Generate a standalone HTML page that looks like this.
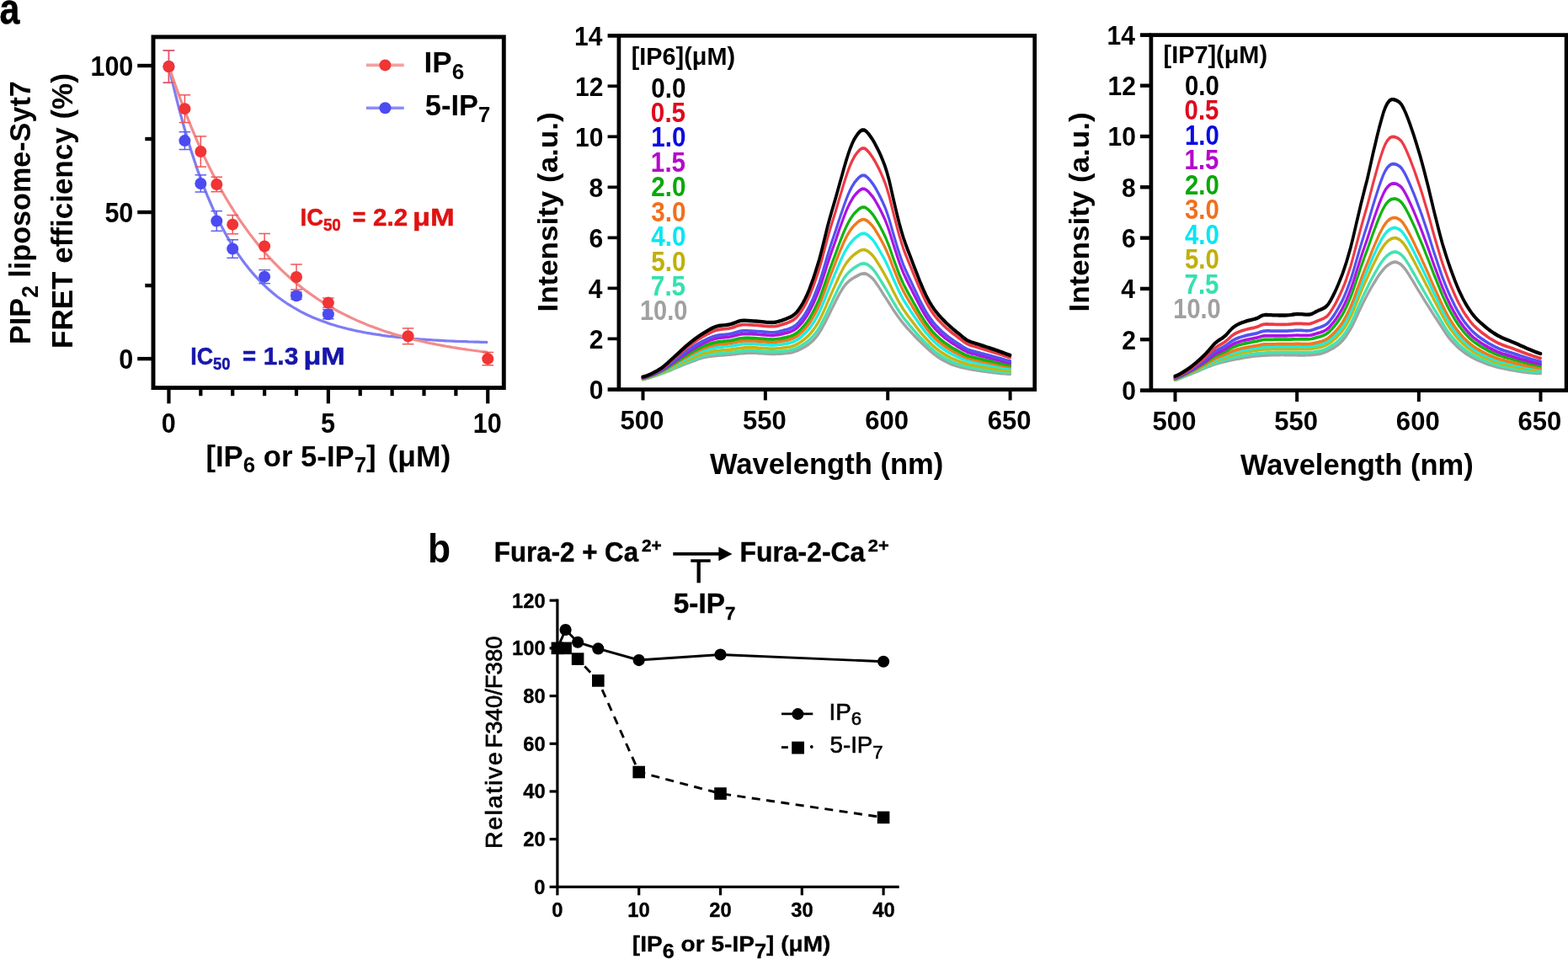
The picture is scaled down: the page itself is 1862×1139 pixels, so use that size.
<!DOCTYPE html>
<html lang="en"><head><meta charset="utf-8"><title>Figure</title>
<style>
html,body{margin:0;padding:0;background:#fff;}
body{width:1862px;height:1139px;overflow:hidden;}
svg{display:block;font-family:"Liberation Sans",sans-serif;}
text{white-space:pre;}
</style></head><body>
<svg width="1862" height="1139" viewBox="0 0 1862 1139">
<rect width="1862" height="1139" fill="#fff"/>
<g id="panelA">
<text transform="translate(-0.39,28.10) scale(0.8299,1)" font-weight="bold" fill="#000" stroke="#000" stroke-width="0.5"><tspan font-size="51.8">a</tspan></text>
<rect x="182.0" y="43.9" width="416.3" height="416.7" fill="none" stroke="#000" stroke-width="4.9"/>
<line x1="163.20" y1="426.10" x2="180.50" y2="426.10" stroke="#000" stroke-width="4.4" />
<line x1="163.20" y1="252.05" x2="180.50" y2="252.05" stroke="#000" stroke-width="4.4" />
<line x1="163.20" y1="78.00" x2="180.50" y2="78.00" stroke="#000" stroke-width="4.4" />
<line x1="172.30" y1="339.08" x2="180.50" y2="339.08" stroke="#000" stroke-width="4.4" />
<line x1="172.30" y1="165.03" x2="180.50" y2="165.03" stroke="#000" stroke-width="4.4" />
<line x1="200.45" y1="462.00" x2="200.45" y2="479.30" stroke="#000" stroke-width="4.2" />
<line x1="238.33" y1="462.00" x2="238.33" y2="470.20" stroke="#000" stroke-width="4.2" />
<line x1="276.21" y1="462.00" x2="276.21" y2="470.20" stroke="#000" stroke-width="4.2" />
<line x1="314.09" y1="462.00" x2="314.09" y2="470.20" stroke="#000" stroke-width="4.2" />
<line x1="351.97" y1="462.00" x2="351.97" y2="470.20" stroke="#000" stroke-width="4.2" />
<line x1="389.85" y1="462.00" x2="389.85" y2="479.30" stroke="#000" stroke-width="4.2" />
<line x1="427.73" y1="462.00" x2="427.73" y2="470.20" stroke="#000" stroke-width="4.2" />
<line x1="465.61" y1="462.00" x2="465.61" y2="470.20" stroke="#000" stroke-width="4.2" />
<line x1="503.49" y1="462.00" x2="503.49" y2="470.20" stroke="#000" stroke-width="4.2" />
<line x1="541.37" y1="462.00" x2="541.37" y2="470.20" stroke="#000" stroke-width="4.2" />
<line x1="579.25" y1="462.00" x2="579.25" y2="479.30" stroke="#000" stroke-width="4.2" />
<text transform="translate(141.30,437.80) scale(0.9100,1)" font-weight="bold" fill="#000" ><tspan font-size="33.5">0</tspan></text>
<text transform="translate(124.38,263.75) scale(0.9100,1)" font-weight="bold" fill="#000" ><tspan font-size="33.5">50</tspan></text>
<text transform="translate(107.46,89.70) scale(0.9100,1)" font-weight="bold" fill="#000" ><tspan font-size="33.5">100</tspan></text>
<text transform="translate(191.69,513.80) scale(0.9100,1)" font-weight="bold" fill="#000" ><tspan font-size="33.5">0</tspan></text>
<text transform="translate(381.01,513.80) scale(0.9100,1)" font-weight="bold" fill="#000" ><tspan font-size="33.5">5</tspan></text>
<text transform="translate(561.73,513.80) scale(0.9100,1)" font-weight="bold" fill="#000" ><tspan font-size="33.5">10</tspan></text>
<text y="554.00" font-weight="bold" fill="#000" ><tspan font-size="35" x="244.39" textLength="44.35" lengthAdjust="spacingAndGlyphs">[IP</tspan><tspan font-size="26" dy="7.20" textLength="14.34" lengthAdjust="spacingAndGlyphs">6</tspan><tspan font-size="35" dy="-7.20" textLength="117.64" lengthAdjust="spacingAndGlyphs"> or 5-IP</tspan><tspan font-size="26" dy="7.20" textLength="14.34" lengthAdjust="spacingAndGlyphs">7</tspan><tspan font-size="35" dy="-7.20" textLength="11.56" lengthAdjust="spacingAndGlyphs">]</tspan><tspan font-size="35" x="450.71" textLength="84.62" lengthAdjust="spacingAndGlyphs"> (μM)</tspan></text>
<text transform="translate(36.00,408.92) rotate(-90) scale(0.9623,1)" font-weight="bold" fill="#000" ><tspan font-size="35.5">PIP</tspan><tspan font-size="27.5" dy="8.70">2</tspan><tspan font-size="35.5" dy="-8.70"> liposome-Syt7</tspan></text>
<text transform="translate(85.50,413.98) rotate(-90) scale(0.9868,1)" font-weight="bold" fill="#000" ><tspan font-size="35.5">FRET efficiency (%)</tspan></text>
<path d="M200.4,78.0 L204.2,94.8 L208.0,110.7 L211.8,125.8 L215.6,140.1 L219.4,153.8 L223.2,166.7 L227.0,179.0 L230.8,190.6 L234.5,201.7 L238.3,212.1 L242.1,222.1 L245.9,231.6 L249.7,240.5 L253.5,249.1 L257.3,257.1 L261.1,264.8 L264.8,272.1 L268.6,279.0 L272.4,285.6 L276.2,291.8 L280.0,297.7 L283.8,303.3 L287.6,308.7 L291.4,313.7 L295.1,318.5 L298.9,323.1 L302.7,327.4 L306.5,331.5 L310.3,335.4 L314.1,339.1 L317.9,342.7 L321.7,346.0 L325.5,349.2 L329.2,352.2 L333.0,355.0 L336.8,357.7 L340.6,360.3 L344.4,362.7 L348.2,365.0 L352.0,367.2 L355.8,369.3 L359.5,371.3 L363.3,373.2 L367.1,375.0 L370.9,376.7 L374.7,378.3 L378.5,379.8 L382.3,381.3 L386.1,382.6 L389.9,383.9 L393.6,385.2 L397.4,386.3 L401.2,387.5 L405.0,388.5 L408.8,389.5 L412.6,390.5 L416.4,391.4 L420.2,392.3 L423.9,393.1 L427.7,393.8 L431.5,394.6 L435.3,395.3 L439.1,395.9 L442.9,396.6 L446.7,397.2 L450.5,397.7 L454.2,398.3 L458.0,398.8 L461.8,399.3 L465.6,399.7 L469.4,400.2 L473.2,400.6 L477.0,401.0 L480.8,401.4 L484.6,401.7 L488.3,402.0 L492.1,402.4 L495.9,402.7 L499.7,403.0 L503.5,403.2 L507.3,403.5 L511.1,403.7 L514.9,404.0 L518.6,404.2 L522.4,404.4 L526.2,404.6 L530.0,404.8 L533.8,405.0 L537.6,405.1 L541.4,405.3 L545.2,405.5 L548.9,405.6 L552.7,405.7 L556.5,405.9 L560.3,406.0 L564.1,406.1 L567.9,406.2 L571.7,406.3 L575.5,406.4 L579.2,406.5" fill="none" stroke="#7d7df3" stroke-width="3.2" stroke-linejoin="round" stroke-linecap="butt" />
<line x1="200.45" y1="59.90" x2="200.45" y2="98.19" stroke="#6060f0" stroke-width="1.5" />
<line x1="193.65" y1="59.90" x2="207.25" y2="59.90" stroke="#6060f0" stroke-width="1.5" />
<line x1="193.65" y1="98.19" x2="207.25" y2="98.19" stroke="#6060f0" stroke-width="1.5" />
<line x1="219.39" y1="156.67" x2="219.39" y2="177.56" stroke="#6060f0" stroke-width="1.5" />
<line x1="212.59" y1="156.67" x2="226.19" y2="156.67" stroke="#6060f0" stroke-width="1.5" />
<line x1="212.59" y1="177.56" x2="226.19" y2="177.56" stroke="#6060f0" stroke-width="1.5" />
<line x1="238.33" y1="207.84" x2="238.33" y2="228.03" stroke="#6060f0" stroke-width="1.5" />
<line x1="231.53" y1="207.84" x2="245.13" y2="207.84" stroke="#6060f0" stroke-width="1.5" />
<line x1="231.53" y1="228.03" x2="245.13" y2="228.03" stroke="#6060f0" stroke-width="1.5" />
<line x1="257.27" y1="250.66" x2="257.27" y2="274.33" stroke="#6060f0" stroke-width="1.5" />
<line x1="250.47" y1="250.66" x2="264.07" y2="250.66" stroke="#6060f0" stroke-width="1.5" />
<line x1="250.47" y1="274.33" x2="264.07" y2="274.33" stroke="#6060f0" stroke-width="1.5" />
<line x1="276.21" y1="284.77" x2="276.21" y2="306.35" stroke="#6060f0" stroke-width="1.5" />
<line x1="269.41" y1="284.77" x2="283.01" y2="284.77" stroke="#6060f0" stroke-width="1.5" />
<line x1="269.41" y1="306.35" x2="283.01" y2="306.35" stroke="#6060f0" stroke-width="1.5" />
<line x1="314.09" y1="320.63" x2="314.09" y2="336.64" stroke="#6060f0" stroke-width="1.5" />
<line x1="307.29" y1="320.63" x2="320.89" y2="320.63" stroke="#6060f0" stroke-width="1.5" />
<line x1="307.29" y1="336.64" x2="320.89" y2="336.64" stroke="#6060f0" stroke-width="1.5" />
<line x1="351.97" y1="347.08" x2="351.97" y2="355.44" stroke="#6060f0" stroke-width="1.5" />
<line x1="345.17" y1="347.08" x2="358.77" y2="347.08" stroke="#6060f0" stroke-width="1.5" />
<line x1="345.17" y1="355.44" x2="358.77" y2="355.44" stroke="#6060f0" stroke-width="1.5" />
<line x1="389.85" y1="367.62" x2="389.85" y2="378.76" stroke="#6060f0" stroke-width="1.5" />
<line x1="383.05" y1="367.62" x2="396.65" y2="367.62" stroke="#6060f0" stroke-width="1.5" />
<line x1="383.05" y1="378.76" x2="396.65" y2="378.76" stroke="#6060f0" stroke-width="1.5" />
<circle cx="200.45" cy="79.04" r="7" fill="#4b4bf1"/>
<circle cx="219.39" cy="167.11" r="7" fill="#4b4bf1"/>
<circle cx="238.33" cy="217.94" r="7" fill="#4b4bf1"/>
<circle cx="257.27" cy="262.49" r="7" fill="#4b4bf1"/>
<circle cx="276.21" cy="295.56" r="7" fill="#4b4bf1"/>
<circle cx="314.09" cy="328.63" r="7" fill="#4b4bf1"/>
<circle cx="351.97" cy="351.26" r="7" fill="#4b4bf1"/>
<circle cx="389.85" cy="373.19" r="7" fill="#4b4bf1"/>
<path d="M200.4,78.0 L204.2,89.4 L208.0,100.5 L211.8,111.1 L215.6,121.5 L219.4,131.5 L223.2,141.2 L227.0,150.6 L230.8,159.6 L234.5,168.4 L238.3,176.9 L242.1,185.1 L245.9,193.1 L249.7,200.8 L253.5,208.2 L257.3,215.4 L261.1,222.4 L264.8,229.2 L268.6,235.7 L272.4,242.0 L276.2,248.1 L280.0,254.1 L283.8,259.8 L287.6,265.3 L291.4,270.7 L295.1,275.9 L298.9,280.9 L302.7,285.8 L306.5,290.5 L310.3,295.1 L314.1,299.5 L317.9,303.7 L321.7,307.9 L325.5,311.9 L329.2,315.7 L333.0,319.5 L336.8,323.1 L340.6,326.6 L344.4,330.0 L348.2,333.3 L352.0,336.4 L355.8,339.5 L359.5,342.5 L363.3,345.4 L367.1,348.1 L370.9,350.8 L374.7,353.4 L378.5,356.0 L382.3,358.4 L386.1,360.8 L389.9,363.1 L393.6,365.3 L397.4,367.4 L401.2,369.5 L405.0,371.5 L408.8,373.4 L412.6,375.3 L416.4,377.1 L420.2,378.9 L423.9,380.6 L427.7,382.2 L431.5,383.8 L435.3,385.4 L439.1,386.9 L442.9,388.3 L446.7,389.7 L450.5,391.1 L454.2,392.4 L458.0,393.7 L461.8,394.9 L465.6,396.1 L469.4,397.2 L473.2,398.3 L477.0,399.4 L480.8,400.4 L484.6,401.5 L488.3,402.4 L492.1,403.4 L495.9,404.3 L499.7,405.2 L503.5,406.0 L507.3,406.9 L511.1,407.7 L514.9,408.4 L518.6,409.2 L522.4,409.9 L526.2,410.6 L530.0,411.3 L533.8,411.9 L537.6,412.6 L541.4,413.2 L545.2,413.8 L548.9,414.4 L552.7,414.9 L556.5,415.5 L560.3,416.0 L564.1,416.5 L567.9,417.0 L571.7,417.5 L575.5,417.9 L579.2,418.4" fill="none" stroke="#f38c8c" stroke-width="3.2" stroke-linejoin="round" stroke-linecap="butt" />
<line x1="200.45" y1="59.72" x2="200.45" y2="98.36" stroke="#f05656" stroke-width="1.5" />
<line x1="193.65" y1="59.72" x2="207.25" y2="59.72" stroke="#f05656" stroke-width="1.5" />
<line x1="193.65" y1="98.36" x2="207.25" y2="98.36" stroke="#f05656" stroke-width="1.5" />
<line x1="219.39" y1="112.81" x2="219.39" y2="145.53" stroke="#f05656" stroke-width="1.5" />
<line x1="212.59" y1="112.81" x2="226.19" y2="112.81" stroke="#f05656" stroke-width="1.5" />
<line x1="212.59" y1="145.53" x2="226.19" y2="145.53" stroke="#f05656" stroke-width="1.5" />
<line x1="238.33" y1="161.89" x2="238.33" y2="198.09" stroke="#f05656" stroke-width="1.5" />
<line x1="231.53" y1="161.89" x2="245.13" y2="161.89" stroke="#f05656" stroke-width="1.5" />
<line x1="231.53" y1="198.09" x2="245.13" y2="198.09" stroke="#f05656" stroke-width="1.5" />
<line x1="257.27" y1="210.28" x2="257.27" y2="227.68" stroke="#f05656" stroke-width="1.5" />
<line x1="250.47" y1="210.28" x2="264.07" y2="210.28" stroke="#f05656" stroke-width="1.5" />
<line x1="250.47" y1="227.68" x2="264.07" y2="227.68" stroke="#f05656" stroke-width="1.5" />
<line x1="276.21" y1="255.53" x2="276.21" y2="277.81" stroke="#f05656" stroke-width="1.5" />
<line x1="269.41" y1="255.53" x2="283.01" y2="255.53" stroke="#f05656" stroke-width="1.5" />
<line x1="269.41" y1="277.81" x2="283.01" y2="277.81" stroke="#f05656" stroke-width="1.5" />
<line x1="314.09" y1="277.46" x2="314.09" y2="307.40" stroke="#f05656" stroke-width="1.5" />
<line x1="307.29" y1="277.46" x2="320.89" y2="277.46" stroke="#f05656" stroke-width="1.5" />
<line x1="307.29" y1="307.40" x2="320.89" y2="307.40" stroke="#f05656" stroke-width="1.5" />
<line x1="351.97" y1="314.01" x2="351.97" y2="343.95" stroke="#f05656" stroke-width="1.5" />
<line x1="345.17" y1="314.01" x2="358.77" y2="314.01" stroke="#f05656" stroke-width="1.5" />
<line x1="345.17" y1="343.95" x2="358.77" y2="343.95" stroke="#f05656" stroke-width="1.5" />
<line x1="389.85" y1="354.04" x2="389.85" y2="365.18" stroke="#f05656" stroke-width="1.5" />
<line x1="383.05" y1="354.04" x2="396.65" y2="354.04" stroke="#f05656" stroke-width="1.5" />
<line x1="383.05" y1="365.18" x2="396.65" y2="365.18" stroke="#f05656" stroke-width="1.5" />
<line x1="484.55" y1="389.90" x2="484.55" y2="408.70" stroke="#f05656" stroke-width="1.5" />
<line x1="477.75" y1="389.90" x2="491.35" y2="389.90" stroke="#f05656" stroke-width="1.5" />
<line x1="477.75" y1="408.70" x2="491.35" y2="408.70" stroke="#f05656" stroke-width="1.5" />
<line x1="579.25" y1="418.44" x2="579.25" y2="433.76" stroke="#f05656" stroke-width="1.5" />
<line x1="572.45" y1="418.44" x2="586.05" y2="418.44" stroke="#f05656" stroke-width="1.5" />
<line x1="572.45" y1="433.76" x2="586.05" y2="433.76" stroke="#f05656" stroke-width="1.5" />
<circle cx="200.45" cy="79.04" r="7" fill="#f13434"/>
<circle cx="219.39" cy="129.17" r="7" fill="#f13434"/>
<circle cx="238.33" cy="179.99" r="7" fill="#f13434"/>
<circle cx="257.27" cy="218.98" r="7" fill="#f13434"/>
<circle cx="276.21" cy="266.67" r="7" fill="#f13434"/>
<circle cx="314.09" cy="292.43" r="7" fill="#f13434"/>
<circle cx="351.97" cy="328.98" r="7" fill="#f13434"/>
<circle cx="389.85" cy="359.61" r="7" fill="#f13434"/>
<circle cx="484.55" cy="399.30" r="7" fill="#f13434"/>
<circle cx="579.25" cy="426.10" r="7" fill="#f13434"/>
<line x1="434.80" y1="77.40" x2="479.70" y2="77.40" stroke="#f3a0a0" stroke-width="3.6" />
<circle cx="457.4" cy="77.4" r="7" fill="#f13434"/>
<line x1="434.80" y1="128.30" x2="479.70" y2="128.30" stroke="#8c8cf3" stroke-width="3.6" />
<circle cx="457.4" cy="128.3" r="7" fill="#4b4bf1"/>
<text transform="translate(503.52,86.40) scale(1.0244,1)" font-weight="bold" fill="#000" ><tspan font-size="34.3">IP</tspan><tspan font-size="25.5" dy="7.70">6</tspan></text>
<text transform="translate(504.76,137.10) scale(1.0065,1)" font-weight="bold" fill="#000" ><tspan font-size="34.3">5-IP</tspan><tspan font-size="25.5" dy="7.70">7</tspan></text>
<text y="268.00" font-weight="bold" fill="#e01212" stroke="#e01212" stroke-width="0.5" stroke-linejoin="round"><tspan font-size="30" x="356.52" textLength="27.43" lengthAdjust="spacingAndGlyphs">IC</tspan><tspan font-size="20.5" dy="6.40" textLength="20.85" lengthAdjust="spacingAndGlyphs">50</tspan><tspan font-size="30" x="411.45" dy="-6.40" textLength="30.46" lengthAdjust="spacingAndGlyphs"> = </tspan><tspan font-size="30" x="443.06" textLength="41.12" lengthAdjust="spacingAndGlyphs">2.2</tspan><tspan font-size="30" x="480.48" textLength="59.14" lengthAdjust="spacingAndGlyphs"> μM</tspan></text>
<text y="432.90" font-weight="bold" fill="#1616aa" stroke="#1616aa" stroke-width="0.5" stroke-linejoin="round"><tspan font-size="30" x="226.15" textLength="26.95" lengthAdjust="spacingAndGlyphs">IC</tspan><tspan font-size="20.5" dy="6.40" textLength="20.48" lengthAdjust="spacingAndGlyphs">50</tspan><tspan font-size="30" x="280.39" dy="-6.40" textLength="31.37" lengthAdjust="spacingAndGlyphs"> = </tspan><tspan font-size="30" x="312.81" textLength="41.44" lengthAdjust="spacingAndGlyphs">1.3</tspan><tspan font-size="30" x="350.97" textLength="58.74" lengthAdjust="spacingAndGlyphs"> μM</tspan></text>
</g>
<g id="panelIP6">
<path d="M763.2,450.2 L765.6,449.7 L768.1,449.0 L770.5,448.2 L773.0,447.4 L775.4,446.7 L777.8,445.9 L780.3,445.0 L782.7,444.2 L785.2,443.3 L787.6,442.5 L790.0,441.6 L792.5,440.6 L794.9,439.7 L797.3,438.7 L799.8,437.6 L802.2,436.6 L804.7,435.6 L807.1,434.5 L809.5,433.5 L812.0,432.6 L814.4,431.6 L816.8,430.7 L819.3,429.8 L821.7,428.8 L824.2,427.9 L826.6,427.0 L829.0,426.1 L831.5,425.3 L833.9,424.6 L836.3,423.9 L838.8,423.4 L841.2,423.0 L843.7,422.7 L846.1,422.4 L848.5,422.2 L851.0,421.9 L853.4,421.7 L855.8,421.5 L858.3,421.4 L860.7,421.2 L863.2,421.0 L865.6,420.8 L868.0,420.6 L870.5,420.3 L872.9,420.1 L875.4,419.8 L877.8,419.5 L880.2,419.3 L882.7,419.1 L885.1,418.9 L887.5,418.8 L890.0,418.7 L892.4,418.7 L894.9,418.7 L897.3,418.8 L899.7,418.9 L902.2,419.1 L904.6,419.2 L907.0,419.4 L909.5,419.5 L911.9,419.7 L914.4,419.8 L916.8,419.8 L919.2,419.8 L921.7,419.8 L924.1,419.7 L926.5,419.6 L929.0,419.4 L931.4,419.2 L933.9,419.0 L936.3,418.7 L938.7,418.4 L941.2,417.9 L943.6,417.1 L946.1,416.2 L948.5,415.2 L950.9,414.0 L953.4,412.7 L955.8,411.4 L958.2,409.9 L960.7,408.1 L963.1,406.1 L965.6,403.8 L968.0,401.2 L970.4,398.2 L972.9,394.7 L975.3,390.8 L977.7,386.5 L980.2,381.9 L982.6,377.0 L985.1,372.0 L987.5,367.0 L989.9,362.1 L992.4,357.1 L994.8,352.4 L997.2,347.9 L999.7,343.8 L1002.1,340.0 L1004.6,336.9 L1007.0,334.5 L1009.4,332.4 L1011.9,330.7 L1014.3,329.2 L1016.8,327.8 L1019.2,326.5 L1021.6,325.3 L1024.1,324.6 L1026.5,324.4 L1028.9,325.0 L1031.4,326.4 L1033.8,328.2 L1036.3,330.4 L1038.7,333.3 L1041.1,336.7 L1043.6,340.4 L1046.0,344.2 L1048.4,348.0 L1050.9,351.9 L1053.3,355.7 L1055.8,359.6 L1058.2,363.4 L1060.6,367.2 L1063.1,370.8 L1065.5,374.3 L1067.9,377.6 L1070.4,380.9 L1072.8,383.9 L1075.3,386.8 L1077.7,389.6 L1080.1,392.2 L1082.6,394.9 L1085.0,397.5 L1087.5,400.0 L1089.9,402.5 L1092.3,404.9 L1094.8,407.3 L1097.2,409.6 L1099.6,411.8 L1102.1,414.0 L1104.5,416.2 L1107.0,418.2 L1109.4,420.2 L1111.8,422.1 L1114.3,423.8 L1116.7,425.4 L1119.1,426.8 L1121.6,428.1 L1124.0,429.4 L1126.5,430.6 L1128.9,431.7 L1131.3,432.7 L1133.8,433.5 L1136.2,434.3 L1138.6,435.0 L1141.1,435.6 L1143.5,436.2 L1146.0,436.7 L1148.4,437.3 L1150.8,437.7 L1153.3,438.2 L1155.7,438.6 L1158.2,439.0 L1160.6,439.4 L1163.0,439.8 L1165.5,440.2 L1167.9,440.5 L1170.3,440.8 L1172.8,441.2 L1175.2,441.5 L1177.7,441.8 L1180.1,442.1 L1182.5,442.3 L1185.0,442.6 L1187.4,442.9 L1189.8,443.1 L1192.3,443.3 L1194.7,443.5 L1197.2,443.7 L1199.6,443.8 L1199.6,444.7 L1197.2,444.6 L1194.7,444.4 L1192.3,444.2 L1189.8,444.0 L1187.4,443.8 L1185.0,443.5 L1182.5,443.2 L1180.1,443.0 L1177.7,442.7 L1175.2,442.4 L1172.8,442.1 L1170.3,441.7 L1167.9,441.4 L1165.5,441.1 L1163.0,440.7 L1160.6,440.3 L1158.2,439.9 L1155.7,439.5 L1153.3,439.1 L1150.8,438.6 L1148.4,438.2 L1146.0,437.6 L1143.5,437.1 L1141.1,436.5 L1138.6,435.9 L1136.2,435.2 L1133.8,434.4 L1131.3,433.6 L1128.9,432.6 L1126.5,431.5 L1124.0,430.3 L1121.6,429.0 L1119.1,427.7 L1116.7,426.3 L1114.3,424.7 L1111.8,423.0 L1109.4,421.1 L1107.0,419.1 L1104.5,417.1 L1102.1,414.9 L1099.6,412.7 L1097.2,410.5 L1094.8,408.2 L1092.3,405.8 L1089.9,403.4 L1087.5,400.9 L1085.0,398.4 L1082.6,395.8 L1080.1,393.1 L1077.7,390.5 L1075.3,387.7 L1072.8,384.8 L1070.4,381.8 L1067.9,378.5 L1065.5,375.2 L1063.1,371.7 L1060.6,368.1 L1058.2,364.3 L1055.8,360.5 L1053.3,356.6 L1050.9,352.8 L1048.4,348.9 L1046.0,345.1 L1043.6,341.3 L1041.1,337.6 L1038.7,334.2 L1036.3,331.3 L1033.8,329.1 L1031.4,327.3 L1028.9,325.9 L1026.5,325.3 L1024.1,325.5 L1021.6,326.2 L1019.2,327.4 L1016.8,328.7 L1014.3,330.1 L1011.9,331.6 L1009.4,333.3 L1007.0,335.4 L1004.6,337.8 L1002.1,340.9 L999.7,344.7 L997.2,348.8 L994.8,353.3 L992.4,358.0 L989.9,363.0 L987.5,367.9 L985.1,372.9 L982.6,377.9 L980.2,382.8 L977.7,387.4 L975.3,391.7 L972.9,395.6 L970.4,399.1 L968.0,402.1 L965.6,404.7 L963.1,407.0 L960.7,409.0 L958.2,410.8 L955.8,412.3 L953.4,413.6 L950.9,414.9 L948.5,416.1 L946.1,417.1 L943.6,418.0 L941.2,418.8 L938.7,419.3 L936.3,419.6 L933.9,419.9 L931.4,420.1 L929.0,420.3 L926.5,420.5 L924.1,420.6 L921.7,420.7 L919.2,420.7 L916.8,420.7 L914.4,420.7 L911.9,420.6 L909.5,420.4 L907.0,420.3 L904.6,420.1 L902.2,420.0 L899.7,419.8 L897.3,419.7 L894.9,419.6 L892.4,419.6 L890.0,419.6 L887.5,419.7 L885.1,419.8 L882.7,420.0 L880.2,420.2 L877.8,420.4 L875.4,420.7 L872.9,421.0 L870.5,421.2 L868.0,421.5 L865.6,421.7 L863.2,421.9 L860.7,422.1 L858.3,422.3 L855.8,422.4 L853.4,422.6 L851.0,422.8 L848.5,423.1 L846.1,423.3 L843.7,423.6 L841.2,423.9 L838.8,424.3 L836.3,424.8 L833.9,425.5 L831.5,426.2 L829.0,427.0 L826.6,427.9 L824.2,428.8 L821.7,429.7 L819.3,430.7 L816.8,431.6 L814.4,432.5 L812.0,433.5 L809.5,434.4 L807.1,435.4 L804.7,436.5 L802.2,437.5 L799.8,438.5 L797.3,439.6 L794.9,440.6 L792.5,441.5 L790.0,442.5 L787.6,443.4 L785.2,444.2 L782.7,445.1 L780.3,445.9 L777.8,446.8 L775.4,447.6 L773.0,448.3 L770.5,449.1 L768.1,449.9 L765.6,450.6 L763.2,451.1Z" fill="#a2a2a2" stroke="#a2a2a2" stroke-width="2.85" stroke-linejoin="round"/>
<path d="M763.2,450.0 L765.6,449.5 L768.1,448.7 L770.5,448.0 L773.0,447.2 L775.4,446.4 L777.8,445.5 L780.3,444.7 L782.7,443.8 L785.2,442.9 L787.6,442.0 L790.0,441.0 L792.5,440.0 L794.9,438.9 L797.3,437.8 L799.8,436.7 L802.2,435.6 L804.7,434.4 L807.1,433.3 L809.5,432.3 L812.0,431.2 L814.4,430.2 L816.8,429.2 L819.3,428.2 L821.7,427.2 L824.2,426.2 L826.6,425.2 L829.0,424.2 L831.5,423.4 L833.9,422.6 L836.3,421.9 L838.8,421.3 L841.2,420.8 L843.7,420.4 L846.1,420.1 L848.5,419.8 L851.0,419.5 L853.4,419.3 L855.8,419.1 L858.3,418.9 L860.7,418.7 L863.2,418.5 L865.6,418.3 L868.0,418.0 L870.5,417.8 L872.9,417.5 L875.4,417.1 L877.8,416.8 L880.2,416.6 L882.7,416.4 L885.1,416.2 L887.5,416.1 L890.0,416.0 L892.4,416.0 L894.9,416.1 L897.3,416.1 L899.7,416.3 L902.2,416.4 L904.6,416.6 L907.0,416.8 L909.5,416.9 L911.9,417.1 L914.4,417.2 L916.8,417.2 L919.2,417.2 L921.7,417.1 L924.1,417.0 L926.5,416.8 L929.0,416.6 L931.4,416.4 L933.9,416.1 L936.3,415.8 L938.7,415.4 L941.2,414.8 L943.6,414.0 L946.1,413.0 L948.5,411.8 L950.9,410.5 L953.4,409.0 L955.8,407.4 L958.2,405.7 L960.7,403.7 L963.1,401.3 L965.6,398.7 L968.0,395.8 L970.4,392.5 L972.9,388.7 L975.3,384.3 L977.7,379.7 L980.2,374.7 L982.6,369.5 L985.1,364.2 L987.5,359.0 L989.9,353.8 L992.4,348.6 L994.8,343.5 L997.2,338.8 L999.7,334.3 L1002.1,330.2 L1004.6,326.7 L1007.0,323.9 L1009.4,321.5 L1011.9,319.5 L1014.3,317.7 L1016.8,316.1 L1019.2,314.7 L1021.6,313.4 L1024.1,312.6 L1026.5,312.5 L1028.9,313.2 L1031.4,314.6 L1033.8,316.5 L1036.3,318.9 L1038.7,321.8 L1041.1,325.4 L1043.6,329.2 L1046.0,333.0 L1048.4,337.0 L1050.9,341.0 L1053.3,345.2 L1055.8,349.4 L1058.2,353.7 L1060.6,357.9 L1063.1,362.0 L1065.5,366.0 L1067.9,369.8 L1070.4,373.4 L1072.8,376.8 L1075.3,380.0 L1077.7,383.0 L1080.1,385.9 L1082.6,388.8 L1085.0,391.7 L1087.5,394.5 L1089.9,397.3 L1092.3,400.0 L1094.8,402.6 L1097.2,405.1 L1099.6,407.5 L1102.1,409.9 L1104.5,412.2 L1107.0,414.4 L1109.4,416.5 L1111.8,418.5 L1114.3,420.3 L1116.7,421.9 L1119.1,423.4 L1121.6,424.8 L1124.0,426.2 L1126.5,427.4 L1128.9,428.6 L1131.3,429.7 L1133.8,430.6 L1136.2,431.5 L1138.6,432.2 L1141.1,433.0 L1143.5,433.7 L1146.0,434.3 L1148.4,434.9 L1150.8,435.4 L1153.3,435.9 L1155.7,436.4 L1158.2,436.8 L1160.6,437.2 L1163.0,437.6 L1165.5,438.0 L1167.9,438.4 L1170.3,438.8 L1172.8,439.1 L1175.2,439.5 L1177.7,439.8 L1180.1,440.1 L1182.5,440.4 L1185.0,440.8 L1187.4,441.0 L1189.8,441.3 L1192.3,441.6 L1194.7,441.8 L1197.2,442.1 L1199.6,442.2 L1199.6,443.1 L1197.2,443.0 L1194.7,442.7 L1192.3,442.5 L1189.8,442.2 L1187.4,441.9 L1185.0,441.7 L1182.5,441.3 L1180.1,441.0 L1177.7,440.7 L1175.2,440.4 L1172.8,440.0 L1170.3,439.7 L1167.9,439.3 L1165.5,438.9 L1163.0,438.5 L1160.6,438.1 L1158.2,437.7 L1155.7,437.3 L1153.3,436.8 L1150.8,436.3 L1148.4,435.8 L1146.0,435.2 L1143.5,434.6 L1141.1,433.9 L1138.6,433.1 L1136.2,432.4 L1133.8,431.5 L1131.3,430.6 L1128.9,429.5 L1126.5,428.3 L1124.0,427.1 L1121.6,425.7 L1119.1,424.3 L1116.7,422.8 L1114.3,421.2 L1111.8,419.4 L1109.4,417.4 L1107.0,415.3 L1104.5,413.1 L1102.1,410.8 L1099.6,408.4 L1097.2,406.0 L1094.8,403.5 L1092.3,400.9 L1089.9,398.2 L1087.5,395.4 L1085.0,392.6 L1082.6,389.7 L1080.1,386.8 L1077.7,383.9 L1075.3,380.9 L1072.8,377.7 L1070.4,374.3 L1067.9,370.7 L1065.5,366.9 L1063.1,362.9 L1060.6,358.8 L1058.2,354.6 L1055.8,350.3 L1053.3,346.1 L1050.9,341.9 L1048.4,337.9 L1046.0,333.9 L1043.6,330.1 L1041.1,326.3 L1038.7,322.7 L1036.3,319.8 L1033.8,317.4 L1031.4,315.5 L1028.9,314.1 L1026.5,313.4 L1024.1,313.5 L1021.6,314.3 L1019.2,315.6 L1016.8,317.0 L1014.3,318.6 L1011.9,320.4 L1009.4,322.4 L1007.0,324.8 L1004.6,327.6 L1002.1,331.1 L999.7,335.2 L997.2,339.7 L994.8,344.4 L992.4,349.5 L989.9,354.7 L987.5,359.9 L985.1,365.1 L982.6,370.4 L980.2,375.6 L977.7,380.6 L975.3,385.2 L972.9,389.6 L970.4,393.4 L968.0,396.7 L965.6,399.6 L963.1,402.2 L960.7,404.6 L958.2,406.6 L955.8,408.3 L953.4,409.9 L950.9,411.4 L948.5,412.7 L946.1,413.9 L943.6,414.9 L941.2,415.7 L938.7,416.3 L936.3,416.7 L933.9,417.0 L931.4,417.3 L929.0,417.5 L926.5,417.7 L924.1,417.9 L921.7,418.0 L919.2,418.1 L916.8,418.1 L914.4,418.1 L911.9,418.0 L909.5,417.8 L907.0,417.7 L904.6,417.5 L902.2,417.3 L899.7,417.2 L897.3,417.0 L894.9,417.0 L892.4,416.9 L890.0,416.9 L887.5,417.0 L885.1,417.1 L882.7,417.3 L880.2,417.5 L877.8,417.7 L875.4,418.0 L872.9,418.4 L870.5,418.7 L868.0,418.9 L865.6,419.2 L863.2,419.4 L860.7,419.6 L858.3,419.8 L855.8,420.0 L853.4,420.2 L851.0,420.4 L848.5,420.7 L846.1,421.0 L843.7,421.3 L841.2,421.7 L838.8,422.2 L836.3,422.8 L833.9,423.5 L831.5,424.3 L829.0,425.1 L826.6,426.1 L824.2,427.1 L821.7,428.1 L819.3,429.1 L816.8,430.1 L814.4,431.1 L812.0,432.1 L809.5,433.2 L807.1,434.2 L804.7,435.3 L802.2,436.5 L799.8,437.6 L797.3,438.7 L794.9,439.8 L792.5,440.9 L790.0,441.9 L787.6,442.9 L785.2,443.8 L782.7,444.7 L780.3,445.6 L777.8,446.4 L775.4,447.3 L773.0,448.1 L770.5,448.9 L768.1,449.6 L765.6,450.4 L763.2,450.9Z" fill="#44e2b2" stroke="#44e2b2" stroke-width="2.85" stroke-linejoin="round"/>
<path d="M763.2,449.7 L765.6,449.2 L768.1,448.4 L770.5,447.7 L773.0,446.8 L775.4,446.0 L777.8,445.1 L780.3,444.2 L782.7,443.2 L785.2,442.3 L787.6,441.3 L790.0,440.2 L792.5,439.0 L794.9,437.9 L797.3,436.6 L799.8,435.4 L802.2,434.2 L804.7,432.9 L807.1,431.7 L809.5,430.5 L812.0,429.3 L814.4,428.2 L816.8,427.1 L819.3,426.0 L821.7,424.9 L824.2,423.8 L826.6,422.7 L829.0,421.7 L831.5,420.7 L833.9,419.8 L836.3,419.1 L838.8,418.4 L841.2,417.8 L843.7,417.3 L846.1,416.9 L848.5,416.5 L851.0,416.2 L853.4,415.9 L855.8,415.7 L858.3,415.5 L860.7,415.3 L863.2,415.1 L865.6,414.8 L868.0,414.6 L870.5,414.2 L872.9,413.9 L875.4,413.5 L877.8,413.1 L880.2,412.9 L882.7,412.7 L885.1,412.5 L887.5,412.4 L890.0,412.4 L892.4,412.4 L894.9,412.4 L897.3,412.5 L899.7,412.7 L902.2,412.8 L904.6,413.0 L907.0,413.2 L909.5,413.3 L911.9,413.5 L914.4,413.6 L916.8,413.6 L919.2,413.6 L921.7,413.5 L924.1,413.3 L926.5,413.1 L929.0,412.8 L931.4,412.5 L933.9,412.2 L936.3,411.8 L938.7,411.4 L941.2,410.7 L943.6,409.8 L946.1,408.6 L948.5,407.2 L950.9,405.7 L953.4,403.9 L955.8,402.0 L958.2,399.9 L960.7,397.5 L963.1,394.8 L965.6,391.7 L968.0,388.3 L970.4,384.6 L972.9,380.3 L975.3,375.5 L977.7,370.3 L980.2,364.8 L982.6,359.1 L985.1,353.4 L987.5,347.8 L989.9,342.3 L992.4,336.8 L994.8,331.4 L997.2,326.2 L999.7,321.3 L1002.1,316.7 L1004.6,312.7 L1007.0,309.4 L1009.4,306.6 L1011.9,304.1 L1014.3,302.0 L1016.8,300.1 L1019.2,298.5 L1021.6,297.1 L1024.1,296.3 L1026.5,296.2 L1028.9,297.0 L1031.4,298.5 L1033.8,300.6 L1036.3,303.0 L1038.7,306.1 L1041.1,309.8 L1043.6,313.7 L1046.0,317.7 L1048.4,321.8 L1050.9,326.1 L1053.3,330.6 L1055.8,335.4 L1058.2,340.3 L1060.6,345.2 L1063.1,350.0 L1065.5,354.6 L1067.9,359.0 L1070.4,363.1 L1072.8,367.0 L1075.3,370.6 L1077.7,374.0 L1080.1,377.3 L1082.6,380.5 L1085.0,383.7 L1087.5,386.9 L1089.9,390.1 L1092.3,393.1 L1094.8,396.1 L1097.2,398.9 L1099.6,401.6 L1102.1,404.2 L1104.5,406.8 L1107.0,409.2 L1109.4,411.4 L1111.8,413.5 L1114.3,415.4 L1116.7,417.2 L1119.1,418.8 L1121.6,420.3 L1124.0,421.8 L1126.5,423.1 L1128.9,424.4 L1131.3,425.6 L1133.8,426.6 L1136.2,427.6 L1138.6,428.5 L1141.1,429.4 L1143.5,430.2 L1146.0,431.0 L1148.4,431.7 L1150.8,432.3 L1153.3,432.8 L1155.7,433.3 L1158.2,433.8 L1160.6,434.2 L1163.0,434.7 L1165.5,435.1 L1167.9,435.5 L1170.3,435.9 L1172.8,436.3 L1175.2,436.7 L1177.7,437.1 L1180.1,437.5 L1182.5,437.9 L1185.0,438.2 L1187.4,438.6 L1189.8,438.9 L1192.3,439.2 L1194.7,439.6 L1197.2,439.9 L1199.6,440.1 L1199.6,441.0 L1197.2,440.8 L1194.7,440.5 L1192.3,440.1 L1189.8,439.8 L1187.4,439.5 L1185.0,439.1 L1182.5,438.8 L1180.1,438.4 L1177.7,438.0 L1175.2,437.6 L1172.8,437.2 L1170.3,436.8 L1167.9,436.4 L1165.5,436.0 L1163.0,435.6 L1160.6,435.1 L1158.2,434.7 L1155.7,434.2 L1153.3,433.7 L1150.8,433.2 L1148.4,432.6 L1146.0,431.9 L1143.5,431.1 L1141.1,430.3 L1138.6,429.4 L1136.2,428.5 L1133.8,427.5 L1131.3,426.5 L1128.9,425.3 L1126.5,424.0 L1124.0,422.7 L1121.6,421.2 L1119.1,419.7 L1116.7,418.1 L1114.3,416.3 L1111.8,414.4 L1109.4,412.3 L1107.0,410.1 L1104.5,407.7 L1102.1,405.1 L1099.6,402.5 L1097.2,399.8 L1094.8,397.0 L1092.3,394.0 L1089.9,391.0 L1087.5,387.8 L1085.0,384.6 L1082.6,381.4 L1080.1,378.2 L1077.7,374.9 L1075.3,371.5 L1072.8,367.9 L1070.4,364.0 L1067.9,359.9 L1065.5,355.5 L1063.1,350.9 L1060.6,346.1 L1058.2,341.2 L1055.8,336.3 L1053.3,331.5 L1050.9,327.0 L1048.4,322.7 L1046.0,318.6 L1043.6,314.6 L1041.1,310.7 L1038.7,307.0 L1036.3,303.9 L1033.8,301.5 L1031.4,299.4 L1028.9,297.9 L1026.5,297.1 L1024.1,297.2 L1021.6,298.0 L1019.2,299.4 L1016.8,301.0 L1014.3,302.9 L1011.9,305.0 L1009.4,307.5 L1007.0,310.3 L1004.6,313.6 L1002.1,317.6 L999.7,322.2 L997.2,327.1 L994.8,332.3 L992.4,337.7 L989.9,343.2 L987.5,348.7 L985.1,354.3 L982.6,360.0 L980.2,365.7 L977.7,371.2 L975.3,376.4 L972.9,381.2 L970.4,385.5 L968.0,389.2 L965.6,392.6 L963.1,395.7 L960.7,398.4 L958.2,400.8 L955.8,402.9 L953.4,404.8 L950.9,406.6 L948.5,408.1 L946.1,409.5 L943.6,410.7 L941.2,411.6 L938.7,412.3 L936.3,412.7 L933.9,413.1 L931.4,413.4 L929.0,413.7 L926.5,414.0 L924.1,414.2 L921.7,414.4 L919.2,414.5 L916.8,414.5 L914.4,414.5 L911.9,414.4 L909.5,414.2 L907.0,414.1 L904.6,413.9 L902.2,413.7 L899.7,413.6 L897.3,413.4 L894.9,413.3 L892.4,413.3 L890.0,413.3 L887.5,413.3 L885.1,413.4 L882.7,413.6 L880.2,413.8 L877.8,414.0 L875.4,414.4 L872.9,414.8 L870.5,415.1 L868.0,415.5 L865.6,415.7 L863.2,416.0 L860.7,416.2 L858.3,416.4 L855.8,416.6 L853.4,416.8 L851.0,417.1 L848.5,417.4 L846.1,417.8 L843.7,418.2 L841.2,418.7 L838.8,419.3 L836.3,420.0 L833.9,420.7 L831.5,421.6 L829.0,422.6 L826.6,423.6 L824.2,424.7 L821.7,425.8 L819.3,426.9 L816.8,428.0 L814.4,429.1 L812.0,430.2 L809.5,431.4 L807.1,432.6 L804.7,433.8 L802.2,435.1 L799.8,436.3 L797.3,437.5 L794.9,438.8 L792.5,439.9 L790.0,441.1 L787.6,442.2 L785.2,443.2 L782.7,444.1 L780.3,445.1 L777.8,446.0 L775.4,446.9 L773.0,447.7 L770.5,448.6 L768.1,449.3 L765.6,450.1 L763.2,450.6Z" fill="#c6b612" stroke="#c6b612" stroke-width="2.85" stroke-linejoin="round"/>
<path d="M763.2,449.3 L765.6,448.8 L768.1,448.1 L770.5,447.3 L773.0,446.4 L775.4,445.5 L777.8,444.6 L780.3,443.6 L782.7,442.6 L785.2,441.5 L787.6,440.4 L790.0,439.2 L792.5,438.0 L794.9,436.6 L797.3,435.3 L799.8,433.9 L802.2,432.5 L804.7,431.1 L807.1,429.8 L809.5,428.4 L812.0,427.1 L814.4,425.8 L816.8,424.6 L819.3,423.4 L821.7,422.1 L824.2,420.9 L826.6,419.7 L829.0,418.6 L831.5,417.6 L833.9,416.6 L836.3,415.7 L838.8,415.0 L841.2,414.3 L843.7,413.7 L846.1,413.1 L848.5,412.6 L851.0,412.2 L853.4,411.9 L855.8,411.7 L858.3,411.5 L860.7,411.3 L863.2,411.0 L865.6,410.8 L868.0,410.5 L870.5,410.1 L872.9,409.6 L875.4,409.2 L877.8,408.8 L880.2,408.5 L882.7,408.3 L885.1,408.1 L887.5,408.1 L890.0,408.0 L892.4,408.1 L894.9,408.1 L897.3,408.2 L899.7,408.4 L902.2,408.5 L904.6,408.7 L907.0,408.9 L909.5,409.1 L911.9,409.2 L914.4,409.4 L916.8,409.4 L919.2,409.4 L921.7,409.2 L924.1,409.0 L926.5,408.7 L929.0,408.4 L931.4,408.0 L933.9,407.6 L936.3,407.1 L938.7,406.5 L941.2,405.8 L943.6,404.8 L946.1,403.4 L948.5,401.8 L950.9,399.9 L953.4,397.9 L955.8,395.6 L958.2,393.1 L960.7,390.2 L963.1,387.0 L965.6,383.4 L968.0,379.5 L970.4,375.2 L972.9,370.4 L975.3,365.1 L977.7,359.3 L980.2,353.1 L982.6,346.9 L985.1,340.7 L987.5,334.7 L989.9,328.8 L992.4,322.9 L994.8,317.0 L997.2,311.4 L999.7,305.9 L1002.1,300.8 L1004.6,296.2 L1007.0,292.3 L1009.4,288.9 L1011.9,285.9 L1014.3,283.4 L1016.8,281.2 L1019.2,279.4 L1021.6,277.8 L1024.1,276.9 L1026.5,276.8 L1028.9,277.8 L1031.4,279.5 L1033.8,281.7 L1036.3,284.3 L1038.7,287.6 L1041.1,291.3 L1043.6,295.4 L1046.0,299.6 L1048.4,303.9 L1050.9,308.5 L1053.3,313.5 L1055.8,318.8 L1058.2,324.5 L1060.6,330.2 L1063.1,335.7 L1065.5,341.1 L1067.9,346.2 L1070.4,351.0 L1072.8,355.5 L1075.3,359.5 L1077.7,363.3 L1080.1,367.0 L1082.6,370.7 L1085.0,374.4 L1087.5,378.0 L1089.9,381.5 L1092.3,385.0 L1094.8,388.4 L1097.2,391.6 L1099.6,394.6 L1102.1,397.5 L1104.5,400.3 L1107.0,402.9 L1109.4,405.4 L1111.8,407.6 L1114.3,409.7 L1116.7,411.5 L1119.1,413.3 L1121.6,415.0 L1124.0,416.6 L1126.5,418.0 L1128.9,419.4 L1131.3,420.7 L1133.8,421.9 L1136.2,423.0 L1138.6,424.1 L1141.1,425.1 L1143.5,426.1 L1146.0,427.0 L1148.4,427.9 L1150.8,428.5 L1153.3,429.1 L1155.7,429.7 L1158.2,430.2 L1160.6,430.7 L1163.0,431.2 L1165.5,431.6 L1167.9,432.1 L1170.3,432.6 L1172.8,433.0 L1175.2,433.5 L1177.7,433.9 L1180.1,434.3 L1182.5,434.8 L1185.0,435.2 L1187.4,435.6 L1189.8,436.1 L1192.3,436.5 L1194.7,436.9 L1197.2,437.2 L1199.6,437.5 L1199.6,438.4 L1197.2,438.1 L1194.7,437.8 L1192.3,437.4 L1189.8,437.0 L1187.4,436.5 L1185.0,436.1 L1182.5,435.7 L1180.1,435.2 L1177.7,434.8 L1175.2,434.4 L1172.8,433.9 L1170.3,433.5 L1167.9,433.0 L1165.5,432.5 L1163.0,432.1 L1160.6,431.6 L1158.2,431.1 L1155.7,430.6 L1153.3,430.0 L1150.8,429.4 L1148.4,428.8 L1146.0,427.9 L1143.5,427.0 L1141.1,426.0 L1138.6,425.0 L1136.2,423.9 L1133.8,422.8 L1131.3,421.6 L1128.9,420.3 L1126.5,418.9 L1124.0,417.5 L1121.6,415.9 L1119.1,414.2 L1116.7,412.4 L1114.3,410.6 L1111.8,408.5 L1109.4,406.3 L1107.0,403.8 L1104.5,401.2 L1102.1,398.4 L1099.6,395.5 L1097.2,392.5 L1094.8,389.3 L1092.3,385.9 L1089.9,382.4 L1087.5,378.9 L1085.0,375.3 L1082.6,371.6 L1080.1,367.9 L1077.7,364.2 L1075.3,360.4 L1072.8,356.4 L1070.4,351.9 L1067.9,347.1 L1065.5,342.0 L1063.1,336.6 L1060.6,331.1 L1058.2,325.4 L1055.8,319.7 L1053.3,314.4 L1050.9,309.4 L1048.4,304.8 L1046.0,300.5 L1043.6,296.3 L1041.1,292.2 L1038.7,288.5 L1036.3,285.2 L1033.8,282.6 L1031.4,280.4 L1028.9,278.7 L1026.5,277.7 L1024.1,277.8 L1021.6,278.7 L1019.2,280.3 L1016.8,282.1 L1014.3,284.3 L1011.9,286.8 L1009.4,289.8 L1007.0,293.2 L1004.6,297.1 L1002.1,301.7 L999.7,306.8 L997.2,312.3 L994.8,317.9 L992.4,323.8 L989.9,329.7 L987.5,335.6 L985.1,341.6 L982.6,347.8 L980.2,354.0 L977.7,360.2 L975.3,366.0 L972.9,371.3 L970.4,376.1 L968.0,380.4 L965.6,384.3 L963.1,387.9 L960.7,391.1 L958.2,394.0 L955.8,396.5 L953.4,398.8 L950.9,400.8 L948.5,402.7 L946.1,404.3 L943.6,405.7 L941.2,406.7 L938.7,407.4 L936.3,408.0 L933.9,408.5 L931.4,408.9 L929.0,409.3 L926.5,409.6 L924.1,409.9 L921.7,410.1 L919.2,410.3 L916.8,410.3 L914.4,410.3 L911.9,410.1 L909.5,410.0 L907.0,409.8 L904.6,409.6 L902.2,409.4 L899.7,409.3 L897.3,409.1 L894.9,409.0 L892.4,409.0 L890.0,408.9 L887.5,409.0 L885.1,409.0 L882.7,409.2 L880.2,409.4 L877.8,409.7 L875.4,410.1 L872.9,410.5 L870.5,411.0 L868.0,411.4 L865.6,411.7 L863.2,411.9 L860.7,412.2 L858.3,412.4 L855.8,412.6 L853.4,412.8 L851.0,413.1 L848.5,413.5 L846.1,414.0 L843.7,414.6 L841.2,415.2 L838.8,415.9 L836.3,416.6 L833.9,417.5 L831.5,418.5 L829.0,419.5 L826.6,420.6 L824.2,421.8 L821.7,423.0 L819.3,424.3 L816.8,425.5 L814.4,426.7 L812.0,428.0 L809.5,429.3 L807.1,430.7 L804.7,432.0 L802.2,433.4 L799.8,434.8 L797.3,436.2 L794.9,437.5 L792.5,438.9 L790.0,440.1 L787.6,441.3 L785.2,442.4 L782.7,443.5 L780.3,444.5 L777.8,445.5 L775.4,446.4 L773.0,447.3 L770.5,448.2 L768.1,449.0 L765.6,449.7 L763.2,450.2Z" fill="#1ceee6" stroke="#1ceee6" stroke-width="2.85" stroke-linejoin="round"/>
<path d="M763.2,449.1 L765.6,448.5 L768.1,447.8 L770.5,446.9 L773.0,446.1 L775.4,445.1 L777.8,444.1 L780.3,443.1 L782.7,442.0 L785.2,440.9 L787.6,439.7 L790.0,438.4 L792.5,437.0 L794.9,435.6 L797.3,434.1 L799.8,432.6 L802.2,431.1 L804.7,429.6 L807.1,428.1 L809.5,426.6 L812.0,425.2 L814.4,423.8 L816.8,422.5 L819.3,421.1 L821.7,419.8 L824.2,418.5 L826.6,417.2 L829.0,416.0 L831.5,414.9 L833.9,413.8 L836.3,412.9 L838.8,412.0 L841.2,411.2 L843.7,410.5 L846.1,409.9 L848.5,409.3 L851.0,408.8 L853.4,408.5 L855.8,408.2 L858.3,408.0 L860.7,407.8 L863.2,407.6 L865.6,407.3 L868.0,407.0 L870.5,406.5 L872.9,406.0 L875.4,405.5 L877.8,405.0 L880.2,404.7 L882.7,404.5 L885.1,404.4 L887.5,404.3 L890.0,404.3 L892.4,404.3 L894.9,404.4 L897.3,404.5 L899.7,404.7 L902.2,404.9 L904.6,405.1 L907.0,405.2 L909.5,405.4 L911.9,405.6 L914.4,405.7 L916.8,405.8 L919.2,405.7 L921.7,405.6 L924.1,405.3 L926.5,404.9 L929.0,404.5 L931.4,404.1 L933.9,403.6 L936.3,403.1 L938.7,402.4 L941.2,401.6 L943.6,400.4 L946.1,398.9 L948.5,397.1 L950.9,395.0 L953.4,392.7 L955.8,390.1 L958.2,387.2 L960.7,384.0 L963.1,380.3 L965.6,376.2 L968.0,371.9 L970.4,367.2 L972.9,361.9 L975.3,356.1 L977.7,349.7 L980.2,343.1 L982.6,336.3 L985.1,329.7 L987.5,323.4 L989.9,317.2 L992.4,310.9 L994.8,304.7 L997.2,298.6 L999.7,292.7 L1002.1,287.1 L1004.6,282.0 L1007.0,277.5 L1009.4,273.6 L1011.9,270.2 L1014.3,267.3 L1016.8,265.0 L1019.2,262.9 L1021.6,261.2 L1024.1,260.2 L1026.5,260.2 L1028.9,261.2 L1031.4,263.1 L1033.8,265.5 L1036.3,268.2 L1038.7,271.6 L1041.1,275.5 L1043.6,279.6 L1046.0,284.0 L1048.4,288.5 L1050.9,293.4 L1053.3,298.7 L1055.8,304.5 L1058.2,310.8 L1060.6,317.2 L1063.1,323.4 L1065.5,329.4 L1067.9,335.2 L1070.4,340.5 L1072.8,345.5 L1075.3,350.0 L1077.7,354.1 L1080.1,358.2 L1082.6,362.2 L1085.0,366.3 L1087.5,370.3 L1089.9,374.2 L1092.3,378.0 L1094.8,381.7 L1097.2,385.3 L1099.6,388.6 L1102.1,391.8 L1104.5,394.8 L1107.0,397.6 L1109.4,400.2 L1111.8,402.5 L1114.3,404.7 L1116.7,406.7 L1119.1,408.6 L1121.6,410.4 L1124.0,412.1 L1126.5,413.7 L1128.9,415.1 L1131.3,416.5 L1133.8,417.8 L1136.2,419.1 L1138.6,420.2 L1141.1,421.4 L1143.5,422.6 L1146.0,423.6 L1148.4,424.6 L1150.8,425.3 L1153.3,426.0 L1155.7,426.5 L1158.2,427.1 L1160.6,427.6 L1163.0,428.1 L1165.5,428.7 L1167.9,429.2 L1170.3,429.7 L1172.8,430.2 L1175.2,430.7 L1177.7,431.2 L1180.1,431.6 L1182.5,432.1 L1185.0,432.6 L1187.4,433.1 L1189.8,433.6 L1192.3,434.1 L1194.7,434.5 L1197.2,435.0 L1199.6,435.3 L1199.6,436.2 L1197.2,435.9 L1194.7,435.4 L1192.3,435.0 L1189.8,434.5 L1187.4,434.0 L1185.0,433.5 L1182.5,433.0 L1180.1,432.5 L1177.7,432.1 L1175.2,431.6 L1172.8,431.1 L1170.3,430.6 L1167.9,430.1 L1165.5,429.6 L1163.0,429.0 L1160.6,428.5 L1158.2,428.0 L1155.7,427.4 L1153.3,426.9 L1150.8,426.2 L1148.4,425.5 L1146.0,424.5 L1143.5,423.5 L1141.1,422.3 L1138.6,421.1 L1136.2,420.0 L1133.8,418.7 L1131.3,417.4 L1128.9,416.0 L1126.5,414.6 L1124.0,413.0 L1121.6,411.3 L1119.1,409.5 L1116.7,407.6 L1114.3,405.6 L1111.8,403.4 L1109.4,401.1 L1107.0,398.5 L1104.5,395.7 L1102.1,392.7 L1099.6,389.5 L1097.2,386.2 L1094.8,382.6 L1092.3,378.9 L1089.9,375.1 L1087.5,371.2 L1085.0,367.2 L1082.6,363.1 L1080.1,359.1 L1077.7,355.0 L1075.3,350.9 L1072.8,346.4 L1070.4,341.4 L1067.9,336.1 L1065.5,330.3 L1063.1,324.3 L1060.6,318.1 L1058.2,311.7 L1055.8,305.4 L1053.3,299.6 L1050.9,294.3 L1048.4,289.4 L1046.0,284.9 L1043.6,280.5 L1041.1,276.4 L1038.7,272.5 L1036.3,269.1 L1033.8,266.4 L1031.4,264.0 L1028.9,262.1 L1026.5,261.1 L1024.1,261.1 L1021.6,262.1 L1019.2,263.8 L1016.8,265.9 L1014.3,268.2 L1011.9,271.1 L1009.4,274.5 L1007.0,278.4 L1004.6,282.9 L1002.1,288.0 L999.7,293.6 L997.2,299.5 L994.8,305.6 L992.4,311.8 L989.9,318.1 L987.5,324.3 L985.1,330.6 L982.6,337.2 L980.2,344.0 L977.7,350.6 L975.3,357.0 L972.9,362.8 L970.4,368.1 L968.0,372.8 L965.6,377.1 L963.1,381.2 L960.7,384.9 L958.2,388.1 L955.8,391.0 L953.4,393.6 L950.9,395.9 L948.5,398.0 L946.1,399.8 L943.6,401.3 L941.2,402.5 L938.7,403.3 L936.3,404.0 L933.9,404.5 L931.4,405.0 L929.0,405.4 L926.5,405.8 L924.1,406.2 L921.7,406.5 L919.2,406.6 L916.8,406.7 L914.4,406.6 L911.9,406.5 L909.5,406.3 L907.0,406.1 L904.6,406.0 L902.2,405.8 L899.7,405.6 L897.3,405.4 L894.9,405.3 L892.4,405.2 L890.0,405.2 L887.5,405.2 L885.1,405.3 L882.7,405.4 L880.2,405.6 L877.8,405.9 L875.4,406.4 L872.9,406.9 L870.5,407.4 L868.0,407.9 L865.6,408.2 L863.2,408.5 L860.7,408.7 L858.3,408.9 L855.8,409.1 L853.4,409.4 L851.0,409.7 L848.5,410.2 L846.1,410.8 L843.7,411.4 L841.2,412.1 L838.8,412.9 L836.3,413.8 L833.9,414.7 L831.5,415.8 L829.0,416.9 L826.6,418.1 L824.2,419.4 L821.7,420.7 L819.3,422.0 L816.8,423.4 L814.4,424.7 L812.0,426.1 L809.5,427.5 L807.1,429.0 L804.7,430.5 L802.2,432.0 L799.8,433.5 L797.3,435.0 L794.9,436.5 L792.5,437.9 L790.0,439.3 L787.6,440.6 L785.2,441.8 L782.7,442.9 L780.3,444.0 L777.8,445.0 L775.4,446.0 L773.0,447.0 L770.5,447.8 L768.1,448.7 L765.6,449.4 L763.2,450.0Z" fill="#f07a1c" stroke="#f07a1c" stroke-width="2.85" stroke-linejoin="round"/>
<path d="M763.2,448.8 L765.6,448.3 L768.1,447.5 L770.5,446.7 L773.0,445.7 L775.4,444.8 L777.8,443.7 L780.3,442.7 L782.7,441.5 L785.2,440.4 L787.6,439.1 L790.0,437.7 L792.5,436.2 L794.9,434.6 L797.3,433.0 L799.8,431.4 L802.2,429.8 L804.7,428.2 L807.1,426.7 L809.5,425.1 L812.0,423.5 L814.4,422.0 L816.8,420.6 L819.3,419.2 L821.7,417.7 L824.2,416.4 L826.6,415.0 L829.0,413.7 L831.5,412.5 L833.9,411.4 L836.3,410.4 L838.8,409.4 L841.2,408.5 L843.7,407.7 L846.1,407.0 L848.5,406.4 L851.0,405.9 L853.4,405.5 L855.8,405.2 L858.3,405.0 L860.7,404.7 L863.2,404.5 L865.6,404.2 L868.0,403.9 L870.5,403.4 L872.9,402.8 L875.4,402.2 L877.8,401.7 L880.2,401.3 L882.7,401.1 L885.1,401.0 L887.5,401.0 L890.0,401.0 L892.4,401.1 L894.9,401.2 L897.3,401.3 L899.7,401.5 L902.2,401.6 L904.6,401.8 L907.0,402.0 L909.5,402.2 L911.9,402.4 L914.4,402.5 L916.8,402.6 L919.2,402.5 L921.7,402.3 L924.1,402.0 L926.5,401.6 L929.0,401.1 L931.4,400.6 L933.9,400.1 L936.3,399.5 L938.7,398.8 L941.2,397.9 L943.6,396.6 L946.1,395.0 L948.5,393.0 L950.9,390.7 L953.4,388.1 L955.8,385.3 L958.2,382.1 L960.7,378.5 L963.1,374.5 L965.6,370.0 L968.0,365.2 L970.4,360.1 L972.9,354.5 L975.3,348.2 L977.7,341.4 L980.2,334.3 L982.6,327.1 L985.1,320.1 L987.5,313.5 L989.9,307.0 L992.4,300.5 L994.8,293.9 L997.2,287.4 L999.7,281.1 L1002.1,275.1 L1004.6,269.5 L1007.0,264.6 L1009.4,260.3 L1011.9,256.5 L1014.3,253.3 L1016.8,250.7 L1019.2,248.5 L1021.6,246.7 L1024.1,245.6 L1026.5,245.6 L1028.9,246.8 L1031.4,248.8 L1033.8,251.2 L1036.3,254.1 L1038.7,257.6 L1041.1,261.6 L1043.6,265.8 L1046.0,270.3 L1048.4,275.0 L1050.9,280.1 L1053.3,285.7 L1055.8,292.0 L1058.2,298.9 L1060.6,305.9 L1063.1,312.7 L1065.5,319.3 L1067.9,325.5 L1070.4,331.4 L1072.8,336.8 L1075.3,341.6 L1077.7,346.1 L1080.1,350.5 L1082.6,354.8 L1085.0,359.2 L1087.5,363.5 L1089.9,367.8 L1092.3,371.9 L1094.8,375.9 L1097.2,379.7 L1099.6,383.3 L1102.1,386.7 L1104.5,389.9 L1107.0,392.9 L1109.4,395.6 L1111.8,398.1 L1114.3,400.4 L1116.7,402.5 L1119.1,404.5 L1121.6,406.4 L1124.0,408.1 L1126.5,409.8 L1128.9,411.4 L1131.3,412.9 L1133.8,414.3 L1136.2,415.6 L1138.6,416.9 L1141.1,418.2 L1143.5,419.5 L1146.0,420.7 L1148.4,421.7 L1150.8,422.5 L1153.3,423.2 L1155.7,423.8 L1158.2,424.4 L1160.6,424.9 L1163.0,425.5 L1165.5,426.0 L1167.9,426.6 L1170.3,427.1 L1172.8,427.7 L1175.2,428.2 L1177.7,428.7 L1180.1,429.3 L1182.5,429.8 L1185.0,430.4 L1187.4,430.9 L1189.8,431.4 L1192.3,432.0 L1194.7,432.5 L1197.2,433.0 L1199.6,433.4 L1199.6,434.3 L1197.2,433.9 L1194.7,433.4 L1192.3,432.9 L1189.8,432.3 L1187.4,431.8 L1185.0,431.3 L1182.5,430.7 L1180.1,430.2 L1177.7,429.6 L1175.2,429.1 L1172.8,428.6 L1170.3,428.0 L1167.9,427.5 L1165.5,426.9 L1163.0,426.4 L1160.6,425.8 L1158.2,425.3 L1155.7,424.7 L1153.3,424.1 L1150.8,423.4 L1148.4,422.6 L1146.0,421.6 L1143.5,420.4 L1141.1,419.1 L1138.6,417.8 L1136.2,416.5 L1133.8,415.2 L1131.3,413.8 L1128.9,412.3 L1126.5,410.7 L1124.0,409.0 L1121.6,407.3 L1119.1,405.4 L1116.7,403.4 L1114.3,401.3 L1111.8,399.0 L1109.4,396.5 L1107.0,393.8 L1104.5,390.8 L1102.1,387.6 L1099.6,384.2 L1097.2,380.6 L1094.8,376.8 L1092.3,372.8 L1089.9,368.7 L1087.5,364.4 L1085.0,360.1 L1082.6,355.7 L1080.1,351.4 L1077.7,347.0 L1075.3,342.5 L1072.8,337.7 L1070.4,332.3 L1067.9,326.4 L1065.5,320.2 L1063.1,313.6 L1060.6,306.8 L1058.2,299.8 L1055.8,292.9 L1053.3,286.6 L1050.9,281.0 L1048.4,275.9 L1046.0,271.2 L1043.6,266.7 L1041.1,262.5 L1038.7,258.5 L1036.3,255.0 L1033.8,252.1 L1031.4,249.7 L1028.9,247.7 L1026.5,246.5 L1024.1,246.5 L1021.6,247.6 L1019.2,249.4 L1016.8,251.6 L1014.3,254.2 L1011.9,257.4 L1009.4,261.2 L1007.0,265.5 L1004.6,270.4 L1002.1,276.0 L999.7,282.0 L997.2,288.3 L994.8,294.8 L992.4,301.4 L989.9,307.9 L987.5,314.4 L985.1,321.0 L982.6,328.0 L980.2,335.2 L977.7,342.3 L975.3,349.1 L972.9,355.4 L970.4,361.0 L968.0,366.1 L965.6,370.9 L963.1,375.4 L960.7,379.4 L958.2,383.0 L955.8,386.2 L953.4,389.0 L950.9,391.6 L948.5,393.9 L946.1,395.9 L943.6,397.5 L941.2,398.8 L938.7,399.7 L936.3,400.4 L933.9,401.0 L931.4,401.5 L929.0,402.0 L926.5,402.5 L924.1,402.9 L921.7,403.2 L919.2,403.4 L916.8,403.5 L914.4,403.4 L911.9,403.3 L909.5,403.1 L907.0,402.9 L904.6,402.7 L902.2,402.5 L899.7,402.4 L897.3,402.2 L894.9,402.1 L892.4,402.0 L890.0,401.9 L887.5,401.9 L885.1,401.9 L882.7,402.0 L880.2,402.2 L877.8,402.6 L875.4,403.1 L872.9,403.7 L870.5,404.3 L868.0,404.8 L865.6,405.1 L863.2,405.4 L860.7,405.6 L858.3,405.9 L855.8,406.1 L853.4,406.4 L851.0,406.8 L848.5,407.3 L846.1,407.9 L843.7,408.6 L841.2,409.4 L838.8,410.3 L836.3,411.3 L833.9,412.3 L831.5,413.4 L829.0,414.6 L826.6,415.9 L824.2,417.3 L821.7,418.6 L819.3,420.1 L816.8,421.5 L814.4,422.9 L812.0,424.4 L809.5,426.0 L807.1,427.6 L804.7,429.1 L802.2,430.7 L799.8,432.3 L797.3,433.9 L794.9,435.5 L792.5,437.1 L790.0,438.6 L787.6,440.0 L785.2,441.3 L782.7,442.4 L780.3,443.6 L777.8,444.6 L775.4,445.7 L773.0,446.6 L770.5,447.6 L768.1,448.4 L765.6,449.2 L763.2,449.7Z" fill="#12b412" stroke="#12b412" stroke-width="2.85" stroke-linejoin="round"/>
<path d="M763.2,448.4 L765.6,447.9 L768.1,447.1 L770.5,446.2 L773.0,445.3 L775.4,444.3 L777.8,443.2 L780.3,442.0 L782.7,440.8 L785.2,439.5 L787.6,438.2 L790.0,436.6 L792.5,435.0 L794.9,433.2 L797.3,431.5 L799.8,429.7 L802.2,428.0 L804.7,426.2 L807.1,424.5 L809.5,422.8 L812.0,421.1 L814.4,419.4 L816.8,417.8 L819.3,416.2 L821.7,414.7 L824.2,413.2 L826.6,411.7 L829.0,410.3 L831.5,409.0 L833.9,407.8 L836.3,406.6 L838.8,405.6 L841.2,404.5 L843.7,403.6 L846.1,402.8 L848.5,402.0 L851.0,401.4 L853.4,401.0 L855.8,400.7 L858.3,400.4 L860.7,400.2 L863.2,400.0 L865.6,399.7 L868.0,399.3 L870.5,398.7 L872.9,398.0 L875.4,397.4 L877.8,396.8 L880.2,396.4 L882.7,396.2 L885.1,396.1 L887.5,396.1 L890.0,396.2 L892.4,396.3 L894.9,396.4 L897.3,396.5 L899.7,396.7 L902.2,396.8 L904.6,397.1 L907.0,397.3 L909.5,397.5 L911.9,397.6 L914.4,397.8 L916.8,397.8 L919.2,397.8 L921.7,397.5 L924.1,397.2 L926.5,396.7 L929.0,396.1 L931.4,395.5 L933.9,394.9 L936.3,394.2 L938.7,393.4 L941.2,392.3 L943.6,391.0 L946.1,389.2 L948.5,386.9 L950.9,384.3 L953.4,381.4 L955.8,378.1 L958.2,374.5 L960.7,370.4 L963.1,365.7 L965.6,360.7 L968.0,355.3 L970.4,349.6 L972.9,343.4 L975.3,336.5 L977.7,329.0 L980.2,321.2 L982.6,313.3 L985.1,305.8 L987.5,298.7 L989.9,291.9 L992.4,284.9 L994.8,277.8 L997.2,270.7 L999.7,263.9 L1002.1,257.2 L1004.6,250.9 L1007.0,245.3 L1009.4,240.4 L1011.9,236.1 L1014.3,232.4 L1016.8,229.5 L1019.2,227.0 L1021.6,225.0 L1024.1,223.8 L1026.5,223.9 L1028.9,225.2 L1031.4,227.4 L1033.8,230.1 L1036.3,233.1 L1038.7,236.7 L1041.1,240.9 L1043.6,245.3 L1046.0,250.0 L1048.4,254.9 L1050.9,260.3 L1053.3,266.4 L1055.8,273.4 L1058.2,281.1 L1060.6,289.0 L1063.1,296.7 L1065.5,304.1 L1067.9,311.2 L1070.4,317.8 L1072.8,323.8 L1075.3,329.2 L1077.7,334.1 L1080.1,338.9 L1082.6,343.8 L1085.0,348.7 L1087.5,353.5 L1089.9,358.2 L1092.3,362.8 L1094.8,367.3 L1097.2,371.5 L1099.6,375.5 L1102.1,379.2 L1104.5,382.7 L1107.0,385.9 L1109.4,388.8 L1111.8,391.5 L1114.3,393.9 L1116.7,396.2 L1119.1,398.3 L1121.6,400.4 L1124.0,402.3 L1126.5,404.1 L1128.9,405.8 L1131.3,407.4 L1133.8,409.0 L1136.2,410.5 L1138.6,411.9 L1141.1,413.4 L1143.5,414.9 L1146.0,416.2 L1148.4,417.4 L1150.8,418.3 L1153.3,419.1 L1155.7,419.7 L1158.2,420.3 L1160.6,420.9 L1163.0,421.5 L1165.5,422.2 L1167.9,422.8 L1170.3,423.4 L1172.8,424.0 L1175.2,424.6 L1177.7,425.2 L1180.1,425.8 L1182.5,426.4 L1185.0,427.0 L1187.4,427.6 L1189.8,428.2 L1192.3,428.9 L1194.7,429.5 L1197.2,430.1 L1199.6,430.6 L1199.6,431.5 L1197.2,431.0 L1194.7,430.4 L1192.3,429.8 L1189.8,429.1 L1187.4,428.5 L1185.0,427.9 L1182.5,427.3 L1180.1,426.7 L1177.7,426.1 L1175.2,425.5 L1172.8,424.9 L1170.3,424.3 L1167.9,423.7 L1165.5,423.1 L1163.0,422.4 L1160.6,421.8 L1158.2,421.2 L1155.7,420.6 L1153.3,420.0 L1150.8,419.2 L1148.4,418.3 L1146.0,417.1 L1143.5,415.8 L1141.1,414.3 L1138.6,412.8 L1136.2,411.4 L1133.8,409.9 L1131.3,408.3 L1128.9,406.7 L1126.5,405.0 L1124.0,403.2 L1121.6,401.3 L1119.1,399.2 L1116.7,397.1 L1114.3,394.8 L1111.8,392.4 L1109.4,389.7 L1107.0,386.8 L1104.5,383.6 L1102.1,380.1 L1099.6,376.4 L1097.2,372.4 L1094.8,368.2 L1092.3,363.7 L1089.9,359.1 L1087.5,354.4 L1085.0,349.6 L1082.6,344.7 L1080.1,339.8 L1077.7,335.0 L1075.3,330.1 L1072.8,324.7 L1070.4,318.7 L1067.9,312.1 L1065.5,305.0 L1063.1,297.6 L1060.6,289.9 L1058.2,282.0 L1055.8,274.3 L1053.3,267.3 L1050.9,261.2 L1048.4,255.8 L1046.0,250.9 L1043.6,246.2 L1041.1,241.8 L1038.7,237.6 L1036.3,234.0 L1033.8,231.0 L1031.4,228.3 L1028.9,226.1 L1026.5,224.8 L1024.1,224.7 L1021.6,225.9 L1019.2,227.9 L1016.8,230.4 L1014.3,233.3 L1011.9,237.0 L1009.4,241.3 L1007.0,246.2 L1004.6,251.8 L1002.1,258.1 L999.7,264.8 L997.2,271.6 L994.8,278.7 L992.4,285.8 L989.9,292.8 L987.5,299.6 L985.1,306.7 L982.6,314.2 L980.2,322.1 L977.7,329.9 L975.3,337.4 L972.9,344.3 L970.4,350.5 L968.0,356.2 L965.6,361.6 L963.1,366.6 L960.7,371.3 L958.2,375.4 L955.8,379.0 L953.4,382.3 L950.9,385.2 L948.5,387.8 L946.1,390.1 L943.6,391.9 L941.2,393.2 L938.7,394.3 L936.3,395.1 L933.9,395.8 L931.4,396.4 L929.0,397.0 L926.5,397.6 L924.1,398.1 L921.7,398.4 L919.2,398.7 L916.8,398.7 L914.4,398.7 L911.9,398.5 L909.5,398.4 L907.0,398.2 L904.6,398.0 L902.2,397.7 L899.7,397.6 L897.3,397.4 L894.9,397.3 L892.4,397.2 L890.0,397.1 L887.5,397.0 L885.1,397.0 L882.7,397.1 L880.2,397.3 L877.8,397.7 L875.4,398.3 L872.9,398.9 L870.5,399.6 L868.0,400.2 L865.6,400.6 L863.2,400.9 L860.7,401.1 L858.3,401.3 L855.8,401.6 L853.4,401.9 L851.0,402.3 L848.5,402.9 L846.1,403.7 L843.7,404.5 L841.2,405.4 L838.8,406.5 L836.3,407.5 L833.9,408.7 L831.5,409.9 L829.0,411.2 L826.6,412.6 L824.2,414.1 L821.7,415.6 L819.3,417.1 L816.8,418.7 L814.4,420.3 L812.0,422.0 L809.5,423.7 L807.1,425.4 L804.7,427.1 L802.2,428.9 L799.8,430.6 L797.3,432.4 L794.9,434.1 L792.5,435.9 L790.0,437.5 L787.6,439.1 L785.2,440.4 L782.7,441.7 L780.3,442.9 L777.8,444.1 L775.4,445.2 L773.0,446.2 L770.5,447.1 L768.1,448.0 L765.6,448.8 L763.2,449.3Z" fill="#ae12e2" stroke="#ae12e2" stroke-width="2.85" stroke-linejoin="round"/>
<path d="M763.2,448.1 L765.6,447.6 L768.1,446.8 L770.5,445.9 L773.0,444.9 L775.4,443.9 L777.8,442.7 L780.3,441.5 L782.7,440.3 L785.2,438.9 L787.6,437.5 L790.0,435.8 L792.5,434.1 L794.9,432.2 L797.3,430.3 L799.8,428.4 L802.2,426.6 L804.7,424.7 L807.1,422.9 L809.5,421.0 L812.0,419.2 L814.4,417.4 L816.8,415.7 L819.3,414.1 L821.7,412.4 L824.2,410.8 L826.6,409.3 L829.0,407.8 L831.5,406.4 L833.9,405.1 L836.3,403.9 L838.8,402.7 L841.2,401.6 L843.7,400.6 L846.1,399.6 L848.5,398.8 L851.0,398.2 L853.4,397.7 L855.8,397.4 L858.3,397.1 L860.7,396.9 L863.2,396.6 L865.6,396.3 L868.0,395.9 L870.5,395.3 L872.9,394.5 L875.4,393.8 L877.8,393.2 L880.2,392.7 L882.7,392.5 L885.1,392.5 L887.5,392.5 L890.0,392.6 L892.4,392.7 L894.9,392.8 L897.3,393.0 L899.7,393.1 L902.2,393.3 L904.6,393.5 L907.0,393.7 L909.5,393.9 L911.9,394.1 L914.4,394.3 L916.8,394.3 L919.2,394.3 L921.7,394.0 L924.1,393.6 L926.5,393.0 L929.0,392.4 L931.4,391.7 L933.9,391.1 L936.3,390.3 L938.7,389.4 L941.2,388.3 L943.6,386.8 L946.1,384.8 L948.5,382.4 L950.9,379.5 L953.4,376.4 L955.8,372.8 L958.2,368.8 L960.7,364.3 L963.1,359.3 L965.6,353.8 L968.0,348.0 L970.4,341.8 L972.9,335.2 L975.3,327.8 L977.7,319.8 L980.2,311.5 L982.6,303.1 L985.1,295.2 L987.5,287.8 L989.9,280.6 L992.4,273.3 L994.8,265.8 L997.2,258.4 L999.7,251.1 L1002.1,243.9 L1004.6,237.2 L1007.0,231.1 L1009.4,225.7 L1011.9,220.9 L1014.3,217.0 L1016.8,213.8 L1019.2,211.1 L1021.6,209.0 L1024.1,207.8 L1026.5,207.8 L1028.9,209.3 L1031.4,211.6 L1033.8,214.4 L1036.3,217.6 L1038.7,221.3 L1041.1,225.5 L1043.6,230.1 L1046.0,234.9 L1048.4,240.1 L1050.9,245.7 L1053.3,252.1 L1055.8,259.6 L1058.2,268.0 L1060.6,276.5 L1063.1,284.9 L1065.5,292.9 L1067.9,300.5 L1070.4,307.7 L1072.8,314.2 L1075.3,320.0 L1077.7,325.3 L1080.1,330.4 L1082.6,335.6 L1085.0,340.9 L1087.5,346.0 L1089.9,351.1 L1092.3,356.1 L1094.8,360.9 L1097.2,365.4 L1099.6,369.7 L1102.1,373.7 L1104.5,377.4 L1107.0,380.7 L1109.4,383.8 L1111.8,386.6 L1114.3,389.1 L1116.7,391.5 L1119.1,393.8 L1121.6,395.9 L1124.0,397.9 L1126.5,399.9 L1128.9,401.7 L1131.3,403.4 L1133.8,405.1 L1136.2,406.7 L1138.6,408.2 L1141.1,409.8 L1143.5,411.5 L1146.0,413.0 L1148.4,414.2 L1150.8,415.2 L1153.3,416.0 L1155.7,416.7 L1158.2,417.3 L1160.6,418.0 L1163.0,418.6 L1165.5,419.3 L1167.9,419.9 L1170.3,420.6 L1172.8,421.2 L1175.2,421.9 L1177.7,422.5 L1180.1,423.2 L1182.5,423.8 L1185.0,424.5 L1187.4,425.2 L1189.8,425.9 L1192.3,426.6 L1194.7,427.3 L1197.2,427.9 L1199.6,428.4 L1199.6,429.3 L1197.2,428.8 L1194.7,428.2 L1192.3,427.5 L1189.8,426.8 L1187.4,426.1 L1185.0,425.4 L1182.5,424.7 L1180.1,424.1 L1177.7,423.4 L1175.2,422.8 L1172.8,422.1 L1170.3,421.5 L1167.9,420.8 L1165.5,420.2 L1163.0,419.5 L1160.6,418.9 L1158.2,418.2 L1155.7,417.6 L1153.3,416.9 L1150.8,416.1 L1148.4,415.1 L1146.0,413.9 L1143.5,412.4 L1141.1,410.7 L1138.6,409.1 L1136.2,407.6 L1133.8,406.0 L1131.3,404.3 L1128.9,402.6 L1126.5,400.8 L1124.0,398.8 L1121.6,396.8 L1119.1,394.7 L1116.7,392.4 L1114.3,390.0 L1111.8,387.5 L1109.4,384.7 L1107.0,381.6 L1104.5,378.3 L1102.1,374.6 L1099.6,370.6 L1097.2,366.3 L1094.8,361.8 L1092.3,357.0 L1089.9,352.0 L1087.5,346.9 L1085.0,341.8 L1082.6,336.5 L1080.1,331.3 L1077.7,326.2 L1075.3,320.9 L1072.8,315.1 L1070.4,308.6 L1067.9,301.4 L1065.5,293.8 L1063.1,285.8 L1060.6,277.4 L1058.2,268.9 L1055.8,260.5 L1053.3,253.0 L1050.9,246.6 L1048.4,241.0 L1046.0,235.8 L1043.6,231.0 L1041.1,226.4 L1038.7,222.2 L1036.3,218.5 L1033.8,215.3 L1031.4,212.5 L1028.9,210.2 L1026.5,208.7 L1024.1,208.7 L1021.6,209.9 L1019.2,212.0 L1016.8,214.7 L1014.3,217.9 L1011.9,221.8 L1009.4,226.6 L1007.0,232.0 L1004.6,238.1 L1002.1,244.8 L999.7,252.0 L997.2,259.3 L994.8,266.7 L992.4,274.2 L989.9,281.5 L987.5,288.7 L985.1,296.1 L982.6,304.0 L980.2,312.4 L977.7,320.7 L975.3,328.7 L972.9,336.1 L970.4,342.7 L968.0,348.9 L965.6,354.7 L963.1,360.2 L960.7,365.2 L958.2,369.7 L955.8,373.7 L953.4,377.3 L950.9,380.4 L948.5,383.3 L946.1,385.7 L943.6,387.7 L941.2,389.2 L938.7,390.3 L936.3,391.2 L933.9,392.0 L931.4,392.6 L929.0,393.3 L926.5,393.9 L924.1,394.5 L921.7,394.9 L919.2,395.2 L916.8,395.2 L914.4,395.2 L911.9,395.0 L909.5,394.8 L907.0,394.6 L904.6,394.4 L902.2,394.2 L899.7,394.0 L897.3,393.9 L894.9,393.7 L892.4,393.6 L890.0,393.5 L887.5,393.4 L885.1,393.4 L882.7,393.4 L880.2,393.6 L877.8,394.1 L875.4,394.7 L872.9,395.4 L870.5,396.2 L868.0,396.8 L865.6,397.2 L863.2,397.5 L860.7,397.8 L858.3,398.0 L855.8,398.3 L853.4,398.6 L851.0,399.1 L848.5,399.7 L846.1,400.5 L843.7,401.5 L841.2,402.5 L838.8,403.6 L836.3,404.8 L833.9,406.0 L831.5,407.3 L829.0,408.7 L826.6,410.2 L824.2,411.7 L821.7,413.3 L819.3,415.0 L816.8,416.6 L814.4,418.3 L812.0,420.1 L809.5,421.9 L807.1,423.8 L804.7,425.6 L802.2,427.5 L799.8,429.3 L797.3,431.2 L794.9,433.1 L792.5,435.0 L790.0,436.7 L787.6,438.4 L785.2,439.8 L782.7,441.2 L780.3,442.4 L777.8,443.6 L775.4,444.8 L773.0,445.8 L770.5,446.8 L768.1,447.7 L765.6,448.5 L763.2,449.0Z" fill="#5252f0" stroke="#5252f0" stroke-width="2.85" stroke-linejoin="round"/>
<path d="M763.2,447.6 L765.6,447.0 L768.1,446.2 L770.5,445.3 L773.0,444.2 L775.4,443.1 L777.8,441.9 L780.3,440.6 L782.7,439.2 L785.2,437.7 L787.6,436.1 L790.0,434.3 L792.5,432.3 L794.9,430.2 L797.3,428.0 L799.8,425.9 L802.2,423.8 L804.7,421.8 L807.1,419.7 L809.5,417.6 L812.0,415.5 L814.4,413.5 L816.8,411.6 L819.3,409.7 L821.7,407.9 L824.2,406.1 L826.6,404.4 L829.0,402.7 L831.5,401.2 L833.9,399.7 L836.3,398.4 L838.8,397.0 L841.2,395.7 L843.7,394.5 L846.1,393.3 L848.5,392.4 L851.0,391.6 L853.4,391.1 L855.8,390.7 L858.3,390.4 L860.7,390.2 L863.2,389.9 L865.6,389.6 L868.0,389.1 L870.5,388.4 L872.9,387.5 L875.4,386.6 L877.8,385.9 L880.2,385.4 L882.7,385.2 L885.1,385.2 L887.5,385.3 L890.0,385.4 L892.4,385.5 L894.9,385.7 L897.3,385.8 L899.7,386.0 L902.2,386.2 L904.6,386.4 L907.0,386.7 L909.5,386.9 L911.9,387.1 L914.4,387.2 L916.8,387.3 L919.2,387.2 L921.7,386.9 L924.1,386.4 L926.5,385.7 L929.0,384.9 L931.4,384.2 L933.9,383.4 L936.3,382.5 L938.7,381.4 L941.2,380.1 L943.6,378.4 L946.1,376.2 L948.5,373.3 L950.9,370.0 L953.4,366.3 L955.8,362.2 L958.2,357.5 L960.7,352.3 L963.1,346.4 L965.6,340.0 L968.0,333.3 L970.4,326.3 L972.9,318.7 L975.3,310.4 L977.7,301.4 L980.2,292.1 L982.6,282.7 L985.1,274.0 L987.5,266.0 L989.9,258.2 L992.4,250.2 L994.8,242.0 L997.2,233.7 L999.7,225.6 L1002.1,217.5 L1004.6,209.7 L1007.0,202.6 L1009.4,196.3 L1011.9,190.7 L1014.3,186.1 L1016.8,182.3 L1019.2,179.3 L1021.6,176.9 L1024.1,175.6 L1026.5,175.7 L1028.9,177.3 L1031.4,180.0 L1033.8,183.0 L1036.3,186.5 L1038.7,190.5 L1041.1,194.9 L1043.6,199.7 L1046.0,204.8 L1048.4,210.3 L1050.9,216.5 L1053.3,223.6 L1055.8,232.1 L1058.2,241.7 L1060.6,251.6 L1063.1,261.2 L1065.5,270.5 L1067.9,279.3 L1070.4,287.5 L1072.8,295.0 L1075.3,301.6 L1077.7,307.6 L1080.1,313.4 L1082.6,319.3 L1085.0,325.3 L1087.5,331.2 L1089.9,337.0 L1092.3,342.6 L1094.8,348.1 L1097.2,353.3 L1099.6,358.1 L1102.1,362.6 L1104.5,366.7 L1107.0,370.4 L1109.4,373.7 L1111.8,376.8 L1114.3,379.6 L1116.7,382.2 L1119.1,384.7 L1121.6,387.0 L1124.0,389.3 L1126.5,391.4 L1128.9,393.4 L1131.3,395.4 L1133.8,397.2 L1136.2,399.0 L1138.6,400.9 L1141.1,402.7 L1143.5,404.6 L1146.0,406.4 L1148.4,407.9 L1150.8,409.0 L1153.3,409.9 L1155.7,410.6 L1158.2,411.3 L1160.6,412.1 L1163.0,412.8 L1165.5,413.5 L1167.9,414.3 L1170.3,415.0 L1172.8,415.7 L1175.2,416.4 L1177.7,417.2 L1180.1,418.0 L1182.5,418.7 L1185.0,419.5 L1187.4,420.3 L1189.8,421.1 L1192.3,421.9 L1194.7,422.8 L1197.2,423.6 L1199.6,424.2 L1199.6,425.1 L1197.2,424.5 L1194.7,423.7 L1192.3,422.8 L1189.8,422.0 L1187.4,421.2 L1185.0,420.4 L1182.5,419.6 L1180.1,418.9 L1177.7,418.1 L1175.2,417.3 L1172.8,416.6 L1170.3,415.9 L1167.9,415.2 L1165.5,414.4 L1163.0,413.7 L1160.6,413.0 L1158.2,412.2 L1155.7,411.5 L1153.3,410.8 L1150.8,409.9 L1148.4,408.8 L1146.0,407.3 L1143.5,405.5 L1141.1,403.6 L1138.6,401.8 L1136.2,399.9 L1133.8,398.1 L1131.3,396.3 L1128.9,394.3 L1126.5,392.3 L1124.0,390.2 L1121.6,387.9 L1119.1,385.6 L1116.7,383.1 L1114.3,380.5 L1111.8,377.7 L1109.4,374.6 L1107.0,371.3 L1104.5,367.6 L1102.1,363.5 L1099.6,359.0 L1097.2,354.2 L1094.8,349.0 L1092.3,343.5 L1089.9,337.9 L1087.5,332.1 L1085.0,326.2 L1082.6,320.2 L1080.1,314.3 L1077.7,308.5 L1075.3,302.5 L1072.8,295.9 L1070.4,288.4 L1067.9,280.2 L1065.5,271.4 L1063.1,262.1 L1060.6,252.5 L1058.2,242.6 L1055.8,233.0 L1053.3,224.5 L1050.9,217.4 L1048.4,211.2 L1046.0,205.7 L1043.6,200.6 L1041.1,195.8 L1038.7,191.4 L1036.3,187.4 L1033.8,183.9 L1031.4,180.9 L1028.9,178.2 L1026.5,176.6 L1024.1,176.5 L1021.6,177.8 L1019.2,180.2 L1016.8,183.2 L1014.3,187.0 L1011.9,191.6 L1009.4,197.2 L1007.0,203.5 L1004.6,210.6 L1002.1,218.4 L999.7,226.5 L997.2,234.6 L994.8,242.9 L992.4,251.1 L989.9,259.1 L987.5,266.9 L985.1,274.9 L982.6,283.6 L980.2,293.0 L977.7,302.3 L975.3,311.3 L972.9,319.6 L970.4,327.2 L968.0,334.2 L965.6,340.9 L963.1,347.3 L960.7,353.2 L958.2,358.4 L955.8,363.1 L953.4,367.2 L950.9,370.9 L948.5,374.2 L946.1,377.1 L943.6,379.3 L941.2,381.0 L938.7,382.3 L936.3,383.4 L933.9,384.3 L931.4,385.1 L929.0,385.8 L926.5,386.6 L924.1,387.3 L921.7,387.8 L919.2,388.1 L916.8,388.2 L914.4,388.1 L911.9,388.0 L909.5,387.8 L907.0,387.6 L904.6,387.3 L902.2,387.1 L899.7,386.9 L897.3,386.7 L894.9,386.6 L892.4,386.4 L890.0,386.3 L887.5,386.2 L885.1,386.1 L882.7,386.1 L880.2,386.3 L877.8,386.8 L875.4,387.5 L872.9,388.4 L870.5,389.3 L868.0,390.0 L865.6,390.5 L863.2,390.8 L860.7,391.1 L858.3,391.3 L855.8,391.6 L853.4,392.0 L851.0,392.5 L848.5,393.3 L846.1,394.2 L843.7,395.4 L841.2,396.6 L838.8,397.9 L836.3,399.3 L833.9,400.6 L831.5,402.1 L829.0,403.6 L826.6,405.3 L824.2,407.0 L821.7,408.8 L819.3,410.6 L816.8,412.5 L814.4,414.4 L812.0,416.4 L809.5,418.5 L807.1,420.6 L804.7,422.7 L802.2,424.7 L799.8,426.8 L797.3,428.9 L794.9,431.1 L792.5,433.2 L790.0,435.2 L787.6,437.0 L785.2,438.6 L782.7,440.1 L780.3,441.5 L777.8,442.8 L775.4,444.0 L773.0,445.1 L770.5,446.2 L768.1,447.1 L765.6,447.9 L763.2,448.5Z" fill="#ee3a44" stroke="#ee3a44" stroke-width="2.85" stroke-linejoin="round"/>
<path d="M763.2,447.2 L765.6,446.7 L768.1,445.9 L770.5,444.9 L773.0,443.8 L775.4,442.6 L777.8,441.3 L780.3,440.0 L782.7,438.5 L785.2,436.9 L787.6,435.2 L790.0,433.2 L792.5,431.1 L794.9,428.8 L797.3,426.5 L799.8,424.3 L802.2,422.0 L804.7,419.8 L807.1,417.6 L809.5,415.3 L812.0,413.1 L814.4,410.9 L816.8,408.9 L819.3,406.9 L821.7,404.9 L824.2,403.0 L826.6,401.1 L829.0,399.4 L831.5,397.7 L833.9,396.2 L836.3,394.7 L838.8,393.2 L841.2,391.7 L843.7,390.4 L846.1,389.1 L848.5,388.1 L851.0,387.2 L853.4,386.6 L855.8,386.2 L858.3,385.9 L860.7,385.7 L863.2,385.4 L865.6,385.1 L868.0,384.5 L870.5,383.7 L872.9,382.8 L875.4,381.8 L877.8,381.0 L880.2,380.5 L882.7,380.3 L885.1,380.3 L887.5,380.4 L890.0,380.6 L892.4,380.7 L894.9,380.9 L897.3,381.1 L899.7,381.3 L902.2,381.5 L904.6,381.7 L907.0,381.9 L909.5,382.2 L911.9,382.4 L914.4,382.5 L916.8,382.6 L919.2,382.5 L921.7,382.1 L924.1,381.5 L926.5,380.8 L929.0,380.0 L931.4,379.1 L933.9,378.2 L936.3,377.2 L938.7,376.1 L941.2,374.7 L943.6,372.8 L946.1,370.4 L948.5,367.3 L950.9,363.6 L953.4,359.6 L955.8,355.0 L958.2,349.9 L960.7,344.1 L963.1,337.7 L965.6,330.8 L968.0,323.5 L970.4,315.9 L972.9,307.7 L975.3,298.7 L977.7,289.0 L980.2,279.0 L982.6,269.0 L985.1,259.8 L987.5,251.3 L989.9,243.1 L992.4,234.6 L994.8,225.9 L997.2,217.1 L999.7,208.4 L1002.1,199.6 L1004.6,191.1 L1007.0,183.4 L1009.4,176.5 L1011.9,170.3 L1014.3,165.2 L1016.8,161.2 L1019.2,157.9 L1021.6,155.3 L1024.1,153.9 L1026.5,154.1 L1028.9,155.8 L1031.4,158.6 L1033.8,161.9 L1036.3,165.5 L1038.7,169.7 L1041.1,174.3 L1043.6,179.2 L1046.0,184.5 L1048.4,190.3 L1050.9,196.8 L1053.3,204.4 L1055.8,213.5 L1058.2,223.9 L1060.6,234.7 L1063.1,245.3 L1065.5,255.4 L1067.9,265.0 L1070.4,273.9 L1072.8,282.0 L1075.3,289.2 L1077.7,295.7 L1080.1,301.9 L1082.6,308.3 L1085.0,314.8 L1087.5,321.2 L1089.9,327.4 L1092.3,333.6 L1094.8,339.5 L1097.2,345.1 L1099.6,350.3 L1102.1,355.1 L1104.5,359.5 L1107.0,363.5 L1109.4,367.0 L1111.8,370.2 L1114.3,373.2 L1116.7,376.0 L1119.1,378.6 L1121.6,381.1 L1124.0,383.5 L1126.5,385.7 L1128.9,387.9 L1131.3,390.0 L1133.8,392.0 L1136.2,394.0 L1138.6,395.9 L1141.1,398.0 L1143.5,400.1 L1146.0,402.0 L1148.4,403.7 L1150.8,404.9 L1153.3,405.8 L1155.7,406.6 L1158.2,407.4 L1160.6,408.1 L1163.0,408.9 L1165.5,409.7 L1167.9,410.5 L1170.3,411.3 L1172.8,412.1 L1175.2,412.8 L1177.7,413.7 L1180.1,414.5 L1182.5,415.3 L1185.0,416.2 L1187.4,417.1 L1189.8,418.0 L1192.3,418.9 L1194.7,419.8 L1197.2,420.7 L1199.6,421.4 L1199.6,422.2 L1197.2,421.5 L1194.7,420.6 L1192.3,419.7 L1189.8,418.8 L1187.4,417.9 L1185.0,417.0 L1182.5,416.1 L1180.1,415.3 L1177.7,414.5 L1175.2,413.6 L1172.8,412.9 L1170.3,412.1 L1167.9,411.3 L1165.5,410.5 L1163.0,409.7 L1160.6,408.9 L1158.2,408.2 L1155.7,407.4 L1153.3,406.6 L1150.8,405.7 L1148.4,404.5 L1146.0,402.8 L1143.5,400.9 L1141.1,398.8 L1138.6,396.7 L1136.2,394.8 L1133.8,392.8 L1131.3,390.8 L1128.9,388.7 L1126.5,386.5 L1124.0,384.3 L1121.6,381.9 L1119.1,379.4 L1116.7,376.8 L1114.3,374.0 L1111.8,371.0 L1109.4,367.8 L1107.0,364.3 L1104.5,360.3 L1102.1,355.9 L1099.6,351.1 L1097.2,345.9 L1094.8,340.3 L1092.3,334.4 L1089.9,328.2 L1087.5,322.0 L1085.0,315.6 L1082.6,309.1 L1080.1,302.7 L1077.7,296.5 L1075.3,290.0 L1072.8,282.8 L1070.4,274.7 L1067.9,265.8 L1065.5,256.2 L1063.1,246.1 L1060.6,235.5 L1058.2,224.7 L1055.8,214.3 L1053.3,205.2 L1050.9,197.6 L1048.4,191.1 L1046.0,185.3 L1043.6,180.0 L1041.1,175.1 L1038.7,170.5 L1036.3,166.3 L1033.8,162.7 L1031.4,159.4 L1028.9,156.6 L1026.5,154.9 L1024.1,154.7 L1021.6,156.1 L1019.2,158.7 L1016.8,162.0 L1014.3,166.0 L1011.9,171.1 L1009.4,177.3 L1007.0,184.2 L1004.6,191.9 L1002.1,200.4 L999.7,209.2 L997.2,217.9 L994.8,226.7 L992.4,235.4 L989.9,243.9 L987.5,252.1 L985.1,260.6 L982.6,269.8 L980.2,279.8 L977.7,289.8 L975.3,299.5 L972.9,308.5 L970.4,316.7 L968.0,324.3 L965.6,331.6 L963.1,338.5 L960.7,344.9 L958.2,350.7 L955.8,355.8 L953.4,360.4 L950.9,364.4 L948.5,368.1 L946.1,371.2 L943.6,373.6 L941.2,375.5 L938.7,376.9 L936.3,378.0 L933.9,379.0 L931.4,379.9 L929.0,380.8 L926.5,381.6 L924.1,382.3 L921.7,382.9 L919.2,383.3 L916.8,383.4 L914.4,383.3 L911.9,383.2 L909.5,383.0 L907.0,382.7 L904.6,382.5 L902.2,382.3 L899.7,382.1 L897.3,381.9 L894.9,381.7 L892.4,381.5 L890.0,381.4 L887.5,381.2 L885.1,381.1 L882.7,381.1 L880.2,381.3 L877.8,381.8 L875.4,382.6 L872.9,383.6 L870.5,384.5 L868.0,385.3 L865.6,385.9 L863.2,386.2 L860.7,386.5 L858.3,386.7 L855.8,387.0 L853.4,387.4 L851.0,388.0 L848.5,388.9 L846.1,389.9 L843.7,391.2 L841.2,392.5 L838.8,394.0 L836.3,395.5 L833.9,397.0 L831.5,398.5 L829.0,400.2 L826.6,401.9 L824.2,403.8 L821.7,405.7 L819.3,407.7 L816.8,409.7 L814.4,411.7 L812.0,413.9 L809.5,416.1 L807.1,418.4 L804.7,420.6 L802.2,422.8 L799.8,425.1 L797.3,427.3 L794.9,429.6 L792.5,431.9 L790.0,434.0 L787.6,436.0 L785.2,437.7 L782.7,439.3 L780.3,440.8 L777.8,442.1 L775.4,443.4 L773.0,444.6 L770.5,445.7 L768.1,446.7 L765.6,447.5 L763.2,448.0Z" fill="#000000" stroke="#000000" stroke-width="3.5" stroke-linejoin="round"/>
<rect x="734.90" y="42.40" width="493.80" height="420.20" fill="none" stroke="#000" stroke-width="4.7"/>
<line x1="721.60" y1="42.40" x2="734.90" y2="42.40" stroke="#000" stroke-width="4.7" />
<line x1="721.60" y1="462.60" x2="734.90" y2="462.60" stroke="#000" stroke-width="4.7" />
<line x1="721.60" y1="402.38" x2="734.90" y2="402.38" stroke="#000" stroke-width="3.7" />
<line x1="721.60" y1="342.36" x2="734.90" y2="342.36" stroke="#000" stroke-width="3.7" />
<line x1="721.60" y1="282.34" x2="734.90" y2="282.34" stroke="#000" stroke-width="3.7" />
<line x1="721.60" y1="222.32" x2="734.90" y2="222.32" stroke="#000" stroke-width="3.7" />
<line x1="721.60" y1="162.30" x2="734.90" y2="162.30" stroke="#000" stroke-width="3.7" />
<line x1="721.60" y1="102.28" x2="734.90" y2="102.28" stroke="#000" stroke-width="3.7" />
<line x1="763.50" y1="462.60" x2="763.50" y2="475.40" stroke="#000" stroke-width="4.0" />
<line x1="908.87" y1="462.60" x2="908.87" y2="475.40" stroke="#000" stroke-width="4.0" />
<line x1="1054.23" y1="462.60" x2="1054.23" y2="475.40" stroke="#000" stroke-width="4.0" />
<line x1="1199.60" y1="462.60" x2="1199.60" y2="475.40" stroke="#000" stroke-width="4.0" />
<text transform="translate(699.73,473.70) scale(0.9300,1)" font-weight="bold" fill="#000" ><tspan font-size="32.3">0</tspan></text>
<text transform="translate(699.73,413.68) scale(0.9300,1)" font-weight="bold" fill="#000" ><tspan font-size="32.3">2</tspan></text>
<text transform="translate(698.68,353.66) scale(0.9300,1)" font-weight="bold" fill="#000" ><tspan font-size="32.3">4</tspan></text>
<text transform="translate(699.58,293.64) scale(0.9300,1)" font-weight="bold" fill="#000" ><tspan font-size="32.3">6</tspan></text>
<text transform="translate(699.43,233.62) scale(0.9300,1)" font-weight="bold" fill="#000" ><tspan font-size="32.3">8</tspan></text>
<text transform="translate(683.06,173.60) scale(0.9300,1)" font-weight="bold" fill="#000" ><tspan font-size="32.3">10</tspan></text>
<text transform="translate(683.06,113.58) scale(0.9300,1)" font-weight="bold" fill="#000" ><tspan font-size="32.3">12</tspan></text>
<text transform="translate(682.01,53.56) scale(0.9300,1)" font-weight="bold" fill="#000" ><tspan font-size="32.3">14</tspan></text>
<text transform="translate(736.61,509.80) scale(0.9700,1)" font-weight="bold" fill="#000" ><tspan font-size="32">500</tspan></text>
<text transform="translate(881.98,509.80) scale(0.9700,1)" font-weight="bold" fill="#000" ><tspan font-size="32">550</tspan></text>
<text transform="translate(1027.27,509.80) scale(0.9700,1)" font-weight="bold" fill="#000" ><tspan font-size="32">600</tspan></text>
<text transform="translate(1172.63,509.80) scale(0.9700,1)" font-weight="bold" fill="#000" ><tspan font-size="32">650</tspan></text>
<text transform="translate(842.90,562.80) scale(0.9891,1)" font-weight="bold" fill="#000" ><tspan font-size="35">Wavelength (nm)</tspan></text>
<text transform="translate(661.60,370.58) rotate(-90) scale(1.0356,1)" font-weight="bold" fill="#000" ><tspan font-size="33.8">Intensity (a.u.)</tspan></text>
<text transform="translate(749.71,77.20) scale(0.9549,1)" font-weight="bold" fill="#000" ><tspan font-size="30.2">[IP6](μM)</tspan></text>
<text transform="translate(773.31,115.60) scale(0.9165,1)" font-weight="bold" fill="#000000" ><tspan font-size="32.4">0.0</tspan></text>
<text transform="translate(772.87,145.02) scale(0.9165,1)" font-weight="bold" fill="#de0a1e" ><tspan font-size="32.4">0.5</tspan></text>
<text transform="translate(773.31,174.44) scale(0.9165,1)" font-weight="bold" fill="#0a0ae0" ><tspan font-size="32.4">1.0</tspan></text>
<text transform="translate(772.87,203.86) scale(0.9165,1)" font-weight="bold" fill="#b408cc" ><tspan font-size="32.4">1.5</tspan></text>
<text transform="translate(773.31,233.28) scale(0.9165,1)" font-weight="bold" fill="#0aa80a" ><tspan font-size="32.4">2.0</tspan></text>
<text transform="translate(773.31,262.70) scale(0.9165,1)" font-weight="bold" fill="#f0701e" ><tspan font-size="32.4">3.0</tspan></text>
<text transform="translate(773.31,292.12) scale(0.9165,1)" font-weight="bold" fill="#0ae6f0" ><tspan font-size="32.4">4.0</tspan></text>
<text transform="translate(773.31,321.54) scale(0.9165,1)" font-weight="bold" fill="#c0b00a" ><tspan font-size="32.4">5.0</tspan></text>
<text transform="translate(772.87,350.96) scale(0.9165,1)" font-weight="bold" fill="#34e0b0" ><tspan font-size="32.4">7.5</tspan></text>
<text transform="translate(759.96,380.38) scale(0.8950,1)" font-weight="bold" fill="#a0a0a0" ><tspan font-size="32.4">10.0</tspan></text>
</g>
<g id="panelIP7">
<path d="M1395.2,451.0 L1397.6,450.2 L1400.1,449.3 L1402.5,448.3 L1404.9,447.3 L1407.3,446.4 L1409.8,445.4 L1412.2,444.4 L1414.6,443.5 L1417.0,442.5 L1419.5,441.5 L1421.9,440.5 L1424.3,439.5 L1426.8,438.4 L1429.2,437.4 L1431.6,436.3 L1434.0,435.3 L1436.5,434.4 L1438.9,433.5 L1441.3,432.6 L1443.7,431.8 L1446.2,431.1 L1448.6,430.4 L1451.0,429.8 L1453.4,429.2 L1455.9,428.6 L1458.3,428.0 L1460.7,427.5 L1463.1,427.0 L1465.6,426.5 L1468.0,426.0 L1470.4,425.6 L1472.8,425.1 L1475.3,424.7 L1477.7,424.3 L1480.1,423.9 L1482.6,423.5 L1485.0,423.1 L1487.4,422.8 L1489.8,422.5 L1492.3,422.3 L1494.7,422.1 L1497.1,421.9 L1499.5,421.8 L1502.0,421.6 L1504.4,421.5 L1506.8,421.4 L1509.2,421.3 L1511.7,421.2 L1514.1,421.2 L1516.5,421.1 L1518.9,421.1 L1521.4,421.0 L1523.8,421.0 L1526.2,421.1 L1528.6,421.1 L1531.1,421.1 L1533.5,421.2 L1535.9,421.2 L1538.4,421.2 L1540.8,421.3 L1543.2,421.3 L1545.6,421.3 L1548.1,421.3 L1550.5,421.3 L1552.9,421.2 L1555.3,421.1 L1557.8,420.9 L1560.2,420.6 L1562.6,420.4 L1565.0,420.1 L1567.5,419.7 L1569.9,419.1 L1572.3,418.3 L1574.7,417.3 L1577.2,416.2 L1579.6,414.9 L1582.0,413.6 L1584.5,412.2 L1586.9,410.5 L1589.3,408.7 L1591.7,406.6 L1594.2,404.1 L1596.6,401.2 L1599.0,397.9 L1601.4,394.2 L1603.9,390.2 L1606.3,385.8 L1608.7,380.8 L1611.1,375.4 L1613.6,370.1 L1616.0,365.0 L1618.4,360.0 L1620.8,355.1 L1623.3,350.4 L1625.7,345.9 L1628.1,341.6 L1630.5,337.5 L1633.0,333.5 L1635.4,329.6 L1637.8,325.9 L1640.3,322.6 L1642.7,319.6 L1645.1,317.0 L1647.5,314.9 L1650.0,313.2 L1652.4,311.8 L1654.8,310.9 L1657.2,310.7 L1659.7,311.4 L1662.1,312.7 L1664.5,314.5 L1666.9,317.0 L1669.4,320.1 L1671.8,323.7 L1674.2,327.5 L1676.6,331.4 L1679.1,335.6 L1681.5,339.7 L1683.9,343.7 L1686.4,347.7 L1688.8,351.6 L1691.2,355.6 L1693.6,359.4 L1696.1,363.3 L1698.5,367.1 L1700.9,370.9 L1703.3,374.7 L1705.8,378.3 L1708.2,382.0 L1710.6,385.7 L1713.0,389.6 L1715.5,393.4 L1717.9,397.0 L1720.3,400.2 L1722.7,403.1 L1725.2,405.8 L1727.6,408.4 L1730.0,410.8 L1732.4,413.1 L1734.9,415.1 L1737.3,417.0 L1739.7,418.8 L1742.2,420.4 L1744.6,421.9 L1747.0,423.3 L1749.4,424.6 L1751.9,425.8 L1754.3,427.0 L1756.7,428.1 L1759.1,429.1 L1761.6,430.0 L1764.0,431.0 L1766.4,431.9 L1768.8,432.7 L1771.3,433.5 L1773.7,434.3 L1776.1,435.0 L1778.5,435.6 L1781.0,436.2 L1783.4,436.7 L1785.8,437.2 L1788.3,437.7 L1790.7,438.2 L1793.1,438.7 L1795.5,439.1 L1798.0,439.5 L1800.4,440.0 L1802.8,440.4 L1805.2,440.8 L1807.7,441.1 L1810.1,441.5 L1812.5,441.8 L1814.9,442.1 L1817.4,442.3 L1819.8,442.5 L1822.2,442.7 L1824.6,442.9 L1827.1,443.0 L1829.5,443.0 L1829.5,443.9 L1827.1,443.9 L1824.6,443.8 L1822.2,443.6 L1819.8,443.4 L1817.4,443.2 L1814.9,443.0 L1812.5,442.7 L1810.1,442.4 L1807.7,442.0 L1805.2,441.7 L1802.8,441.3 L1800.4,440.9 L1798.0,440.4 L1795.5,440.0 L1793.1,439.6 L1790.7,439.1 L1788.3,438.6 L1785.8,438.1 L1783.4,437.6 L1781.0,437.1 L1778.5,436.5 L1776.1,435.9 L1773.7,435.2 L1771.3,434.4 L1768.8,433.6 L1766.4,432.8 L1764.0,431.9 L1761.6,430.9 L1759.1,430.0 L1756.7,429.0 L1754.3,427.9 L1751.9,426.7 L1749.4,425.5 L1747.0,424.2 L1744.6,422.8 L1742.2,421.3 L1739.7,419.7 L1737.3,417.9 L1734.9,416.0 L1732.4,414.0 L1730.0,411.7 L1727.6,409.3 L1725.2,406.7 L1722.7,404.0 L1720.3,401.1 L1717.9,397.9 L1715.5,394.3 L1713.0,390.5 L1710.6,386.6 L1708.2,382.9 L1705.8,379.2 L1703.3,375.6 L1700.9,371.8 L1698.5,368.0 L1696.1,364.2 L1693.6,360.3 L1691.2,356.5 L1688.8,352.5 L1686.4,348.6 L1683.9,344.6 L1681.5,340.6 L1679.1,336.5 L1676.6,332.3 L1674.2,328.4 L1671.8,324.6 L1669.4,321.0 L1666.9,317.9 L1664.5,315.4 L1662.1,313.6 L1659.7,312.3 L1657.2,311.6 L1654.8,311.8 L1652.4,312.7 L1650.0,314.1 L1647.5,315.8 L1645.1,317.9 L1642.7,320.5 L1640.3,323.5 L1637.8,326.8 L1635.4,330.5 L1633.0,334.4 L1630.5,338.4 L1628.1,342.5 L1625.7,346.8 L1623.3,351.3 L1620.8,356.0 L1618.4,360.9 L1616.0,365.9 L1613.6,371.0 L1611.1,376.3 L1608.7,381.7 L1606.3,386.7 L1603.9,391.1 L1601.4,395.1 L1599.0,398.8 L1596.6,402.1 L1594.2,405.0 L1591.7,407.5 L1589.3,409.6 L1586.9,411.4 L1584.5,413.1 L1582.0,414.5 L1579.6,415.8 L1577.2,417.1 L1574.7,418.2 L1572.3,419.2 L1569.9,420.0 L1567.5,420.6 L1565.0,421.0 L1562.6,421.3 L1560.2,421.5 L1557.8,421.8 L1555.3,422.0 L1552.9,422.1 L1550.5,422.2 L1548.1,422.2 L1545.6,422.2 L1543.2,422.2 L1540.8,422.2 L1538.4,422.1 L1535.9,422.1 L1533.5,422.1 L1531.1,422.0 L1528.6,422.0 L1526.2,422.0 L1523.8,421.9 L1521.4,421.9 L1518.9,422.0 L1516.5,422.0 L1514.1,422.1 L1511.7,422.1 L1509.2,422.2 L1506.8,422.3 L1504.4,422.4 L1502.0,422.5 L1499.5,422.7 L1497.1,422.8 L1494.7,423.0 L1492.3,423.2 L1489.8,423.4 L1487.4,423.7 L1485.0,424.0 L1482.6,424.4 L1480.1,424.8 L1477.7,425.2 L1475.3,425.6 L1472.8,426.0 L1470.4,426.5 L1468.0,426.9 L1465.6,427.4 L1463.1,427.9 L1460.7,428.4 L1458.3,428.9 L1455.9,429.5 L1453.4,430.1 L1451.0,430.7 L1448.6,431.3 L1446.2,432.0 L1443.7,432.7 L1441.3,433.5 L1438.9,434.4 L1436.5,435.3 L1434.0,436.2 L1431.6,437.2 L1429.2,438.3 L1426.8,439.3 L1424.3,440.4 L1421.9,441.4 L1419.5,442.4 L1417.0,443.4 L1414.6,444.4 L1412.2,445.3 L1409.8,446.3 L1407.3,447.3 L1404.9,448.2 L1402.5,449.2 L1400.1,450.2 L1397.6,451.1 L1395.2,451.9Z" fill="#a2a2a2" stroke="#a2a2a2" stroke-width="2.85" stroke-linejoin="round"/>
<path d="M1395.2,450.7 L1397.6,449.9 L1400.1,449.0 L1402.5,448.0 L1404.9,447.0 L1407.3,446.0 L1409.8,445.0 L1412.2,443.9 L1414.6,442.9 L1417.0,441.9 L1419.5,440.9 L1421.9,439.8 L1424.3,438.7 L1426.8,437.6 L1429.2,436.4 L1431.6,435.3 L1434.0,434.2 L1436.5,433.1 L1438.9,432.1 L1441.3,431.1 L1443.7,430.2 L1446.2,429.4 L1448.6,428.7 L1451.0,428.0 L1453.4,427.3 L1455.9,426.6 L1458.3,425.9 L1460.7,425.3 L1463.1,424.6 L1465.6,424.0 L1468.0,423.5 L1470.4,423.0 L1472.8,422.5 L1475.3,422.1 L1477.7,421.6 L1480.1,421.2 L1482.6,420.8 L1485.0,420.4 L1487.4,420.1 L1489.8,419.8 L1492.3,419.5 L1494.7,419.2 L1497.1,419.0 L1499.5,418.8 L1502.0,418.6 L1504.4,418.5 L1506.8,418.4 L1509.2,418.3 L1511.7,418.3 L1514.1,418.2 L1516.5,418.2 L1518.9,418.1 L1521.4,418.1 L1523.8,418.1 L1526.2,418.1 L1528.6,418.2 L1531.1,418.2 L1533.5,418.2 L1535.9,418.2 L1538.4,418.2 L1540.8,418.2 L1543.2,418.3 L1545.6,418.3 L1548.1,418.3 L1550.5,418.3 L1552.9,418.2 L1555.3,418.1 L1557.8,417.8 L1560.2,417.6 L1562.6,417.2 L1565.0,416.9 L1567.5,416.5 L1569.9,415.9 L1572.3,415.0 L1574.7,414.0 L1577.2,412.7 L1579.6,411.3 L1582.0,409.8 L1584.5,408.2 L1586.9,406.3 L1589.3,404.2 L1591.7,401.9 L1594.2,399.2 L1596.6,396.0 L1599.0,392.5 L1601.4,388.5 L1603.9,384.1 L1606.3,379.4 L1608.7,374.1 L1611.1,368.4 L1613.6,362.8 L1616.0,357.3 L1618.4,352.0 L1620.8,346.9 L1623.3,341.9 L1625.7,337.0 L1628.1,332.3 L1630.5,327.7 L1633.0,323.3 L1635.4,319.1 L1637.8,315.0 L1640.3,311.3 L1642.7,308.0 L1645.1,305.2 L1647.5,302.9 L1650.0,301.1 L1652.4,299.7 L1654.8,298.9 L1657.2,298.7 L1659.7,299.4 L1662.1,300.7 L1664.5,302.6 L1666.9,305.2 L1669.4,308.5 L1671.8,312.2 L1674.2,316.2 L1676.6,320.3 L1679.1,324.7 L1681.5,329.0 L1683.9,333.3 L1686.4,337.5 L1688.8,341.8 L1691.2,346.0 L1693.6,350.2 L1696.1,354.5 L1698.5,358.7 L1700.9,362.9 L1703.3,367.0 L1705.8,371.1 L1708.2,375.1 L1710.6,379.2 L1713.0,383.3 L1715.5,387.4 L1717.9,391.3 L1720.3,394.7 L1722.7,397.8 L1725.2,400.8 L1727.6,403.7 L1730.0,406.3 L1732.4,408.8 L1734.9,411.0 L1737.3,413.1 L1739.7,415.0 L1742.2,416.8 L1744.6,418.5 L1747.0,420.0 L1749.4,421.4 L1751.9,422.8 L1754.3,424.0 L1756.7,425.2 L1759.1,426.2 L1761.6,427.3 L1764.0,428.3 L1766.4,429.3 L1768.8,430.2 L1771.3,431.0 L1773.7,431.8 L1776.1,432.6 L1778.5,433.3 L1781.0,433.9 L1783.4,434.5 L1785.8,435.0 L1788.3,435.5 L1790.7,436.0 L1793.1,436.5 L1795.5,437.0 L1798.0,437.5 L1800.4,437.9 L1802.8,438.4 L1805.2,438.8 L1807.7,439.2 L1810.1,439.6 L1812.5,440.0 L1814.9,440.3 L1817.4,440.6 L1819.8,440.9 L1822.2,441.1 L1824.6,441.3 L1827.1,441.5 L1829.5,441.6 L1829.5,442.5 L1827.1,442.4 L1824.6,442.2 L1822.2,442.0 L1819.8,441.8 L1817.4,441.5 L1814.9,441.2 L1812.5,440.9 L1810.1,440.5 L1807.7,440.1 L1805.2,439.7 L1802.8,439.3 L1800.4,438.8 L1798.0,438.4 L1795.5,437.9 L1793.1,437.4 L1790.7,436.9 L1788.3,436.4 L1785.8,435.9 L1783.4,435.4 L1781.0,434.8 L1778.5,434.2 L1776.1,433.5 L1773.7,432.7 L1771.3,431.9 L1768.8,431.1 L1766.4,430.2 L1764.0,429.2 L1761.6,428.2 L1759.1,427.1 L1756.7,426.1 L1754.3,424.9 L1751.9,423.7 L1749.4,422.3 L1747.0,420.9 L1744.6,419.4 L1742.2,417.7 L1739.7,415.9 L1737.3,414.0 L1734.9,411.9 L1732.4,409.7 L1730.0,407.2 L1727.6,404.6 L1725.2,401.7 L1722.7,398.7 L1720.3,395.6 L1717.9,392.2 L1715.5,388.3 L1713.0,384.2 L1710.6,380.1 L1708.2,376.0 L1705.8,372.0 L1703.3,367.9 L1700.9,363.8 L1698.5,359.6 L1696.1,355.4 L1693.6,351.1 L1691.2,346.9 L1688.8,342.7 L1686.4,338.4 L1683.9,334.2 L1681.5,329.9 L1679.1,325.6 L1676.6,321.2 L1674.2,317.1 L1671.8,313.1 L1669.4,309.4 L1666.9,306.1 L1664.5,303.5 L1662.1,301.6 L1659.7,300.3 L1657.2,299.6 L1654.8,299.8 L1652.4,300.6 L1650.0,302.0 L1647.5,303.8 L1645.1,306.1 L1642.7,308.9 L1640.3,312.2 L1637.8,315.9 L1635.4,320.0 L1633.0,324.2 L1630.5,328.6 L1628.1,333.2 L1625.7,337.9 L1623.3,342.8 L1620.8,347.8 L1618.4,352.9 L1616.0,358.2 L1613.6,363.7 L1611.1,369.3 L1608.7,375.0 L1606.3,380.3 L1603.9,385.0 L1601.4,389.4 L1599.0,393.4 L1596.6,396.9 L1594.2,400.1 L1591.7,402.8 L1589.3,405.1 L1586.9,407.2 L1584.5,409.1 L1582.0,410.7 L1579.6,412.2 L1577.2,413.6 L1574.7,414.9 L1572.3,415.9 L1569.9,416.8 L1567.5,417.4 L1565.0,417.8 L1562.6,418.1 L1560.2,418.5 L1557.8,418.7 L1555.3,419.0 L1552.9,419.1 L1550.5,419.2 L1548.1,419.2 L1545.6,419.2 L1543.2,419.2 L1540.8,419.1 L1538.4,419.1 L1535.9,419.1 L1533.5,419.1 L1531.1,419.1 L1528.6,419.1 L1526.2,419.0 L1523.8,419.0 L1521.4,419.0 L1518.9,419.0 L1516.5,419.1 L1514.1,419.1 L1511.7,419.2 L1509.2,419.2 L1506.8,419.3 L1504.4,419.4 L1502.0,419.5 L1499.5,419.7 L1497.1,419.9 L1494.7,420.1 L1492.3,420.4 L1489.8,420.7 L1487.4,421.0 L1485.0,421.3 L1482.6,421.7 L1480.1,422.1 L1477.7,422.5 L1475.3,423.0 L1472.8,423.4 L1470.4,423.9 L1468.0,424.4 L1465.6,424.9 L1463.1,425.5 L1460.7,426.2 L1458.3,426.8 L1455.9,427.5 L1453.4,428.2 L1451.0,428.9 L1448.6,429.6 L1446.2,430.3 L1443.7,431.1 L1441.3,432.0 L1438.9,433.0 L1436.5,434.0 L1434.0,435.1 L1431.6,436.2 L1429.2,437.3 L1426.8,438.5 L1424.3,439.6 L1421.9,440.7 L1419.5,441.8 L1417.0,442.8 L1414.6,443.8 L1412.2,444.8 L1409.8,445.9 L1407.3,446.9 L1404.9,447.9 L1402.5,448.9 L1400.1,449.9 L1397.6,450.8 L1395.2,451.6Z" fill="#44e2b2" stroke="#44e2b2" stroke-width="2.85" stroke-linejoin="round"/>
<path d="M1395.2,450.3 L1397.6,449.5 L1400.1,448.6 L1402.5,447.5 L1404.9,446.5 L1407.3,445.4 L1409.8,444.4 L1412.2,443.3 L1414.6,442.2 L1417.0,441.1 L1419.5,440.0 L1421.9,438.8 L1424.3,437.6 L1426.8,436.4 L1429.2,435.1 L1431.6,433.9 L1434.0,432.7 L1436.5,431.4 L1438.9,430.2 L1441.3,429.1 L1443.7,428.0 L1446.2,427.1 L1448.6,426.3 L1451.0,425.6 L1453.4,424.8 L1455.9,424.0 L1458.3,423.1 L1460.7,422.2 L1463.1,421.4 L1465.6,420.7 L1468.0,420.1 L1470.4,419.5 L1472.8,419.0 L1475.3,418.5 L1477.7,418.0 L1480.1,417.5 L1482.6,417.1 L1485.0,416.7 L1487.4,416.3 L1489.8,416.0 L1492.3,415.7 L1494.7,415.3 L1497.1,415.0 L1499.5,414.7 L1502.0,414.5 L1504.4,414.4 L1506.8,414.3 L1509.2,414.3 L1511.7,414.2 L1514.1,414.2 L1516.5,414.1 L1518.9,414.1 L1521.4,414.1 L1523.8,414.1 L1526.2,414.1 L1528.6,414.1 L1531.1,414.1 L1533.5,414.1 L1535.9,414.1 L1538.4,414.1 L1540.8,414.1 L1543.2,414.1 L1545.6,414.1 L1548.1,414.2 L1550.5,414.2 L1552.9,414.1 L1555.3,413.9 L1557.8,413.7 L1560.2,413.3 L1562.6,412.9 L1565.0,412.5 L1567.5,412.0 L1569.9,411.3 L1572.3,410.5 L1574.7,409.4 L1577.2,408.0 L1579.6,406.4 L1582.0,404.6 L1584.5,402.6 L1586.9,400.5 L1589.3,398.0 L1591.7,395.4 L1594.2,392.4 L1596.6,388.9 L1599.0,384.9 L1601.4,380.6 L1603.9,375.8 L1606.3,370.6 L1608.7,364.9 L1611.1,358.8 L1613.6,352.7 L1616.0,346.8 L1618.4,341.1 L1620.8,335.6 L1623.3,330.2 L1625.7,324.8 L1628.1,319.5 L1630.5,314.4 L1633.0,309.4 L1635.4,304.6 L1637.8,300.0 L1640.3,295.8 L1642.7,292.0 L1645.1,288.9 L1647.5,286.3 L1650.0,284.4 L1652.4,283.1 L1654.8,282.3 L1657.2,282.2 L1659.7,282.9 L1662.1,284.3 L1664.5,286.3 L1666.9,289.0 L1669.4,292.6 L1671.8,296.5 L1674.2,300.7 L1676.6,305.1 L1679.1,309.7 L1681.5,314.3 L1683.9,318.9 L1686.4,323.6 L1688.8,328.2 L1691.2,332.9 L1693.6,337.6 L1696.1,342.3 L1698.5,347.1 L1700.9,351.8 L1703.3,356.5 L1705.8,361.1 L1708.2,365.6 L1710.6,370.2 L1713.0,374.7 L1715.5,379.2 L1717.9,383.4 L1720.3,387.2 L1722.7,390.7 L1725.2,394.0 L1727.6,397.1 L1730.0,400.1 L1732.4,402.9 L1734.9,405.4 L1737.3,407.7 L1739.7,409.9 L1742.2,411.9 L1744.6,413.7 L1747.0,415.5 L1749.4,417.1 L1751.9,418.5 L1754.3,419.9 L1756.7,421.2 L1759.1,422.3 L1761.6,423.5 L1764.0,424.6 L1766.4,425.6 L1768.8,426.6 L1771.3,427.6 L1773.7,428.5 L1776.1,429.3 L1778.5,430.1 L1781.0,430.8 L1783.4,431.4 L1785.8,432.0 L1788.3,432.5 L1790.7,433.1 L1793.1,433.6 L1795.5,434.1 L1798.0,434.6 L1800.4,435.2 L1802.8,435.7 L1805.2,436.2 L1807.7,436.6 L1810.1,437.1 L1812.5,437.5 L1814.9,437.9 L1817.4,438.3 L1819.8,438.6 L1822.2,438.9 L1824.6,439.2 L1827.1,439.4 L1829.5,439.6 L1829.5,440.5 L1827.1,440.3 L1824.6,440.1 L1822.2,439.8 L1819.8,439.5 L1817.4,439.2 L1814.9,438.8 L1812.5,438.4 L1810.1,438.0 L1807.7,437.5 L1805.2,437.1 L1802.8,436.6 L1800.4,436.1 L1798.0,435.5 L1795.5,435.0 L1793.1,434.5 L1790.7,434.0 L1788.3,433.4 L1785.8,432.9 L1783.4,432.3 L1781.0,431.7 L1778.5,431.0 L1776.1,430.2 L1773.7,429.4 L1771.3,428.5 L1768.8,427.5 L1766.4,426.5 L1764.0,425.5 L1761.6,424.4 L1759.1,423.2 L1756.7,422.1 L1754.3,420.8 L1751.9,419.4 L1749.4,418.0 L1747.0,416.4 L1744.6,414.6 L1742.2,412.8 L1739.7,410.8 L1737.3,408.6 L1734.9,406.3 L1732.4,403.8 L1730.0,401.0 L1727.6,398.0 L1725.2,394.9 L1722.7,391.6 L1720.3,388.1 L1717.9,384.3 L1715.5,380.1 L1713.0,375.6 L1710.6,371.1 L1708.2,366.5 L1705.8,362.0 L1703.3,357.4 L1700.9,352.7 L1698.5,348.0 L1696.1,343.2 L1693.6,338.5 L1691.2,333.8 L1688.8,329.1 L1686.4,324.5 L1683.9,319.8 L1681.5,315.2 L1679.1,310.6 L1676.6,306.0 L1674.2,301.6 L1671.8,297.4 L1669.4,293.5 L1666.9,289.9 L1664.5,287.2 L1662.1,285.2 L1659.7,283.8 L1657.2,283.1 L1654.8,283.2 L1652.4,284.0 L1650.0,285.3 L1647.5,287.2 L1645.1,289.8 L1642.7,292.9 L1640.3,296.7 L1637.8,300.9 L1635.4,305.5 L1633.0,310.3 L1630.5,315.3 L1628.1,320.4 L1625.7,325.7 L1623.3,331.1 L1620.8,336.5 L1618.4,342.0 L1616.0,347.7 L1613.6,353.6 L1611.1,359.7 L1608.7,365.8 L1606.3,371.5 L1603.9,376.7 L1601.4,381.5 L1599.0,385.8 L1596.6,389.8 L1594.2,393.3 L1591.7,396.3 L1589.3,398.9 L1586.9,401.4 L1584.5,403.5 L1582.0,405.5 L1579.6,407.3 L1577.2,408.9 L1574.7,410.3 L1572.3,411.4 L1569.9,412.2 L1567.5,412.9 L1565.0,413.4 L1562.6,413.8 L1560.2,414.2 L1557.8,414.6 L1555.3,414.8 L1552.9,415.0 L1550.5,415.1 L1548.1,415.1 L1545.6,415.0 L1543.2,415.0 L1540.8,415.0 L1538.4,415.0 L1535.9,415.0 L1533.5,415.0 L1531.1,415.0 L1528.6,415.0 L1526.2,415.0 L1523.8,415.0 L1521.4,415.0 L1518.9,415.0 L1516.5,415.0 L1514.1,415.1 L1511.7,415.1 L1509.2,415.2 L1506.8,415.2 L1504.4,415.3 L1502.0,415.4 L1499.5,415.6 L1497.1,415.9 L1494.7,416.2 L1492.3,416.6 L1489.8,416.9 L1487.4,417.2 L1485.0,417.6 L1482.6,418.0 L1480.1,418.4 L1477.7,418.9 L1475.3,419.4 L1472.8,419.9 L1470.4,420.4 L1468.0,421.0 L1465.6,421.6 L1463.1,422.3 L1460.7,423.1 L1458.3,424.0 L1455.9,424.9 L1453.4,425.7 L1451.0,426.5 L1448.6,427.2 L1446.2,428.0 L1443.7,428.9 L1441.3,430.0 L1438.9,431.1 L1436.5,432.3 L1434.0,433.6 L1431.6,434.8 L1429.2,436.0 L1426.8,437.3 L1424.3,438.5 L1421.9,439.7 L1419.5,440.9 L1417.0,442.0 L1414.6,443.1 L1412.2,444.2 L1409.8,445.3 L1407.3,446.3 L1404.9,447.4 L1402.5,448.4 L1400.1,449.5 L1397.6,450.4 L1395.2,451.2Z" fill="#c6b612" stroke="#c6b612" stroke-width="2.85" stroke-linejoin="round"/>
<path d="M1395.2,450.0 L1397.6,449.2 L1400.1,448.2 L1402.5,447.2 L1404.9,446.1 L1407.3,445.0 L1409.8,443.9 L1412.2,442.8 L1414.6,441.7 L1417.0,440.5 L1419.5,439.3 L1421.9,438.1 L1424.3,436.8 L1426.8,435.5 L1429.2,434.2 L1431.6,432.9 L1434.0,431.5 L1436.5,430.2 L1438.9,428.8 L1441.3,427.6 L1443.7,426.5 L1446.2,425.5 L1448.6,424.6 L1451.0,423.8 L1453.4,422.9 L1455.9,422.0 L1458.3,421.0 L1460.7,420.0 L1463.1,419.1 L1465.6,418.3 L1468.0,417.6 L1470.4,416.9 L1472.8,416.4 L1475.3,415.8 L1477.7,415.3 L1480.1,414.8 L1482.6,414.4 L1485.0,414.0 L1487.4,413.6 L1489.8,413.2 L1492.3,412.9 L1494.7,412.5 L1497.1,412.1 L1499.5,411.7 L1502.0,411.5 L1504.4,411.4 L1506.8,411.3 L1509.2,411.3 L1511.7,411.3 L1514.1,411.2 L1516.5,411.2 L1518.9,411.2 L1521.4,411.1 L1523.8,411.1 L1526.2,411.2 L1528.6,411.2 L1531.1,411.2 L1533.5,411.1 L1535.9,411.1 L1538.4,411.0 L1540.8,411.0 L1543.2,411.1 L1545.6,411.1 L1548.1,411.1 L1550.5,411.2 L1552.9,411.1 L1555.3,410.9 L1557.8,410.6 L1560.2,410.2 L1562.6,409.7 L1565.0,409.3 L1567.5,408.7 L1569.9,408.1 L1572.3,407.2 L1574.7,406.0 L1577.2,404.5 L1579.6,402.8 L1582.0,400.8 L1584.5,398.6 L1586.9,396.2 L1589.3,393.6 L1591.7,390.7 L1594.2,387.4 L1596.6,383.7 L1599.0,379.5 L1601.4,374.8 L1603.9,369.8 L1606.3,364.3 L1608.7,358.2 L1611.1,351.8 L1613.6,345.4 L1616.0,339.2 L1618.4,333.2 L1620.8,327.4 L1623.3,321.6 L1625.7,315.9 L1628.1,310.2 L1630.5,304.6 L1633.0,299.3 L1635.4,294.1 L1637.8,289.1 L1640.3,284.5 L1642.7,280.4 L1645.1,277.0 L1647.5,274.3 L1650.0,272.3 L1652.4,270.9 L1654.8,270.2 L1657.2,270.2 L1659.7,271.0 L1662.1,272.3 L1664.5,274.4 L1666.9,277.3 L1669.4,281.0 L1671.8,285.0 L1674.2,289.4 L1676.6,294.0 L1679.1,298.8 L1681.5,303.6 L1683.9,308.5 L1686.4,313.4 L1688.8,318.3 L1691.2,323.3 L1693.6,328.4 L1696.1,333.5 L1698.5,338.6 L1700.9,343.8 L1703.3,348.8 L1705.8,353.8 L1708.2,358.7 L1710.6,363.6 L1713.0,368.5 L1715.5,373.2 L1717.9,377.7 L1720.3,381.7 L1722.7,385.4 L1725.2,389.0 L1727.6,392.4 L1730.0,395.6 L1732.4,398.6 L1734.9,401.3 L1737.3,403.8 L1739.7,406.2 L1742.2,408.3 L1744.6,410.3 L1747.0,412.2 L1749.4,413.9 L1751.9,415.5 L1754.3,416.9 L1756.7,418.2 L1759.1,419.5 L1761.6,420.7 L1764.0,421.9 L1766.4,423.0 L1768.8,424.1 L1771.3,425.1 L1773.7,426.0 L1776.1,426.9 L1778.5,427.7 L1781.0,428.5 L1783.4,429.1 L1785.8,429.7 L1788.3,430.3 L1790.7,430.9 L1793.1,431.5 L1795.5,432.0 L1798.0,432.6 L1800.4,433.1 L1802.8,433.7 L1805.2,434.2 L1807.7,434.7 L1810.1,435.2 L1812.5,435.7 L1814.9,436.1 L1817.4,436.6 L1819.8,436.9 L1822.2,437.3 L1824.6,437.6 L1827.1,437.9 L1829.5,438.1 L1829.5,439.0 L1827.1,438.8 L1824.6,438.5 L1822.2,438.2 L1819.8,437.8 L1817.4,437.5 L1814.9,437.0 L1812.5,436.6 L1810.1,436.1 L1807.7,435.6 L1805.2,435.1 L1802.8,434.6 L1800.4,434.0 L1798.0,433.5 L1795.5,432.9 L1793.1,432.4 L1790.7,431.8 L1788.3,431.2 L1785.8,430.6 L1783.4,430.0 L1781.0,429.4 L1778.5,428.6 L1776.1,427.8 L1773.7,426.9 L1771.3,426.0 L1768.8,425.0 L1766.4,423.9 L1764.0,422.8 L1761.6,421.6 L1759.1,420.4 L1756.7,419.1 L1754.3,417.8 L1751.9,416.4 L1749.4,414.8 L1747.0,413.1 L1744.6,411.2 L1742.2,409.2 L1739.7,407.1 L1737.3,404.7 L1734.9,402.2 L1732.4,399.5 L1730.0,396.5 L1727.6,393.3 L1725.2,389.9 L1722.7,386.3 L1720.3,382.6 L1717.9,378.6 L1715.5,374.1 L1713.0,369.4 L1710.6,364.5 L1708.2,359.6 L1705.8,354.7 L1703.3,349.7 L1700.9,344.7 L1698.5,339.5 L1696.1,334.4 L1693.6,329.3 L1691.2,324.2 L1688.8,319.2 L1686.4,314.3 L1683.9,309.4 L1681.5,304.5 L1679.1,299.7 L1676.6,294.9 L1674.2,290.3 L1671.8,285.9 L1669.4,281.9 L1666.9,278.2 L1664.5,275.3 L1662.1,273.2 L1659.7,271.9 L1657.2,271.1 L1654.8,271.1 L1652.4,271.8 L1650.0,273.2 L1647.5,275.2 L1645.1,277.9 L1642.7,281.3 L1640.3,285.4 L1637.8,290.0 L1635.4,295.0 L1633.0,300.2 L1630.5,305.5 L1628.1,311.1 L1625.7,316.8 L1623.3,322.5 L1620.8,328.3 L1618.4,334.1 L1616.0,340.1 L1613.6,346.3 L1611.1,352.7 L1608.7,359.1 L1606.3,365.2 L1603.9,370.7 L1601.4,375.7 L1599.0,380.4 L1596.6,384.6 L1594.2,388.3 L1591.7,391.6 L1589.3,394.5 L1586.9,397.1 L1584.5,399.5 L1582.0,401.7 L1579.6,403.7 L1577.2,405.4 L1574.7,406.9 L1572.3,408.1 L1569.9,409.0 L1567.5,409.6 L1565.0,410.2 L1562.6,410.6 L1560.2,411.1 L1557.8,411.5 L1555.3,411.8 L1552.9,412.0 L1550.5,412.1 L1548.1,412.0 L1545.6,412.0 L1543.2,412.0 L1540.8,411.9 L1538.4,411.9 L1535.9,412.0 L1533.5,412.0 L1531.1,412.1 L1528.6,412.1 L1526.2,412.1 L1523.8,412.0 L1521.4,412.0 L1518.9,412.1 L1516.5,412.1 L1514.1,412.1 L1511.7,412.2 L1509.2,412.2 L1506.8,412.2 L1504.4,412.3 L1502.0,412.4 L1499.5,412.6 L1497.1,413.0 L1494.7,413.4 L1492.3,413.8 L1489.8,414.1 L1487.4,414.5 L1485.0,414.9 L1482.6,415.3 L1480.1,415.7 L1477.7,416.2 L1475.3,416.7 L1472.8,417.3 L1470.4,417.8 L1468.0,418.5 L1465.6,419.2 L1463.1,420.0 L1460.7,420.9 L1458.3,421.9 L1455.9,422.9 L1453.4,423.8 L1451.0,424.7 L1448.6,425.5 L1446.2,426.4 L1443.7,427.4 L1441.3,428.5 L1438.9,429.7 L1436.5,431.1 L1434.0,432.4 L1431.6,433.8 L1429.2,435.1 L1426.8,436.4 L1424.3,437.7 L1421.9,439.0 L1419.5,440.2 L1417.0,441.4 L1414.6,442.6 L1412.2,443.7 L1409.8,444.8 L1407.3,445.9 L1404.9,447.0 L1402.5,448.1 L1400.1,449.1 L1397.6,450.1 L1395.2,450.9Z" fill="#1ceee6" stroke="#1ceee6" stroke-width="2.85" stroke-linejoin="round"/>
<path d="M1395.2,449.7 L1397.6,449.0 L1400.1,447.9 L1402.5,446.9 L1404.9,445.8 L1407.3,444.6 L1409.8,443.5 L1412.2,442.3 L1414.6,441.1 L1417.0,439.9 L1419.5,438.7 L1421.9,437.4 L1424.3,436.0 L1426.8,434.6 L1429.2,433.2 L1431.6,431.8 L1434.0,430.4 L1436.5,428.9 L1438.9,427.5 L1441.3,426.1 L1443.7,424.9 L1446.2,423.8 L1448.6,422.9 L1451.0,422.0 L1453.4,421.1 L1455.9,420.1 L1458.3,419.0 L1460.7,417.8 L1463.1,416.7 L1465.6,415.8 L1468.0,415.1 L1470.4,414.4 L1472.8,413.8 L1475.3,413.2 L1477.7,412.7 L1480.1,412.2 L1482.6,411.7 L1485.0,411.3 L1487.4,410.9 L1489.8,410.5 L1492.3,410.1 L1494.7,409.6 L1497.1,409.1 L1499.5,408.7 L1502.0,408.5 L1504.4,408.4 L1506.8,408.4 L1509.2,408.3 L1511.7,408.3 L1514.1,408.3 L1516.5,408.2 L1518.9,408.2 L1521.4,408.2 L1523.8,408.2 L1526.2,408.2 L1528.6,408.2 L1531.1,408.2 L1533.5,408.1 L1535.9,408.1 L1538.4,408.0 L1540.8,408.0 L1543.2,408.0 L1545.6,408.1 L1548.1,408.1 L1550.5,408.2 L1552.9,408.1 L1555.3,408.0 L1557.8,407.6 L1560.2,407.1 L1562.6,406.6 L1565.0,406.1 L1567.5,405.5 L1569.9,404.8 L1572.3,403.9 L1574.7,402.7 L1577.2,401.1 L1579.6,399.2 L1582.0,397.0 L1584.5,394.6 L1586.9,392.0 L1589.3,389.1 L1591.7,386.0 L1594.2,382.5 L1596.6,378.5 L1599.0,374.0 L1601.4,369.1 L1603.9,363.7 L1606.3,357.9 L1608.7,351.5 L1611.1,344.8 L1613.6,338.0 L1616.0,331.5 L1618.4,325.2 L1620.8,319.1 L1623.3,313.1 L1625.7,307.0 L1628.1,300.9 L1630.5,294.9 L1633.0,289.1 L1635.4,283.6 L1637.8,278.2 L1640.3,273.3 L1642.7,268.8 L1645.1,265.2 L1647.5,262.3 L1650.0,260.2 L1652.4,258.8 L1654.8,258.2 L1657.2,258.2 L1659.7,259.0 L1662.1,260.4 L1664.5,262.5 L1666.9,265.5 L1669.4,269.3 L1671.8,273.6 L1674.2,278.1 L1676.6,282.9 L1679.1,287.9 L1681.5,293.0 L1683.9,298.1 L1686.4,303.2 L1688.8,308.5 L1691.2,313.8 L1693.6,319.1 L1696.1,324.6 L1698.5,330.2 L1700.9,335.7 L1703.3,341.2 L1705.8,346.6 L1708.2,351.8 L1710.6,357.0 L1713.0,362.2 L1715.5,367.2 L1717.9,371.9 L1720.3,376.2 L1722.7,380.2 L1725.2,384.0 L1727.6,387.7 L1730.0,391.1 L1732.4,394.3 L1734.9,397.2 L1737.3,399.9 L1739.7,402.4 L1742.2,404.7 L1744.6,406.9 L1747.0,408.9 L1749.4,410.7 L1751.9,412.4 L1754.3,413.9 L1756.7,415.3 L1759.1,416.7 L1761.6,418.0 L1764.0,419.2 L1766.4,420.4 L1768.8,421.5 L1771.3,422.6 L1773.7,423.6 L1776.1,424.5 L1778.5,425.4 L1781.0,426.2 L1783.4,426.9 L1785.8,427.5 L1788.3,428.1 L1790.7,428.7 L1793.1,429.3 L1795.5,429.9 L1798.0,430.5 L1800.4,431.1 L1802.8,431.7 L1805.2,432.3 L1807.7,432.9 L1810.1,433.4 L1812.5,433.9 L1814.9,434.4 L1817.4,434.8 L1819.8,435.3 L1822.2,435.7 L1824.6,436.1 L1827.1,436.4 L1829.5,436.6 L1829.5,437.5 L1827.1,437.3 L1824.6,437.0 L1822.2,436.6 L1819.8,436.2 L1817.4,435.7 L1814.9,435.3 L1812.5,434.8 L1810.1,434.3 L1807.7,433.8 L1805.2,433.2 L1802.8,432.6 L1800.4,432.0 L1798.0,431.4 L1795.5,430.8 L1793.1,430.2 L1790.7,429.6 L1788.3,429.0 L1785.8,428.4 L1783.4,427.8 L1781.0,427.1 L1778.5,426.3 L1776.1,425.4 L1773.7,424.5 L1771.3,423.5 L1768.8,422.4 L1766.4,421.3 L1764.0,420.1 L1761.6,418.9 L1759.1,417.6 L1756.7,416.2 L1754.3,414.8 L1751.9,413.3 L1749.4,411.6 L1747.0,409.8 L1744.6,407.8 L1742.2,405.6 L1739.7,403.3 L1737.3,400.8 L1734.9,398.1 L1732.4,395.2 L1730.0,392.0 L1727.6,388.6 L1725.2,384.9 L1722.7,381.1 L1720.3,377.1 L1717.9,372.8 L1715.5,368.1 L1713.0,363.1 L1710.6,357.9 L1708.2,352.7 L1705.8,347.5 L1703.3,342.1 L1700.9,336.6 L1698.5,331.1 L1696.1,325.5 L1693.6,320.0 L1691.2,314.7 L1688.8,309.4 L1686.4,304.1 L1683.9,299.0 L1681.5,293.9 L1679.1,288.8 L1676.6,283.8 L1674.2,279.0 L1671.8,274.5 L1669.4,270.2 L1666.9,266.4 L1664.5,263.4 L1662.1,261.3 L1659.7,259.9 L1657.2,259.1 L1654.8,259.1 L1652.4,259.7 L1650.0,261.1 L1647.5,263.2 L1645.1,266.1 L1642.7,269.7 L1640.3,274.2 L1637.8,279.1 L1635.4,284.5 L1633.0,290.0 L1630.5,295.8 L1628.1,301.8 L1625.7,307.9 L1623.3,314.0 L1620.8,320.0 L1618.4,326.1 L1616.0,332.4 L1613.6,338.9 L1611.1,345.7 L1608.7,352.4 L1606.3,358.8 L1603.9,364.6 L1601.4,370.0 L1599.0,374.9 L1596.6,379.4 L1594.2,383.4 L1591.7,386.9 L1589.3,390.0 L1586.9,392.9 L1584.5,395.5 L1582.0,397.9 L1579.6,400.1 L1577.2,402.0 L1574.7,403.6 L1572.3,404.8 L1569.9,405.7 L1567.5,406.4 L1565.0,407.0 L1562.6,407.5 L1560.2,408.0 L1557.8,408.5 L1555.3,408.9 L1552.9,409.0 L1550.5,409.1 L1548.1,409.0 L1545.6,409.0 L1543.2,408.9 L1540.8,408.9 L1538.4,408.9 L1535.9,409.0 L1533.5,409.0 L1531.1,409.1 L1528.6,409.1 L1526.2,409.1 L1523.8,409.1 L1521.4,409.1 L1518.9,409.1 L1516.5,409.1 L1514.1,409.2 L1511.7,409.2 L1509.2,409.2 L1506.8,409.3 L1504.4,409.3 L1502.0,409.4 L1499.5,409.6 L1497.1,410.0 L1494.7,410.5 L1492.3,411.0 L1489.8,411.4 L1487.4,411.8 L1485.0,412.2 L1482.6,412.6 L1480.1,413.1 L1477.7,413.6 L1475.3,414.1 L1472.8,414.7 L1470.4,415.3 L1468.0,416.0 L1465.6,416.7 L1463.1,417.6 L1460.7,418.7 L1458.3,419.9 L1455.9,421.0 L1453.4,422.0 L1451.0,422.9 L1448.6,423.8 L1446.2,424.7 L1443.7,425.8 L1441.3,427.0 L1438.9,428.4 L1436.5,429.8 L1434.0,431.3 L1431.6,432.7 L1429.2,434.1 L1426.8,435.5 L1424.3,436.9 L1421.9,438.3 L1419.5,439.6 L1417.0,440.8 L1414.6,442.0 L1412.2,443.2 L1409.8,444.4 L1407.3,445.5 L1404.9,446.7 L1402.5,447.8 L1400.1,448.8 L1397.6,449.9 L1395.2,450.6Z" fill="#f07a1c" stroke="#f07a1c" stroke-width="2.85" stroke-linejoin="round"/>
<path d="M1395.2,449.2 L1397.6,448.4 L1400.1,447.4 L1402.5,446.2 L1404.9,445.1 L1407.3,443.9 L1409.8,442.7 L1412.2,441.4 L1414.6,440.1 L1417.0,438.8 L1419.5,437.4 L1421.9,436.0 L1424.3,434.5 L1426.8,433.0 L1429.2,431.5 L1431.6,429.9 L1434.0,428.3 L1436.5,426.6 L1438.9,424.9 L1441.3,423.3 L1443.7,421.9 L1446.2,420.7 L1448.6,419.7 L1451.0,418.7 L1453.4,417.6 L1455.9,416.5 L1458.3,415.1 L1460.7,413.7 L1463.1,412.4 L1465.6,411.3 L1468.0,410.4 L1470.4,409.6 L1472.8,408.9 L1475.3,408.3 L1477.7,407.7 L1480.1,407.1 L1482.6,406.6 L1485.0,406.2 L1487.4,405.7 L1489.8,405.3 L1492.3,404.9 L1494.7,404.3 L1497.1,403.7 L1499.5,403.2 L1502.0,402.9 L1504.4,402.8 L1506.8,402.8 L1509.2,402.8 L1511.7,402.8 L1514.1,402.7 L1516.5,402.7 L1518.9,402.7 L1521.4,402.7 L1523.8,402.7 L1526.2,402.7 L1528.6,402.7 L1531.1,402.7 L1533.5,402.6 L1535.9,402.4 L1538.4,402.3 L1540.8,402.3 L1543.2,402.3 L1545.6,402.4 L1548.1,402.5 L1550.5,402.5 L1552.9,402.5 L1555.3,402.3 L1557.8,401.9 L1560.2,401.4 L1562.6,400.7 L1565.0,400.0 L1567.5,399.4 L1569.9,398.6 L1572.3,397.7 L1574.7,396.4 L1577.2,394.7 L1579.6,392.4 L1582.0,389.9 L1584.5,387.1 L1586.9,384.0 L1589.3,380.7 L1591.7,377.1 L1594.2,373.2 L1596.6,368.7 L1599.0,363.8 L1601.4,358.3 L1603.9,352.4 L1606.3,346.0 L1608.7,339.0 L1611.1,331.6 L1613.6,324.3 L1616.0,317.2 L1618.4,310.4 L1620.8,303.7 L1623.3,297.1 L1625.7,290.3 L1628.1,283.5 L1630.5,276.7 L1633.0,270.2 L1635.4,263.8 L1637.8,257.8 L1640.3,252.1 L1642.7,247.1 L1645.1,242.9 L1647.5,239.8 L1650.0,237.5 L1652.4,236.1 L1654.8,235.6 L1657.2,235.7 L1659.7,236.5 L1662.1,238.0 L1664.5,240.2 L1666.9,243.5 L1669.4,247.6 L1671.8,252.1 L1674.2,257.0 L1676.6,262.1 L1679.1,267.4 L1681.5,272.9 L1683.9,278.5 L1686.4,284.2 L1688.8,289.9 L1691.2,295.8 L1693.6,301.9 L1696.1,308.0 L1698.5,314.3 L1700.9,320.6 L1703.3,326.9 L1705.8,332.9 L1708.2,338.9 L1710.6,344.8 L1713.0,350.5 L1715.5,356.0 L1717.9,361.2 L1720.3,365.9 L1722.7,370.4 L1725.2,374.7 L1727.6,378.8 L1730.0,382.6 L1732.4,386.2 L1734.9,389.5 L1737.3,392.6 L1739.7,395.4 L1742.2,398.0 L1744.6,400.5 L1747.0,402.7 L1749.4,404.8 L1751.9,406.6 L1754.3,408.3 L1756.7,409.9 L1759.1,411.4 L1761.6,412.8 L1764.0,414.1 L1766.4,415.5 L1768.8,416.7 L1771.3,417.9 L1773.7,419.0 L1776.1,420.0 L1778.5,421.0 L1781.0,421.8 L1783.4,422.6 L1785.8,423.4 L1788.3,424.0 L1790.7,424.7 L1793.1,425.3 L1795.5,426.0 L1798.0,426.6 L1800.4,427.3 L1802.8,428.0 L1805.2,428.7 L1807.7,429.3 L1810.1,429.9 L1812.5,430.5 L1814.9,431.1 L1817.4,431.6 L1819.8,432.2 L1822.2,432.7 L1824.6,433.1 L1827.1,433.6 L1829.5,433.9 L1829.5,434.8 L1827.1,434.5 L1824.6,434.0 L1822.2,433.6 L1819.8,433.1 L1817.4,432.5 L1814.9,432.0 L1812.5,431.4 L1810.1,430.8 L1807.7,430.2 L1805.2,429.6 L1802.8,428.9 L1800.4,428.2 L1798.0,427.5 L1795.5,426.9 L1793.1,426.2 L1790.7,425.6 L1788.3,424.9 L1785.8,424.3 L1783.4,423.5 L1781.0,422.7 L1778.5,421.9 L1776.1,420.9 L1773.7,419.9 L1771.3,418.8 L1768.8,417.6 L1766.4,416.4 L1764.0,415.0 L1761.6,413.7 L1759.1,412.3 L1756.7,410.8 L1754.3,409.2 L1751.9,407.5 L1749.4,405.7 L1747.0,403.6 L1744.6,401.4 L1742.2,398.9 L1739.7,396.3 L1737.3,393.5 L1734.9,390.4 L1732.4,387.1 L1730.0,383.5 L1727.6,379.7 L1725.2,375.6 L1722.7,371.3 L1720.3,366.8 L1717.9,362.1 L1715.5,356.9 L1713.0,351.4 L1710.6,345.7 L1708.2,339.8 L1705.8,333.8 L1703.3,327.8 L1700.9,321.5 L1698.5,315.2 L1696.1,308.9 L1693.6,302.8 L1691.2,296.7 L1688.8,290.8 L1686.4,285.1 L1683.9,279.4 L1681.5,273.8 L1679.1,268.3 L1676.6,263.0 L1674.2,257.9 L1671.8,253.0 L1669.4,248.5 L1666.9,244.4 L1664.5,241.1 L1662.1,238.9 L1659.7,237.4 L1657.2,236.6 L1654.8,236.5 L1652.4,237.0 L1650.0,238.4 L1647.5,240.7 L1645.1,243.8 L1642.7,248.0 L1640.3,253.0 L1637.8,258.7 L1635.4,264.7 L1633.0,271.1 L1630.5,277.6 L1628.1,284.4 L1625.7,291.2 L1623.3,298.0 L1620.8,304.6 L1618.4,311.3 L1616.0,318.1 L1613.6,325.2 L1611.1,332.5 L1608.7,339.9 L1606.3,346.9 L1603.9,353.3 L1601.4,359.2 L1599.0,364.7 L1596.6,369.6 L1594.2,374.1 L1591.7,378.0 L1589.3,381.6 L1586.9,384.9 L1584.5,388.0 L1582.0,390.8 L1579.6,393.3 L1577.2,395.6 L1574.7,397.3 L1572.3,398.6 L1569.9,399.5 L1567.5,400.3 L1565.0,400.9 L1562.6,401.6 L1560.2,402.3 L1557.8,402.8 L1555.3,403.2 L1552.9,403.4 L1550.5,403.4 L1548.1,403.4 L1545.6,403.3 L1543.2,403.2 L1540.8,403.2 L1538.4,403.2 L1535.9,403.3 L1533.5,403.5 L1531.1,403.6 L1528.6,403.6 L1526.2,403.6 L1523.8,403.6 L1521.4,403.6 L1518.9,403.6 L1516.5,403.6 L1514.1,403.6 L1511.7,403.7 L1509.2,403.7 L1506.8,403.7 L1504.4,403.7 L1502.0,403.8 L1499.5,404.1 L1497.1,404.6 L1494.7,405.2 L1492.3,405.8 L1489.8,406.2 L1487.4,406.6 L1485.0,407.1 L1482.6,407.5 L1480.1,408.0 L1477.7,408.6 L1475.3,409.2 L1472.8,409.8 L1470.4,410.5 L1468.0,411.3 L1465.6,412.2 L1463.1,413.3 L1460.7,414.6 L1458.3,416.0 L1455.9,417.4 L1453.4,418.5 L1451.0,419.6 L1448.6,420.6 L1446.2,421.6 L1443.7,422.8 L1441.3,424.2 L1438.9,425.8 L1436.5,427.5 L1434.0,429.2 L1431.6,430.8 L1429.2,432.4 L1426.8,433.9 L1424.3,435.4 L1421.9,436.9 L1419.5,438.3 L1417.0,439.7 L1414.6,441.0 L1412.2,442.3 L1409.8,443.6 L1407.3,444.8 L1404.9,446.0 L1402.5,447.1 L1400.1,448.3 L1397.6,449.3 L1395.2,450.1Z" fill="#12b412" stroke="#12b412" stroke-width="2.85" stroke-linejoin="round"/>
<path d="M1395.2,448.8 L1397.6,448.0 L1400.1,446.9 L1402.5,445.7 L1404.9,444.5 L1407.3,443.3 L1409.8,442.0 L1412.2,440.7 L1414.6,439.4 L1417.0,437.9 L1419.5,436.5 L1421.9,434.9 L1424.3,433.4 L1426.8,431.7 L1429.2,430.1 L1431.6,428.4 L1434.0,426.6 L1436.5,424.7 L1438.9,422.8 L1441.3,421.1 L1443.7,419.5 L1446.2,418.2 L1448.6,417.1 L1451.0,416.0 L1453.4,414.9 L1455.9,413.5 L1458.3,412.0 L1460.7,410.4 L1463.1,408.9 L1465.6,407.6 L1468.0,406.6 L1470.4,405.8 L1472.8,405.0 L1475.3,404.3 L1477.7,403.7 L1480.1,403.1 L1482.6,402.6 L1485.0,402.1 L1487.4,401.7 L1489.8,401.2 L1492.3,400.7 L1494.7,400.0 L1497.1,399.3 L1499.5,398.7 L1502.0,398.4 L1504.4,398.3 L1506.8,398.3 L1509.2,398.3 L1511.7,398.3 L1514.1,398.3 L1516.5,398.3 L1518.9,398.3 L1521.4,398.3 L1523.8,398.3 L1526.2,398.3 L1528.6,398.3 L1531.1,398.2 L1533.5,398.1 L1535.9,397.9 L1538.4,397.8 L1540.8,397.7 L1543.2,397.8 L1545.6,397.8 L1548.1,397.9 L1550.5,398.0 L1552.9,398.0 L1555.3,397.8 L1557.8,397.4 L1560.2,396.7 L1562.6,396.0 L1565.0,395.2 L1567.5,394.5 L1569.9,393.7 L1572.3,392.7 L1574.7,391.4 L1577.2,389.5 L1579.6,387.0 L1582.0,384.2 L1584.5,381.1 L1586.9,377.7 L1589.3,374.0 L1591.7,370.1 L1594.2,365.7 L1596.6,360.9 L1599.0,355.6 L1601.4,349.7 L1603.9,343.4 L1606.3,336.4 L1608.7,328.9 L1611.1,321.1 L1613.6,313.3 L1616.0,305.7 L1618.4,298.4 L1620.8,291.4 L1623.3,284.3 L1625.7,277.0 L1628.1,269.5 L1630.5,262.1 L1633.0,255.0 L1635.4,248.1 L1637.8,241.5 L1640.3,235.2 L1642.7,229.7 L1645.1,225.1 L1647.5,221.7 L1650.0,219.3 L1652.4,217.9 L1654.8,217.5 L1657.2,217.7 L1659.7,218.6 L1662.1,220.1 L1664.5,222.4 L1666.9,225.8 L1669.4,230.2 L1671.8,234.9 L1674.2,240.0 L1676.6,245.4 L1679.1,251.1 L1681.5,256.9 L1683.9,262.9 L1686.4,268.9 L1688.8,275.1 L1691.2,281.5 L1693.6,288.1 L1696.1,294.8 L1698.5,301.7 L1700.9,308.6 L1703.3,315.4 L1705.8,322.0 L1708.2,328.5 L1710.6,334.9 L1713.0,341.1 L1715.5,347.0 L1717.9,352.6 L1720.3,357.7 L1722.7,362.6 L1725.2,367.3 L1727.6,371.7 L1730.0,375.9 L1732.4,379.8 L1734.9,383.4 L1737.3,386.7 L1739.7,389.8 L1742.2,392.7 L1744.6,395.3 L1747.0,397.8 L1749.4,400.0 L1751.9,402.0 L1754.3,403.8 L1756.7,405.5 L1759.1,407.1 L1761.6,408.6 L1764.0,410.1 L1766.4,411.5 L1768.8,412.9 L1771.3,414.1 L1773.7,415.3 L1776.1,416.4 L1778.5,417.5 L1781.0,418.4 L1783.4,419.3 L1785.8,420.0 L1788.3,420.7 L1790.7,421.4 L1793.1,422.1 L1795.5,422.8 L1798.0,423.5 L1800.4,424.3 L1802.8,425.0 L1805.2,425.8 L1807.7,426.5 L1810.1,427.2 L1812.5,427.8 L1814.9,428.5 L1817.4,429.1 L1819.8,429.7 L1822.2,430.3 L1824.6,430.8 L1827.1,431.3 L1829.5,431.7 L1829.5,432.6 L1827.1,432.2 L1824.6,431.7 L1822.2,431.2 L1819.8,430.6 L1817.4,430.0 L1814.9,429.4 L1812.5,428.7 L1810.1,428.1 L1807.7,427.4 L1805.2,426.7 L1802.8,425.9 L1800.4,425.2 L1798.0,424.4 L1795.5,423.7 L1793.1,423.0 L1790.7,422.3 L1788.3,421.6 L1785.8,420.9 L1783.4,420.2 L1781.0,419.3 L1778.5,418.4 L1776.1,417.3 L1773.7,416.2 L1771.3,415.0 L1768.8,413.8 L1766.4,412.4 L1764.0,411.0 L1761.6,409.5 L1759.1,408.0 L1756.7,406.4 L1754.3,404.7 L1751.9,402.9 L1749.4,400.9 L1747.0,398.7 L1744.6,396.2 L1742.2,393.6 L1739.7,390.7 L1737.3,387.6 L1734.9,384.3 L1732.4,380.7 L1730.0,376.8 L1727.6,372.6 L1725.2,368.2 L1722.7,363.5 L1720.3,358.6 L1717.9,353.5 L1715.5,347.9 L1713.0,342.0 L1710.6,335.8 L1708.2,329.4 L1705.8,322.9 L1703.3,316.3 L1700.9,309.5 L1698.5,302.6 L1696.1,295.7 L1693.6,289.0 L1691.2,282.4 L1688.8,276.0 L1686.4,269.8 L1683.9,263.8 L1681.5,257.8 L1679.1,252.0 L1676.6,246.3 L1674.2,240.9 L1671.8,235.8 L1669.4,231.1 L1666.9,226.7 L1664.5,223.3 L1662.1,221.0 L1659.7,219.5 L1657.2,218.6 L1654.8,218.4 L1652.4,218.8 L1650.0,220.2 L1647.5,222.6 L1645.1,226.0 L1642.7,230.6 L1640.3,236.1 L1637.8,242.4 L1635.4,249.0 L1633.0,255.9 L1630.5,263.0 L1628.1,270.4 L1625.7,277.9 L1623.3,285.2 L1620.8,292.3 L1618.4,299.3 L1616.0,306.6 L1613.6,314.2 L1611.1,322.0 L1608.7,329.8 L1606.3,337.3 L1603.9,344.3 L1601.4,350.6 L1599.0,356.5 L1596.6,361.8 L1594.2,366.6 L1591.7,371.0 L1589.3,374.9 L1586.9,378.6 L1584.5,382.0 L1582.0,385.1 L1579.6,387.9 L1577.2,390.4 L1574.7,392.3 L1572.3,393.6 L1569.9,394.6 L1567.5,395.4 L1565.0,396.1 L1562.6,396.9 L1560.2,397.6 L1557.8,398.3 L1555.3,398.7 L1552.9,398.9 L1550.5,398.9 L1548.1,398.8 L1545.6,398.7 L1543.2,398.7 L1540.8,398.6 L1538.4,398.7 L1535.9,398.8 L1533.5,399.0 L1531.1,399.1 L1528.6,399.2 L1526.2,399.2 L1523.8,399.2 L1521.4,399.2 L1518.9,399.2 L1516.5,399.2 L1514.1,399.2 L1511.7,399.2 L1509.2,399.2 L1506.8,399.2 L1504.4,399.2 L1502.0,399.3 L1499.5,399.6 L1497.1,400.2 L1494.7,400.9 L1492.3,401.6 L1489.8,402.1 L1487.4,402.6 L1485.0,403.0 L1482.6,403.5 L1480.1,404.0 L1477.7,404.6 L1475.3,405.2 L1472.8,405.9 L1470.4,406.7 L1468.0,407.5 L1465.6,408.5 L1463.1,409.8 L1460.7,411.3 L1458.3,412.9 L1455.9,414.4 L1453.4,415.8 L1451.0,416.9 L1448.6,418.0 L1446.2,419.1 L1443.7,420.4 L1441.3,422.0 L1438.9,423.7 L1436.5,425.6 L1434.0,427.5 L1431.6,429.3 L1429.2,431.0 L1426.8,432.6 L1424.3,434.3 L1421.9,435.8 L1419.5,437.4 L1417.0,438.8 L1414.6,440.3 L1412.2,441.6 L1409.8,442.9 L1407.3,444.2 L1404.9,445.4 L1402.5,446.6 L1400.1,447.8 L1397.6,448.9 L1395.2,449.7Z" fill="#ae12e2" stroke="#ae12e2" stroke-width="2.85" stroke-linejoin="round"/>
<path d="M1395.2,448.2 L1397.6,447.4 L1400.1,446.3 L1402.5,445.1 L1404.9,443.8 L1407.3,442.5 L1409.8,441.2 L1412.2,439.8 L1414.6,438.3 L1417.0,436.8 L1419.5,435.2 L1421.9,433.6 L1424.3,431.8 L1426.8,430.1 L1429.2,428.2 L1431.6,426.4 L1434.0,424.4 L1436.5,422.3 L1438.9,420.2 L1441.3,418.2 L1443.7,416.5 L1446.2,415.0 L1448.6,413.8 L1451.0,412.6 L1453.4,411.3 L1455.9,409.8 L1458.3,408.0 L1460.7,406.1 L1463.1,404.4 L1465.6,403.0 L1468.0,401.8 L1470.4,400.9 L1472.8,400.0 L1475.3,399.3 L1477.7,398.6 L1480.1,398.0 L1482.6,397.4 L1485.0,396.9 L1487.4,396.4 L1489.8,395.9 L1492.3,395.4 L1494.7,394.6 L1497.1,393.7 L1499.5,393.0 L1502.0,392.6 L1504.4,392.5 L1506.8,392.5 L1509.2,392.6 L1511.7,392.6 L1514.1,392.7 L1516.5,392.7 L1518.9,392.7 L1521.4,392.6 L1523.8,392.6 L1526.2,392.7 L1528.6,392.6 L1531.1,392.5 L1533.5,392.4 L1535.9,392.2 L1538.4,392.0 L1540.8,391.9 L1543.2,391.9 L1545.6,392.0 L1548.1,392.1 L1550.5,392.3 L1552.9,392.3 L1555.3,392.1 L1557.8,391.6 L1560.2,390.8 L1562.6,389.9 L1565.0,389.1 L1567.5,388.3 L1569.9,387.4 L1572.3,386.4 L1574.7,384.9 L1577.2,382.9 L1579.6,380.1 L1582.0,376.9 L1584.5,373.4 L1586.9,369.5 L1589.3,365.4 L1591.7,361.0 L1594.2,356.2 L1596.6,350.9 L1599.0,345.1 L1601.4,338.7 L1603.9,331.7 L1606.3,324.2 L1608.7,316.0 L1611.1,307.6 L1613.6,299.2 L1616.0,291.0 L1618.4,283.2 L1620.8,275.5 L1623.3,267.8 L1625.7,259.9 L1628.1,251.6 L1630.5,243.4 L1633.0,235.5 L1635.4,227.8 L1637.8,220.5 L1640.3,213.6 L1642.7,207.3 L1645.1,202.3 L1647.5,198.6 L1650.0,196.0 L1652.4,194.6 L1654.8,194.2 L1657.2,194.6 L1659.7,195.6 L1662.1,197.1 L1664.5,199.5 L1666.9,203.2 L1669.4,207.8 L1671.8,212.9 L1674.2,218.3 L1676.6,224.1 L1679.1,230.1 L1681.5,236.3 L1683.9,242.8 L1686.4,249.4 L1688.8,256.1 L1691.2,263.1 L1693.6,270.3 L1696.1,277.8 L1698.5,285.4 L1700.9,293.1 L1703.3,300.6 L1705.8,308.0 L1708.2,315.3 L1710.6,322.3 L1713.0,329.1 L1715.5,335.5 L1717.9,341.6 L1720.3,347.2 L1722.7,352.5 L1725.2,357.7 L1727.6,362.6 L1730.0,367.2 L1732.4,371.5 L1734.9,375.5 L1737.3,379.2 L1739.7,382.7 L1742.2,385.8 L1744.6,388.7 L1747.0,391.4 L1749.4,393.9 L1751.9,396.1 L1754.3,398.1 L1756.7,399.9 L1759.1,401.6 L1761.6,403.3 L1764.0,404.9 L1766.4,406.5 L1768.8,407.9 L1771.3,409.3 L1773.7,410.6 L1776.1,411.8 L1778.5,412.9 L1781.0,414.0 L1783.4,414.9 L1785.8,415.8 L1788.3,416.5 L1790.7,417.3 L1793.1,418.0 L1795.5,418.8 L1798.0,419.6 L1800.4,420.4 L1802.8,421.2 L1805.2,422.0 L1807.7,422.8 L1810.1,423.6 L1812.5,424.4 L1814.9,425.1 L1817.4,425.8 L1819.8,426.5 L1822.2,427.2 L1824.6,427.8 L1827.1,428.4 L1829.5,428.9 L1829.5,429.8 L1827.1,429.3 L1824.6,428.7 L1822.2,428.1 L1819.8,427.4 L1817.4,426.7 L1814.9,426.0 L1812.5,425.3 L1810.1,424.5 L1807.7,423.7 L1805.2,422.9 L1802.8,422.1 L1800.4,421.3 L1798.0,420.5 L1795.5,419.7 L1793.1,418.9 L1790.7,418.2 L1788.3,417.4 L1785.8,416.7 L1783.4,415.8 L1781.0,414.9 L1778.5,413.8 L1776.1,412.7 L1773.7,411.5 L1771.3,410.2 L1768.8,408.8 L1766.4,407.4 L1764.0,405.8 L1761.6,404.2 L1759.1,402.5 L1756.7,400.8 L1754.3,399.0 L1751.9,397.0 L1749.4,394.8 L1747.0,392.3 L1744.6,389.6 L1742.2,386.7 L1739.7,383.6 L1737.3,380.1 L1734.9,376.4 L1732.4,372.4 L1730.0,368.1 L1727.6,363.5 L1725.2,358.6 L1722.7,353.4 L1720.3,348.1 L1717.9,342.5 L1715.5,336.4 L1713.0,330.0 L1710.6,323.2 L1708.2,316.2 L1705.8,308.9 L1703.3,301.5 L1700.9,294.0 L1698.5,286.3 L1696.1,278.7 L1693.6,271.2 L1691.2,264.0 L1688.8,257.0 L1686.4,250.3 L1683.9,243.7 L1681.5,237.2 L1679.1,231.0 L1676.6,225.0 L1674.2,219.2 L1671.8,213.8 L1669.4,208.7 L1666.9,204.1 L1664.5,200.4 L1662.1,198.0 L1659.7,196.5 L1657.2,195.5 L1654.8,195.1 L1652.4,195.5 L1650.0,196.9 L1647.5,199.5 L1645.1,203.2 L1642.7,208.2 L1640.3,214.5 L1637.8,221.4 L1635.4,228.7 L1633.0,236.4 L1630.5,244.3 L1628.1,252.5 L1625.7,260.8 L1623.3,268.7 L1620.8,276.4 L1618.4,284.1 L1616.0,291.9 L1613.6,300.1 L1611.1,308.5 L1608.7,316.9 L1606.3,325.1 L1603.9,332.6 L1601.4,339.6 L1599.0,346.0 L1596.6,351.8 L1594.2,357.1 L1591.7,361.9 L1589.3,366.3 L1586.9,370.4 L1584.5,374.3 L1582.0,377.8 L1579.6,381.0 L1577.2,383.8 L1574.7,385.8 L1572.3,387.3 L1569.9,388.3 L1567.5,389.2 L1565.0,390.0 L1562.6,390.8 L1560.2,391.7 L1557.8,392.5 L1555.3,393.0 L1552.9,393.2 L1550.5,393.2 L1548.1,393.0 L1545.6,392.9 L1543.2,392.8 L1540.8,392.8 L1538.4,392.9 L1535.9,393.1 L1533.5,393.3 L1531.1,393.4 L1528.6,393.5 L1526.2,393.6 L1523.8,393.5 L1521.4,393.5 L1518.9,393.6 L1516.5,393.6 L1514.1,393.6 L1511.7,393.5 L1509.2,393.5 L1506.8,393.4 L1504.4,393.4 L1502.0,393.5 L1499.5,393.9 L1497.1,394.6 L1494.7,395.5 L1492.3,396.3 L1489.8,396.8 L1487.4,397.3 L1485.0,397.8 L1482.6,398.3 L1480.1,398.9 L1477.7,399.5 L1475.3,400.2 L1472.8,400.9 L1470.4,401.8 L1468.0,402.7 L1465.6,403.9 L1463.1,405.3 L1460.7,407.0 L1458.3,408.9 L1455.9,410.7 L1453.4,412.2 L1451.0,413.5 L1448.6,414.7 L1446.2,415.9 L1443.7,417.4 L1441.3,419.1 L1438.9,421.1 L1436.5,423.2 L1434.0,425.3 L1431.6,427.3 L1429.2,429.1 L1426.8,431.0 L1424.3,432.7 L1421.9,434.5 L1419.5,436.1 L1417.0,437.7 L1414.6,439.2 L1412.2,440.7 L1409.8,442.1 L1407.3,443.4 L1404.9,444.7 L1402.5,446.0 L1400.1,447.2 L1397.6,448.3 L1395.2,449.1Z" fill="#5252f0" stroke="#5252f0" stroke-width="2.85" stroke-linejoin="round"/>
<path d="M1395.2,447.5 L1397.6,446.6 L1400.1,445.5 L1402.5,444.2 L1404.9,442.9 L1407.3,441.5 L1409.8,440.0 L1412.2,438.5 L1414.6,436.9 L1417.0,435.2 L1419.5,433.5 L1421.9,431.6 L1424.3,429.7 L1426.8,427.7 L1429.2,425.7 L1431.6,423.6 L1434.0,421.4 L1436.5,419.0 L1438.9,416.5 L1441.3,414.3 L1443.7,412.2 L1446.2,410.6 L1448.6,409.2 L1451.0,407.8 L1453.4,406.4 L1455.9,404.6 L1458.3,402.5 L1460.7,400.2 L1463.1,398.1 L1465.6,396.5 L1468.0,395.1 L1470.4,394.0 L1472.8,393.1 L1475.3,392.2 L1477.7,391.5 L1480.1,390.8 L1482.6,390.2 L1485.0,389.6 L1487.4,389.1 L1489.8,388.6 L1492.3,387.9 L1494.7,387.0 L1497.1,385.9 L1499.5,385.0 L1502.0,384.6 L1504.4,384.5 L1506.8,384.6 L1509.2,384.7 L1511.7,384.7 L1514.1,384.8 L1516.5,384.8 L1518.9,384.8 L1521.4,384.8 L1523.8,384.8 L1526.2,384.8 L1528.6,384.8 L1531.1,384.6 L1533.5,384.4 L1535.9,384.1 L1538.4,383.9 L1540.8,383.8 L1543.2,383.8 L1545.6,383.9 L1548.1,384.1 L1550.5,384.2 L1552.9,384.3 L1555.3,384.1 L1557.8,383.5 L1560.2,382.5 L1562.6,381.5 L1565.0,380.5 L1567.5,379.6 L1569.9,378.6 L1572.3,377.5 L1574.7,376.0 L1577.2,373.7 L1579.6,370.5 L1582.0,366.7 L1584.5,362.6 L1586.9,358.2 L1589.3,353.4 L1591.7,348.4 L1594.2,342.9 L1596.6,337.0 L1599.0,330.5 L1601.4,323.3 L1603.9,315.6 L1606.3,307.1 L1608.7,298.1 L1611.1,288.9 L1613.6,279.5 L1616.0,270.5 L1618.4,261.9 L1620.8,253.5 L1623.3,245.0 L1625.7,236.1 L1628.1,226.8 L1630.5,217.4 L1633.0,208.4 L1635.4,199.7 L1637.8,191.3 L1640.3,183.4 L1642.7,176.3 L1645.1,170.6 L1647.5,166.4 L1650.0,163.6 L1652.4,162.2 L1654.8,162.0 L1657.2,162.5 L1659.7,163.5 L1662.1,165.1 L1664.5,167.7 L1666.9,171.7 L1669.4,176.8 L1671.8,182.2 L1674.2,188.1 L1676.6,194.4 L1679.1,200.9 L1681.5,207.8 L1683.9,214.8 L1686.4,222.2 L1688.8,229.7 L1691.2,237.6 L1693.6,245.7 L1696.1,254.1 L1698.5,262.8 L1700.9,271.6 L1703.3,280.2 L1705.8,288.6 L1708.2,296.8 L1710.6,304.8 L1713.0,312.4 L1715.5,319.5 L1717.9,326.2 L1720.3,332.5 L1722.7,338.6 L1725.2,344.4 L1727.6,349.9 L1730.0,355.1 L1732.4,360.0 L1734.9,364.5 L1737.3,368.8 L1739.7,372.7 L1742.2,376.2 L1744.6,379.5 L1747.0,382.6 L1749.4,385.4 L1751.9,387.9 L1754.3,390.1 L1756.7,392.1 L1759.1,394.1 L1761.6,395.9 L1764.0,397.7 L1766.4,399.5 L1768.8,401.1 L1771.3,402.6 L1773.7,404.0 L1776.1,405.4 L1778.5,406.7 L1781.0,407.8 L1783.4,408.9 L1785.8,409.8 L1788.3,410.7 L1790.7,411.5 L1793.1,412.3 L1795.5,413.1 L1798.0,414.0 L1800.4,415.0 L1802.8,415.9 L1805.2,416.8 L1807.7,417.8 L1810.1,418.7 L1812.5,419.5 L1814.9,420.4 L1817.4,421.2 L1819.8,422.1 L1822.2,422.9 L1824.6,423.6 L1827.1,424.4 L1829.5,424.9 L1829.5,425.8 L1827.1,425.3 L1824.6,424.5 L1822.2,423.8 L1819.8,423.0 L1817.4,422.1 L1814.9,421.3 L1812.5,420.4 L1810.1,419.6 L1807.7,418.7 L1805.2,417.7 L1802.8,416.8 L1800.4,415.9 L1798.0,414.9 L1795.5,414.0 L1793.1,413.2 L1790.7,412.4 L1788.3,411.6 L1785.8,410.7 L1783.4,409.8 L1781.0,408.7 L1778.5,407.6 L1776.1,406.3 L1773.7,404.9 L1771.3,403.5 L1768.8,402.0 L1766.4,400.4 L1764.0,398.6 L1761.6,396.8 L1759.1,395.0 L1756.7,393.0 L1754.3,391.0 L1751.9,388.8 L1749.4,386.3 L1747.0,383.5 L1744.6,380.4 L1742.2,377.1 L1739.7,373.6 L1737.3,369.7 L1734.9,365.4 L1732.4,360.9 L1730.0,356.0 L1727.6,350.8 L1725.2,345.3 L1722.7,339.5 L1720.3,333.4 L1717.9,327.1 L1715.5,320.4 L1713.0,313.3 L1710.6,305.7 L1708.2,297.7 L1705.8,289.5 L1703.3,281.1 L1700.9,272.5 L1698.5,263.7 L1696.1,255.0 L1693.6,246.6 L1691.2,238.5 L1688.8,230.6 L1686.4,223.1 L1683.9,215.7 L1681.5,208.7 L1679.1,201.8 L1676.6,195.3 L1674.2,189.0 L1671.8,183.1 L1669.4,177.7 L1666.9,172.6 L1664.5,168.6 L1662.1,166.0 L1659.7,164.4 L1657.2,163.4 L1654.8,162.9 L1652.4,163.1 L1650.0,164.5 L1647.5,167.3 L1645.1,171.5 L1642.7,177.2 L1640.3,184.3 L1637.8,192.2 L1635.4,200.6 L1633.0,209.3 L1630.5,218.3 L1628.1,227.7 L1625.7,237.0 L1623.3,245.9 L1620.8,254.4 L1618.4,262.8 L1616.0,271.4 L1613.6,280.4 L1611.1,289.8 L1608.7,299.0 L1606.3,308.0 L1603.9,316.5 L1601.4,324.2 L1599.0,331.4 L1596.6,337.9 L1594.2,343.8 L1591.7,349.3 L1589.3,354.3 L1586.9,359.1 L1584.5,363.5 L1582.0,367.6 L1579.6,371.4 L1577.2,374.6 L1574.7,376.9 L1572.3,378.4 L1569.9,379.5 L1567.5,380.5 L1565.0,381.4 L1562.6,382.4 L1560.2,383.4 L1557.8,384.4 L1555.3,385.0 L1552.9,385.2 L1550.5,385.1 L1548.1,385.0 L1545.6,384.8 L1543.2,384.7 L1540.8,384.7 L1538.4,384.8 L1535.9,385.0 L1533.5,385.3 L1531.1,385.5 L1528.6,385.7 L1526.2,385.7 L1523.8,385.7 L1521.4,385.7 L1518.9,385.7 L1516.5,385.7 L1514.1,385.7 L1511.7,385.6 L1509.2,385.6 L1506.8,385.5 L1504.4,385.4 L1502.0,385.5 L1499.5,385.9 L1497.1,386.8 L1494.7,387.9 L1492.3,388.8 L1489.8,389.5 L1487.4,390.0 L1485.0,390.5 L1482.6,391.1 L1480.1,391.7 L1477.7,392.4 L1475.3,393.1 L1472.8,394.0 L1470.4,394.9 L1468.0,396.0 L1465.6,397.4 L1463.1,399.0 L1460.7,401.1 L1458.3,403.4 L1455.9,405.5 L1453.4,407.3 L1451.0,408.7 L1448.6,410.1 L1446.2,411.5 L1443.7,413.1 L1441.3,415.2 L1438.9,417.4 L1436.5,419.9 L1434.0,422.3 L1431.6,424.5 L1429.2,426.6 L1426.8,428.6 L1424.3,430.6 L1421.9,432.5 L1419.5,434.4 L1417.0,436.1 L1414.6,437.8 L1412.2,439.4 L1409.8,440.9 L1407.3,442.4 L1404.9,443.8 L1402.5,445.1 L1400.1,446.4 L1397.6,447.5 L1395.2,448.4Z" fill="#ee3a44" stroke="#ee3a44" stroke-width="2.85" stroke-linejoin="round"/>
<path d="M1395.2,446.5 L1397.6,445.6 L1400.1,444.4 L1402.5,443.0 L1404.9,441.6 L1407.3,440.1 L1409.8,438.5 L1412.2,436.8 L1414.6,435.0 L1417.0,433.1 L1419.5,431.1 L1421.9,429.0 L1424.3,426.9 L1426.8,424.6 L1429.2,422.3 L1431.6,419.9 L1434.0,417.3 L1436.5,414.4 L1438.9,411.6 L1441.3,408.8 L1443.7,406.5 L1446.2,404.5 L1448.6,402.9 L1451.0,401.4 L1453.4,399.7 L1455.9,397.6 L1458.3,394.9 L1460.7,392.1 L1463.1,389.6 L1465.6,387.6 L1468.0,386.0 L1470.4,384.7 L1472.8,383.6 L1475.3,382.6 L1477.7,381.8 L1480.1,381.0 L1482.6,380.3 L1485.0,379.7 L1487.4,379.1 L1489.8,378.5 L1492.3,377.8 L1494.7,376.6 L1497.1,375.2 L1499.5,374.1 L1502.0,373.6 L1504.4,373.6 L1506.8,373.7 L1509.2,373.8 L1511.7,373.9 L1514.1,374.0 L1516.5,374.0 L1518.9,374.1 L1521.4,374.1 L1523.8,374.1 L1526.2,374.1 L1528.6,374.0 L1531.1,373.8 L1533.5,373.5 L1535.9,373.1 L1538.4,372.8 L1540.8,372.6 L1543.2,372.7 L1545.6,372.8 L1548.1,373.0 L1550.5,373.2 L1552.9,373.3 L1555.3,373.1 L1557.8,372.4 L1560.2,371.2 L1562.6,369.9 L1565.0,368.7 L1567.5,367.7 L1569.9,366.6 L1572.3,365.4 L1574.7,363.7 L1577.2,361.1 L1579.6,357.3 L1582.0,352.8 L1584.5,347.9 L1586.9,342.7 L1589.3,337.1 L1591.7,331.1 L1594.2,324.8 L1596.6,317.9 L1599.0,310.5 L1601.4,302.3 L1603.9,293.4 L1606.3,283.8 L1608.7,273.6 L1611.1,263.1 L1613.6,252.7 L1616.0,242.5 L1618.4,232.8 L1620.8,223.3 L1623.3,213.7 L1625.7,203.4 L1628.1,192.6 L1630.5,181.7 L1633.0,171.2 L1635.4,161.0 L1637.8,151.3 L1640.3,142.1 L1642.7,133.7 L1645.1,127.1 L1647.5,122.3 L1650.0,119.1 L1652.4,117.7 L1654.8,117.7 L1657.2,118.4 L1659.7,119.6 L1662.1,121.3 L1664.5,124.1 L1666.9,128.6 L1669.4,134.1 L1671.8,140.2 L1674.2,146.7 L1676.6,153.6 L1679.1,160.9 L1681.5,168.6 L1683.9,176.5 L1686.4,184.8 L1688.8,193.5 L1691.2,202.5 L1693.6,211.9 L1696.1,221.7 L1698.5,231.8 L1700.9,242.0 L1703.3,252.1 L1705.8,261.9 L1708.2,271.5 L1710.6,280.7 L1713.0,289.4 L1715.5,297.6 L1717.9,305.2 L1720.3,312.5 L1722.7,319.4 L1725.2,326.1 L1727.6,332.6 L1730.0,338.6 L1732.4,344.3 L1734.9,349.5 L1737.3,354.5 L1739.7,359.0 L1742.2,363.2 L1744.6,367.0 L1747.0,370.5 L1749.4,373.7 L1751.9,376.6 L1754.3,379.2 L1756.7,381.5 L1759.1,383.7 L1761.6,385.8 L1764.0,387.9 L1766.4,389.9 L1768.8,391.7 L1771.3,393.5 L1773.7,395.1 L1776.1,396.6 L1778.5,398.1 L1781.0,399.4 L1783.4,400.6 L1785.8,401.7 L1788.3,402.7 L1790.7,403.6 L1793.1,404.5 L1795.5,405.5 L1798.0,406.5 L1800.4,407.6 L1802.8,408.7 L1805.2,409.8 L1807.7,410.9 L1810.1,411.9 L1812.5,413.0 L1814.9,414.0 L1817.4,415.0 L1819.8,416.0 L1822.2,417.0 L1824.6,418.0 L1827.1,418.9 L1829.5,419.6 L1829.5,420.4 L1827.1,419.7 L1824.6,418.8 L1822.2,417.8 L1819.8,416.8 L1817.4,415.8 L1814.9,414.8 L1812.5,413.8 L1810.1,412.7 L1807.7,411.7 L1805.2,410.6 L1802.8,409.5 L1800.4,408.4 L1798.0,407.3 L1795.5,406.3 L1793.1,405.3 L1790.7,404.4 L1788.3,403.5 L1785.8,402.5 L1783.4,401.4 L1781.0,400.2 L1778.5,398.9 L1776.1,397.4 L1773.7,395.9 L1771.3,394.3 L1768.8,392.5 L1766.4,390.7 L1764.0,388.7 L1761.6,386.6 L1759.1,384.5 L1756.7,382.3 L1754.3,380.0 L1751.9,377.4 L1749.4,374.5 L1747.0,371.3 L1744.6,367.8 L1742.2,364.0 L1739.7,359.8 L1737.3,355.3 L1734.9,350.3 L1732.4,345.1 L1730.0,339.4 L1727.6,333.4 L1725.2,326.9 L1722.7,320.2 L1720.3,313.3 L1717.9,306.0 L1715.5,298.4 L1713.0,290.2 L1710.6,281.5 L1708.2,272.3 L1705.8,262.7 L1703.3,252.9 L1700.9,242.8 L1698.5,232.6 L1696.1,222.5 L1693.6,212.7 L1691.2,203.3 L1688.8,194.3 L1686.4,185.6 L1683.9,177.3 L1681.5,169.4 L1679.1,161.7 L1676.6,154.4 L1674.2,147.5 L1671.8,141.0 L1669.4,134.9 L1666.9,129.4 L1664.5,124.9 L1662.1,122.1 L1659.7,120.4 L1657.2,119.2 L1654.8,118.5 L1652.4,118.5 L1650.0,119.9 L1647.5,123.1 L1645.1,127.9 L1642.7,134.5 L1640.3,142.9 L1637.8,152.1 L1635.4,161.8 L1633.0,172.0 L1630.5,182.5 L1628.1,193.4 L1625.7,204.2 L1623.3,214.5 L1620.8,224.1 L1618.4,233.6 L1616.0,243.3 L1613.6,253.5 L1611.1,263.9 L1608.7,274.4 L1606.3,284.6 L1603.9,294.2 L1601.4,303.1 L1599.0,311.3 L1596.6,318.7 L1594.2,325.6 L1591.7,331.9 L1589.3,337.9 L1586.9,343.5 L1584.5,348.7 L1582.0,353.6 L1579.6,358.1 L1577.2,361.9 L1574.7,364.5 L1572.3,366.2 L1569.9,367.4 L1567.5,368.5 L1565.0,369.5 L1562.6,370.7 L1560.2,372.0 L1557.8,373.2 L1555.3,373.9 L1552.9,374.1 L1550.5,374.0 L1548.1,373.8 L1545.6,373.6 L1543.2,373.5 L1540.8,373.4 L1538.4,373.6 L1535.9,373.9 L1533.5,374.3 L1531.1,374.6 L1528.6,374.8 L1526.2,374.9 L1523.8,374.9 L1521.4,374.9 L1518.9,374.9 L1516.5,374.8 L1514.1,374.8 L1511.7,374.7 L1509.2,374.6 L1506.8,374.5 L1504.4,374.4 L1502.0,374.4 L1499.5,374.9 L1497.1,376.0 L1494.7,377.4 L1492.3,378.6 L1489.8,379.3 L1487.4,379.9 L1485.0,380.5 L1482.6,381.1 L1480.1,381.8 L1477.7,382.6 L1475.3,383.4 L1472.8,384.4 L1470.4,385.5 L1468.0,386.8 L1465.6,388.4 L1463.1,390.4 L1460.7,392.9 L1458.3,395.7 L1455.9,398.4 L1453.4,400.5 L1451.0,402.2 L1448.6,403.7 L1446.2,405.3 L1443.7,407.3 L1441.3,409.6 L1438.9,412.4 L1436.5,415.2 L1434.0,418.1 L1431.6,420.7 L1429.2,423.1 L1426.8,425.4 L1424.3,427.7 L1421.9,429.8 L1419.5,431.9 L1417.0,433.9 L1414.6,435.8 L1412.2,437.6 L1409.8,439.3 L1407.3,440.9 L1404.9,442.4 L1402.5,443.8 L1400.1,445.2 L1397.6,446.4 L1395.2,447.3Z" fill="#000000" stroke="#000000" stroke-width="3.5" stroke-linejoin="round"/>
<rect x="1366.90" y="41.60" width="493.20" height="422.10" fill="none" stroke="#000" stroke-width="4.7"/>
<line x1="1354.00" y1="41.60" x2="1366.90" y2="41.60" stroke="#000" stroke-width="4.7" />
<line x1="1354.00" y1="463.70" x2="1366.90" y2="463.70" stroke="#000" stroke-width="4.7" />
<line x1="1354.00" y1="403.20" x2="1366.90" y2="403.20" stroke="#000" stroke-width="4.4" />
<line x1="1354.00" y1="342.90" x2="1366.90" y2="342.90" stroke="#000" stroke-width="4.4" />
<line x1="1354.00" y1="282.60" x2="1366.90" y2="282.60" stroke="#000" stroke-width="4.4" />
<line x1="1354.00" y1="222.30" x2="1366.90" y2="222.30" stroke="#000" stroke-width="4.4" />
<line x1="1354.00" y1="162.00" x2="1366.90" y2="162.00" stroke="#000" stroke-width="4.4" />
<line x1="1354.00" y1="101.70" x2="1366.90" y2="101.70" stroke="#000" stroke-width="4.4" />
<line x1="1395.50" y1="463.70" x2="1395.50" y2="477.10" stroke="#000" stroke-width="4.0" />
<line x1="1540.16" y1="463.70" x2="1540.16" y2="477.10" stroke="#000" stroke-width="4.0" />
<line x1="1684.83" y1="463.70" x2="1684.83" y2="477.10" stroke="#000" stroke-width="4.0" />
<line x1="1829.49" y1="463.70" x2="1829.49" y2="477.10" stroke="#000" stroke-width="4.0" />
<text transform="translate(1332.23,474.80) scale(0.9300,1)" font-weight="bold" fill="#000" ><tspan font-size="32.3">0</tspan></text>
<text transform="translate(1332.23,414.50) scale(0.9300,1)" font-weight="bold" fill="#000" ><tspan font-size="32.3">2</tspan></text>
<text transform="translate(1331.18,354.20) scale(0.9300,1)" font-weight="bold" fill="#000" ><tspan font-size="32.3">4</tspan></text>
<text transform="translate(1332.08,293.90) scale(0.9300,1)" font-weight="bold" fill="#000" ><tspan font-size="32.3">6</tspan></text>
<text transform="translate(1331.93,233.60) scale(0.9300,1)" font-weight="bold" fill="#000" ><tspan font-size="32.3">8</tspan></text>
<text transform="translate(1315.56,173.30) scale(0.9300,1)" font-weight="bold" fill="#000" ><tspan font-size="32.3">10</tspan></text>
<text transform="translate(1315.56,113.00) scale(0.9300,1)" font-weight="bold" fill="#000" ><tspan font-size="32.3">12</tspan></text>
<text transform="translate(1314.51,52.70) scale(0.9300,1)" font-weight="bold" fill="#000" ><tspan font-size="32.3">14</tspan></text>
<text transform="translate(1368.61,511.30) scale(0.9700,1)" font-weight="bold" fill="#000" ><tspan font-size="32">500</tspan></text>
<text transform="translate(1513.28,511.30) scale(0.9700,1)" font-weight="bold" fill="#000" ><tspan font-size="32">550</tspan></text>
<text transform="translate(1657.87,511.30) scale(0.9700,1)" font-weight="bold" fill="#000" ><tspan font-size="32">600</tspan></text>
<text transform="translate(1802.53,511.30) scale(0.9700,1)" font-weight="bold" fill="#000" ><tspan font-size="32">650</tspan></text>
<text transform="translate(1472.90,564.00) scale(0.9869,1)" font-weight="bold" fill="#000" ><tspan font-size="35">Wavelength (nm)</tspan></text>
<text transform="translate(1292.60,370.58) rotate(-90) scale(1.0356,1)" font-weight="bold" fill="#000" ><tspan font-size="33.8">Intensity (a.u.)</tspan></text>
<text transform="translate(1381.61,74.60) scale(0.9557,1)" font-weight="bold" fill="#000" ><tspan font-size="30.2">[IP7](μM)</tspan></text>
<text transform="translate(1407.02,112.70) scale(0.9071,1)" font-weight="bold" fill="#000000" ><tspan font-size="32.4">0.0</tspan></text>
<text transform="translate(1406.58,142.20) scale(0.9071,1)" font-weight="bold" fill="#de0a1e" ><tspan font-size="32.4">0.5</tspan></text>
<text transform="translate(1407.02,171.70) scale(0.9071,1)" font-weight="bold" fill="#0a0ae0" ><tspan font-size="32.4">1.0</tspan></text>
<text transform="translate(1406.58,201.20) scale(0.9071,1)" font-weight="bold" fill="#b408cc" ><tspan font-size="32.4">1.5</tspan></text>
<text transform="translate(1407.02,230.70) scale(0.9071,1)" font-weight="bold" fill="#0aa80a" ><tspan font-size="32.4">2.0</tspan></text>
<text transform="translate(1407.02,260.20) scale(0.9071,1)" font-weight="bold" fill="#f0701e" ><tspan font-size="32.4">3.0</tspan></text>
<text transform="translate(1407.02,289.70) scale(0.9071,1)" font-weight="bold" fill="#0ae6f0" ><tspan font-size="32.4">4.0</tspan></text>
<text transform="translate(1407.02,319.20) scale(0.9071,1)" font-weight="bold" fill="#c0b00a" ><tspan font-size="32.4">5.0</tspan></text>
<text transform="translate(1406.58,348.70) scale(0.9071,1)" font-weight="bold" fill="#34e0b0" ><tspan font-size="32.4">7.5</tspan></text>
<text transform="translate(1393.26,378.20) scale(0.8950,1)" font-weight="bold" fill="#a0a0a0" ><tspan font-size="32.4">10.0</tspan></text>
</g>
<g id="panelFura">
<text transform="translate(508.02,667.70) scale(0.9299,1)" font-weight="bold" fill="#000" ><tspan font-size="47.7">b</tspan></text>
<text transform="translate(586.87,667.00) scale(0.9482,1)" font-weight="bold" fill="#000" stroke="#000" stroke-width="0.4"><tspan font-size="33">Fura-2 + Ca</tspan></text>
<text transform="translate(761.97,655.40) scale(0.9971,1)" font-weight="bold" fill="#000" stroke="#000" stroke-width="0.4"><tspan font-size="21">2+</tspan></text>
<text transform="translate(878.53,667.00) scale(0.9663,1)" font-weight="bold" fill="#000" stroke="#000" stroke-width="0.4"><tspan font-size="33">Fura-2-Ca</tspan></text>
<text transform="translate(1030.84,655.40) scale(1.0373,1)" font-weight="bold" fill="#000" stroke="#000" stroke-width="0.4"><tspan font-size="21">2+</tspan></text>
<line x1="799.30" y1="657.90" x2="855.00" y2="657.90" stroke="#000" stroke-width="3.8" />
<polygon points="853.4,649.5 869.5,657.9 853.4,666.3" fill="#000"/>
<line x1="820.30" y1="666.00" x2="843.70" y2="666.00" stroke="#000" stroke-width="3.5" />
<line x1="829.70" y1="666.00" x2="829.70" y2="692.30" stroke="#000" stroke-width="4.3" />
<text transform="translate(799.80,727.70) scale(1.0104,1)" font-weight="bold" fill="#000" stroke="#000" stroke-width="0.4"><tspan font-size="33">5-IP</tspan><tspan font-size="22" dy="8.10">7</tspan></text>
<line x1="661.90" y1="711.54" x2="661.90" y2="1055.00" stroke="#000" stroke-width="3.2" />
<line x1="652.60" y1="1053.40" x2="1067.70" y2="1053.40" stroke="#000" stroke-width="3.2" />
<line x1="652.60" y1="996.69" x2="661.90" y2="996.69" stroke="#000" stroke-width="3.2" />
<line x1="652.60" y1="939.98" x2="661.90" y2="939.98" stroke="#000" stroke-width="3.2" />
<line x1="652.60" y1="883.27" x2="661.90" y2="883.27" stroke="#000" stroke-width="3.2" />
<line x1="652.60" y1="826.56" x2="661.90" y2="826.56" stroke="#000" stroke-width="3.2" />
<line x1="652.60" y1="769.85" x2="661.90" y2="769.85" stroke="#000" stroke-width="3.2" />
<line x1="652.60" y1="713.14" x2="661.90" y2="713.14" stroke="#000" stroke-width="3.2" />
<line x1="661.90" y1="1053.40" x2="661.90" y2="1063.30" stroke="#000" stroke-width="3.2" />
<line x1="758.70" y1="1053.40" x2="758.70" y2="1063.30" stroke="#000" stroke-width="3.2" />
<line x1="855.50" y1="1053.40" x2="855.50" y2="1063.30" stroke="#000" stroke-width="3.2" />
<line x1="952.30" y1="1053.40" x2="952.30" y2="1063.30" stroke="#000" stroke-width="3.2" />
<line x1="1049.10" y1="1053.40" x2="1049.10" y2="1063.30" stroke="#000" stroke-width="3.2" />
<text transform="translate(634.36,1061.90) scale(0.9822,1)" font-weight="bold" fill="#000" stroke="#000" stroke-width="0.35"><tspan font-size="24.2">0</tspan></text>
<text transform="translate(621.17,1005.19) scale(0.9822,1)" font-weight="bold" fill="#000" stroke="#000" stroke-width="0.35"><tspan font-size="24.2">20</tspan></text>
<text transform="translate(621.17,948.48) scale(0.9822,1)" font-weight="bold" fill="#000" stroke="#000" stroke-width="0.35"><tspan font-size="24.2">40</tspan></text>
<text transform="translate(621.17,891.77) scale(0.9822,1)" font-weight="bold" fill="#000" stroke="#000" stroke-width="0.35"><tspan font-size="24.2">60</tspan></text>
<text transform="translate(621.17,835.06) scale(0.9822,1)" font-weight="bold" fill="#000" stroke="#000" stroke-width="0.35"><tspan font-size="24.2">80</tspan></text>
<text transform="translate(607.97,778.35) scale(0.9822,1)" font-weight="bold" fill="#000" stroke="#000" stroke-width="0.35"><tspan font-size="24.2">100</tspan></text>
<text transform="translate(607.97,721.64) scale(0.9822,1)" font-weight="bold" fill="#000" stroke="#000" stroke-width="0.35"><tspan font-size="24.2">120</tspan></text>
<text transform="translate(655.30,1089.20) scale(0.9822,1)" font-weight="bold" fill="#000" stroke="#000" stroke-width="0.35"><tspan font-size="24.2">0</tspan></text>
<text transform="translate(745.27,1089.20) scale(0.9822,1)" font-weight="bold" fill="#000" stroke="#000" stroke-width="0.35"><tspan font-size="24.2">10</tspan></text>
<text transform="translate(842.37,1089.20) scale(0.9822,1)" font-weight="bold" fill="#000" stroke="#000" stroke-width="0.35"><tspan font-size="24.2">20</tspan></text>
<text transform="translate(939.29,1089.20) scale(0.9822,1)" font-weight="bold" fill="#000" stroke="#000" stroke-width="0.35"><tspan font-size="24.2">30</tspan></text>
<text transform="translate(1036.20,1089.20) scale(0.9822,1)" font-weight="bold" fill="#000" stroke="#000" stroke-width="0.35"><tspan font-size="24.2">40</tspan></text>
<text transform="translate(750.86,1129.70) scale(1.1011,1)" font-weight="bold" fill="#000" stroke="#000" stroke-width="0.3"><tspan font-size="25.5">[IP</tspan><tspan font-size="23" dy="7.80">6</tspan><tspan font-size="25.5" dy="-7.80"> or 5-IP</tspan><tspan font-size="23" dy="7.80">7</tspan><tspan font-size="25.5" dy="-7.80">] (μM)</tspan></text>
<text transform="rotate(-90)" y="596.40" font-weight="normal" fill="#000" stroke="#000" stroke-width="0.7"><tspan font-size="28.4" x="-1008.07" textLength="114.93" lengthAdjust="spacing">Relative</tspan><tspan font-size="28.4" x="-896.09" textLength="140.54" lengthAdjust="spacingAndGlyphs"> F340/F380</tspan></text>
<path d="M661.9,769.9 L671.6,769.9 L686.1,782.6 L710.3,808.4 L758.7,917.0 L855.5,942.5 L1049.1,970.9" fill="none" stroke="#000" stroke-width="2.9" stroke-linejoin="round" stroke-linecap="butt" stroke-dasharray="10 7.5" stroke-dashoffset="-6"/>
<path d="M661.9,769.9 L671.6,748.0 L686.1,762.8 L710.3,770.4 L758.7,784.0 L855.5,777.5 L1049.1,785.7" fill="none" stroke="#000" stroke-width="2.9" stroke-linejoin="round" stroke-linecap="butt" />
<rect x="654.60" y="762.55" width="14.60" height="14.60" fill="#000" />
<rect x="664.28" y="762.55" width="14.60" height="14.60" fill="#000" />
<rect x="678.80" y="775.31" width="14.60" height="14.60" fill="#000" />
<rect x="703.00" y="801.11" width="14.60" height="14.60" fill="#000" />
<rect x="751.40" y="909.71" width="14.60" height="14.60" fill="#000" />
<rect x="848.20" y="935.23" width="14.60" height="14.60" fill="#000" />
<rect x="1041.80" y="963.59" width="14.60" height="14.60" fill="#000" />
<circle cx="661.90" cy="769.85" r="7.1" fill="#000"/>
<circle cx="671.58" cy="748.02" r="7.1" fill="#000"/>
<circle cx="686.10" cy="762.76" r="7.1" fill="#000"/>
<circle cx="710.30" cy="770.42" r="7.1" fill="#000"/>
<circle cx="758.70" cy="784.03" r="7.1" fill="#000"/>
<circle cx="855.50" cy="777.51" r="7.1" fill="#000"/>
<circle cx="1049.10" cy="785.73" r="7.1" fill="#000"/>
<line x1="928.00" y1="847.90" x2="965.30" y2="847.90" stroke="#000" stroke-width="2.9" />
<circle cx="947.4" cy="848.1" r="7.0" fill="#000"/>
<line x1="928.00" y1="887.60" x2="935.80" y2="887.60" stroke="#000" stroke-width="2.9" />
<circle cx="963.8" cy="887.0" r="1.9" fill="#000"/>
<rect x="940.20" y="880.70" width="14.80" height="14.80" fill="#000" />
<text transform="translate(984.49,854.50) scale(1.0083,1)" font-weight="normal" fill="#000" stroke="#000" stroke-width="0.6"><tspan font-size="27.7">IP</tspan><tspan font-size="22" dy="6.80">6</tspan></text>
<text transform="translate(985.49,893.70) scale(1.0016,1)" font-weight="normal" fill="#000" stroke="#000" stroke-width="0.6"><tspan font-size="27.7">5-IP</tspan><tspan font-size="22" dy="6.80">7</tspan></text>
</g>
</svg>
</body></html>
